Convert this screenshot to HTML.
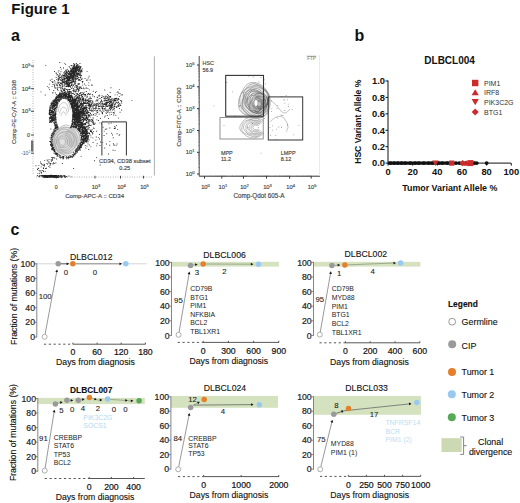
<!DOCTYPE html>
<html><head><meta charset="utf-8"><style>
html,body{margin:0;padding:0;background:#fff;width:520px;height:503px;overflow:hidden;}
svg{display:block;}
text{font-family:"Liberation Sans", sans-serif;}
</style></head><body>
<svg width="520" height="503" viewBox="0 0 520 503">
<rect width="520" height="503" fill="#fff"/>
<text x="11.30" y="13.60" font-size="15" font-weight="bold" text-anchor="start" fill="#111">Figure 1</text>
<text x="11.00" y="40.60" font-size="16" font-weight="bold" text-anchor="start" fill="#111">a</text>
<text x="354.60" y="41.20" font-size="16" font-weight="bold" text-anchor="start" fill="#111">b</text>
<text x="10.60" y="235.40" font-size="16" font-weight="bold" text-anchor="start" fill="#111">c</text>
<path d="M57.8 97.1h0.9v0.9h-0.9zM75.1 114.8h0.9v0.9h-0.9zM77.4 119.2h0.9v0.9h-0.9zM83.7 140.9h0.9v0.9h-0.9zM53.4 131.0h0.9v0.9h-0.9zM71.9 121.5h0.9v0.9h-0.9zM70.2 155.7h0.9v0.9h-0.9zM52.8 103.7h0.9v0.9h-0.9zM78.0 126.2h0.9v0.9h-0.9zM61.9 93.3h0.9v0.9h-0.9zM48.9 112.2h0.9v0.9h-0.9zM69.1 96.7h0.9v0.9h-0.9zM87.5 140.7h0.9v0.9h-0.9zM54.4 114.3h0.9v0.9h-0.9zM52.1 103.1h0.9v0.9h-0.9zM75.9 149.0h0.9v0.9h-0.9zM81.3 123.2h0.9v0.9h-0.9zM53.9 108.4h0.9v0.9h-0.9zM63.0 95.5h0.9v0.9h-0.9zM70.8 104.9h0.9v0.9h-0.9zM78.1 121.2h0.9v0.9h-0.9zM54.3 129.8h0.9v0.9h-0.9zM48.9 119.5h0.9v0.9h-0.9zM50.8 110.5h0.9v0.9h-0.9zM74.3 126.0h0.9v0.9h-0.9zM63.2 157.9h0.9v0.9h-0.9zM51.1 110.0h0.9v0.9h-0.9zM55.9 125.0h0.9v0.9h-0.9zM49.8 112.8h0.9v0.9h-0.9zM70.3 100.2h0.9v0.9h-0.9zM85.8 141.5h0.9v0.9h-0.9zM75.0 117.4h0.9v0.9h-0.9zM76.9 107.6h0.9v0.9h-0.9zM53.3 108.4h0.9v0.9h-0.9zM65.3 97.6h0.9v0.9h-0.9zM52.8 131.8h0.9v0.9h-0.9zM81.3 137.6h0.9v0.9h-0.9zM72.1 156.4h0.9v0.9h-0.9zM59.8 93.4h0.9v0.9h-0.9zM86.0 129.7h0.9v0.9h-0.9zM77.4 124.1h0.9v0.9h-0.9zM81.2 125.2h0.9v0.9h-0.9zM51.3 144.2h0.9v0.9h-0.9zM82.2 134.4h0.9v0.9h-0.9zM77.2 108.3h0.9v0.9h-0.9zM65.6 94.5h0.9v0.9h-0.9zM53.7 106.3h0.9v0.9h-0.9zM68.1 100.2h0.9v0.9h-0.9zM81.4 136.6h0.9v0.9h-0.9zM76.1 109.1h0.9v0.9h-0.9zM64.7 96.2h0.9v0.9h-0.9zM53.2 105.7h0.9v0.9h-0.9zM71.3 156.0h0.9v0.9h-0.9zM54.9 104.9h0.9v0.9h-0.9zM75.5 109.3h0.9v0.9h-0.9zM52.9 104.8h0.9v0.9h-0.9zM61.6 156.9h0.9v0.9h-0.9zM76.5 115.3h0.9v0.9h-0.9zM55.4 113.1h0.9v0.9h-0.9zM50.6 114.1h0.9v0.9h-0.9zM73.4 111.2h0.9v0.9h-0.9zM86.6 138.2h0.9v0.9h-0.9zM51.0 104.8h0.9v0.9h-0.9zM52.7 149.7h0.9v0.9h-0.9zM52.0 114.5h0.9v0.9h-0.9zM54.0 133.0h0.9v0.9h-0.9zM50.2 110.0h0.9v0.9h-0.9zM51.2 148.6h0.9v0.9h-0.9zM65.3 98.0h0.9v0.9h-0.9zM52.0 117.0h0.9v0.9h-0.9zM74.5 109.5h0.9v0.9h-0.9zM66.0 93.6h0.9v0.9h-0.9zM80.3 147.2h0.9v0.9h-0.9zM51.5 106.0h0.9v0.9h-0.9zM75.0 113.8h0.9v0.9h-0.9zM73.9 119.6h0.9v0.9h-0.9zM52.3 131.7h0.9v0.9h-0.9zM51.2 134.9h0.9v0.9h-0.9zM75.5 120.5h0.9v0.9h-0.9zM51.0 133.6h0.9v0.9h-0.9zM83.1 142.2h0.9v0.9h-0.9zM83.4 126.9h0.9v0.9h-0.9zM54.3 103.9h0.9v0.9h-0.9zM72.5 114.1h0.9v0.9h-0.9zM84.7 135.7h0.9v0.9h-0.9zM85.4 135.5h0.9v0.9h-0.9zM51.3 110.5h0.9v0.9h-0.9zM54.1 107.6h0.9v0.9h-0.9zM79.4 114.4h0.9v0.9h-0.9zM78.8 128.0h0.9v0.9h-0.9zM51.1 146.0h0.9v0.9h-0.9zM55.6 102.2h0.9v0.9h-0.9zM78.5 124.9h0.9v0.9h-0.9zM78.3 148.0h0.9v0.9h-0.9zM74.5 113.4h0.9v0.9h-0.9zM51.3 106.1h0.9v0.9h-0.9zM81.5 145.2h0.9v0.9h-0.9zM75.5 112.9h0.9v0.9h-0.9zM58.0 97.4h0.9v0.9h-0.9zM86.4 138.0h0.9v0.9h-0.9zM53.1 100.3h0.9v0.9h-0.9zM48.9 111.2h0.9v0.9h-0.9zM51.4 116.1h0.9v0.9h-0.9zM83.5 140.5h0.9v0.9h-0.9zM65.5 96.3h0.9v0.9h-0.9zM73.2 117.4h0.9v0.9h-0.9zM53.8 118.9h0.9v0.9h-0.9zM69.9 97.9h0.9v0.9h-0.9zM79.5 126.0h0.9v0.9h-0.9zM75.2 151.3h0.9v0.9h-0.9zM78.4 113.2h0.9v0.9h-0.9zM54.6 103.0h0.9v0.9h-0.9zM74.9 122.5h0.9v0.9h-0.9zM70.9 103.1h0.9v0.9h-0.9zM75.1 150.5h0.9v0.9h-0.9zM70.2 95.0h0.9v0.9h-0.9zM55.5 104.6h0.9v0.9h-0.9zM76.3 114.0h0.9v0.9h-0.9zM76.1 105.0h0.9v0.9h-0.9zM83.0 138.5h0.9v0.9h-0.9zM78.1 127.5h0.9v0.9h-0.9zM54.5 103.7h0.9v0.9h-0.9zM51.6 119.8h0.9v0.9h-0.9zM76.0 148.4h0.9v0.9h-0.9zM76.2 148.1h0.9v0.9h-0.9zM76.7 121.6h0.9v0.9h-0.9zM76.1 114.5h0.9v0.9h-0.9zM70.9 105.6h0.9v0.9h-0.9zM84.6 131.0h0.9v0.9h-0.9zM62.7 93.2h0.9v0.9h-0.9zM75.4 102.0h0.9v0.9h-0.9zM74.6 118.4h0.9v0.9h-0.9zM73.1 109.7h0.9v0.9h-0.9zM54.5 118.8h0.9v0.9h-0.9zM55.1 153.1h0.9v0.9h-0.9zM51.0 145.0h0.9v0.9h-0.9zM52.9 133.6h0.9v0.9h-0.9zM71.9 156.8h0.9v0.9h-0.9zM72.4 100.1h0.9v0.9h-0.9zM78.6 114.0h0.9v0.9h-0.9zM68.4 96.9h0.9v0.9h-0.9zM60.6 93.5h0.9v0.9h-0.9zM61.9 94.6h0.9v0.9h-0.9zM59.4 157.2h0.9v0.9h-0.9zM83.3 141.8h0.9v0.9h-0.9zM77.2 108.9h0.9v0.9h-0.9zM66.5 98.5h0.9v0.9h-0.9zM86.3 135.3h0.9v0.9h-0.9zM79.3 129.3h0.9v0.9h-0.9zM54.7 117.9h0.9v0.9h-0.9zM76.8 101.9h0.9v0.9h-0.9zM54.2 101.1h0.9v0.9h-0.9zM50.2 119.8h0.9v0.9h-0.9zM71.4 96.0h0.9v0.9h-0.9zM73.5 124.6h0.9v0.9h-0.9zM55.1 101.5h0.9v0.9h-0.9zM84.6 131.6h0.9v0.9h-0.9zM60.2 98.1h0.9v0.9h-0.9zM55.0 128.4h0.9v0.9h-0.9zM74.2 105.0h0.9v0.9h-0.9zM54.8 122.3h0.9v0.9h-0.9zM69.4 96.9h0.9v0.9h-0.9zM55.9 104.5h0.9v0.9h-0.9zM86.2 133.8h0.9v0.9h-0.9zM51.1 141.8h0.9v0.9h-0.9zM53.3 102.7h0.9v0.9h-0.9zM53.1 129.5h0.9v0.9h-0.9zM73.9 153.0h0.9v0.9h-0.9zM80.9 145.8h0.9v0.9h-0.9zM72.2 124.8h0.9v0.9h-0.9zM56.7 96.6h0.9v0.9h-0.9zM51.2 119.1h0.9v0.9h-0.9zM82.5 128.1h0.9v0.9h-0.9zM72.7 113.1h0.9v0.9h-0.9zM63.1 97.5h0.9v0.9h-0.9zM55.9 125.9h0.9v0.9h-0.9zM67.8 100.0h0.9v0.9h-0.9zM73.2 113.3h0.9v0.9h-0.9zM75.6 127.5h0.9v0.9h-0.9zM62.6 94.7h0.9v0.9h-0.9zM85.3 134.0h0.9v0.9h-0.9zM59.5 98.6h0.9v0.9h-0.9zM74.1 104.9h0.9v0.9h-0.9zM52.2 109.7h0.9v0.9h-0.9zM49.5 113.7h0.9v0.9h-0.9zM50.5 107.7h0.9v0.9h-0.9zM76.5 112.3h0.9v0.9h-0.9zM64.9 95.5h0.9v0.9h-0.9zM73.5 102.0h0.9v0.9h-0.9zM57.1 103.1h0.9v0.9h-0.9zM55.5 117.3h0.9v0.9h-0.9zM76.5 113.1h0.9v0.9h-0.9zM80.4 142.0h0.9v0.9h-0.9zM86.2 130.6h0.9v0.9h-0.9zM87.0 133.6h0.9v0.9h-0.9zM78.2 116.5h0.9v0.9h-0.9zM74.5 121.2h0.9v0.9h-0.9zM78.7 149.5h0.9v0.9h-0.9zM54.4 128.7h0.9v0.9h-0.9zM51.1 109.8h0.9v0.9h-0.9zM76.9 104.0h0.9v0.9h-0.9zM84.8 128.9h0.9v0.9h-0.9zM55.4 100.8h0.9v0.9h-0.9zM78.6 120.8h0.9v0.9h-0.9zM53.8 104.7h0.9v0.9h-0.9zM56.3 99.9h0.9v0.9h-0.9zM75.1 152.7h0.9v0.9h-0.9zM58.0 99.8h0.9v0.9h-0.9zM85.1 141.4h0.9v0.9h-0.9zM76.6 151.1h0.9v0.9h-0.9zM49.0 108.7h0.9v0.9h-0.9zM59.1 100.6h0.9v0.9h-0.9zM73.5 108.8h0.9v0.9h-0.9zM79.3 145.6h0.9v0.9h-0.9zM72.7 102.1h0.9v0.9h-0.9zM63.4 156.1h0.9v0.9h-0.9zM77.1 105.4h0.9v0.9h-0.9zM50.6 120.7h0.9v0.9h-0.9zM86.1 131.5h0.9v0.9h-0.9zM60.9 96.5h0.9v0.9h-0.9zM77.9 149.7h0.9v0.9h-0.9zM58.8 97.1h0.9v0.9h-0.9zM77.4 116.4h0.9v0.9h-0.9zM66.2 97.7h0.9v0.9h-0.9zM49.3 113.9h0.9v0.9h-0.9zM76.9 106.8h0.9v0.9h-0.9zM55.0 125.0h0.9v0.9h-0.9zM54.4 130.5h0.9v0.9h-0.9zM82.6 135.6h0.9v0.9h-0.9zM74.9 114.0h0.9v0.9h-0.9zM77.5 109.3h0.9v0.9h-0.9zM82.0 144.2h0.9v0.9h-0.9zM52.9 112.9h0.9v0.9h-0.9zM56.6 98.5h0.9v0.9h-0.9zM73.2 154.1h0.9v0.9h-0.9zM50.8 143.7h0.9v0.9h-0.9zM58.8 95.9h0.9v0.9h-0.9zM75.7 117.4h0.9v0.9h-0.9zM77.3 112.0h0.9v0.9h-0.9zM72.9 105.6h0.9v0.9h-0.9zM73.1 111.5h0.9v0.9h-0.9zM79.1 146.1h0.9v0.9h-0.9zM70.5 99.5h0.9v0.9h-0.9zM75.0 112.5h0.9v0.9h-0.9zM62.5 158.5h0.9v0.9h-0.9zM74.5 102.9h0.9v0.9h-0.9zM53.9 106.0h0.9v0.9h-0.9zM51.2 145.7h0.9v0.9h-0.9zM55.5 111.5h0.9v0.9h-0.9zM83.6 140.2h0.9v0.9h-0.9zM52.7 119.4h0.9v0.9h-0.9zM66.8 95.9h0.9v0.9h-0.9zM80.6 125.1h0.9v0.9h-0.9zM55.0 99.2h0.9v0.9h-0.9zM62.5 96.4h0.9v0.9h-0.9zM78.2 110.9h0.9v0.9h-0.9zM52.9 135.4h0.9v0.9h-0.9zM69.9 102.9h0.9v0.9h-0.9zM73.7 106.2h0.9v0.9h-0.9zM79.7 126.8h0.9v0.9h-0.9zM75.2 151.2h0.9v0.9h-0.9zM84.2 126.7h0.9v0.9h-0.9zM78.2 120.9h0.9v0.9h-0.9zM77.4 114.4h0.9v0.9h-0.9zM74.0 114.7h0.9v0.9h-0.9zM75.7 149.9h0.9v0.9h-0.9zM79.2 114.8h0.9v0.9h-0.9zM76.6 111.4h0.9v0.9h-0.9zM67.3 157.1h0.9v0.9h-0.9zM85.4 138.6h0.9v0.9h-0.9zM78.0 118.4h0.9v0.9h-0.9zM54.4 110.0h0.9v0.9h-0.9zM70.6 125.9h0.9v0.9h-0.9zM56.7 154.3h0.9v0.9h-0.9zM72.1 114.3h0.9v0.9h-0.9zM84.1 132.4h0.9v0.9h-0.9zM72.8 99.4h0.9v0.9h-0.9zM56.2 101.9h0.9v0.9h-0.9zM56.1 103.6h0.9v0.9h-0.9zM72.0 110.5h0.9v0.9h-0.9zM70.8 97.3h0.9v0.9h-0.9zM81.3 124.7h0.9v0.9h-0.9zM72.8 121.9h0.9v0.9h-0.9zM50.9 117.3h0.9v0.9h-0.9zM83.5 130.6h0.9v0.9h-0.9zM52.9 132.6h0.9v0.9h-0.9zM53.5 132.9h0.9v0.9h-0.9zM58.9 96.2h0.9v0.9h-0.9zM50.9 102.6h0.9v0.9h-0.9zM81.3 135.9h0.9v0.9h-0.9zM50.9 135.0h0.9v0.9h-0.9zM79.5 112.9h0.9v0.9h-0.9zM84.1 132.2h0.9v0.9h-0.9zM50.9 121.6h0.9v0.9h-0.9zM79.1 116.4h0.9v0.9h-0.9zM51.8 113.3h0.9v0.9h-0.9zM86.4 134.5h0.9v0.9h-0.9zM74.3 120.5h0.9v0.9h-0.9zM85.9 139.7h0.9v0.9h-0.9zM80.1 145.0h0.9v0.9h-0.9zM81.1 136.3h0.9v0.9h-0.9zM84.3 139.1h0.9v0.9h-0.9zM55.3 97.9h0.9v0.9h-0.9zM50.3 109.8h0.9v0.9h-0.9zM57.3 97.2h0.9v0.9h-0.9zM74.7 105.8h0.9v0.9h-0.9zM85.5 130.3h0.9v0.9h-0.9zM54.6 104.5h0.9v0.9h-0.9zM81.5 139.2h0.9v0.9h-0.9zM55.1 152.6h0.9v0.9h-0.9zM67.5 156.9h0.9v0.9h-0.9zM55.0 102.0h0.9v0.9h-0.9zM74.6 112.2h0.9v0.9h-0.9zM79.8 131.8h0.9v0.9h-0.9zM72.4 103.1h0.9v0.9h-0.9zM50.4 117.2h0.9v0.9h-0.9zM55.5 100.5h0.9v0.9h-0.9zM80.5 126.3h0.9v0.9h-0.9zM54.6 129.8h0.9v0.9h-0.9zM79.7 142.6h0.9v0.9h-0.9zM54.5 113.4h0.9v0.9h-0.9zM59.5 156.9h0.9v0.9h-0.9zM65.0 93.2h0.9v0.9h-0.9zM72.2 115.3h0.9v0.9h-0.9zM75.2 101.5h0.9v0.9h-0.9zM61.0 93.3h0.9v0.9h-0.9zM51.0 121.5h0.9v0.9h-0.9zM78.9 120.2h0.9v0.9h-0.9zM65.9 96.3h0.9v0.9h-0.9zM85.3 135.7h0.9v0.9h-0.9zM68.2 93.5h0.9v0.9h-0.9zM51.4 119.3h0.9v0.9h-0.9zM72.9 126.6h0.9v0.9h-0.9zM55.1 105.0h0.9v0.9h-0.9zM74.5 114.4h0.9v0.9h-0.9zM51.7 108.0h0.9v0.9h-0.9zM78.2 109.3h0.9v0.9h-0.9zM77.8 106.9h0.9v0.9h-0.9zM84.2 138.7h0.9v0.9h-0.9zM71.3 102.9h0.9v0.9h-0.9zM52.3 100.5h0.9v0.9h-0.9zM52.0 115.7h0.9v0.9h-0.9zM64.2 94.5h0.9v0.9h-0.9zM52.2 144.5h0.9v0.9h-0.9zM52.5 132.8h0.9v0.9h-0.9zM81.2 131.7h0.9v0.9h-0.9zM60.6 98.0h0.9v0.9h-0.9zM73.4 105.6h0.9v0.9h-0.9zM72.2 121.2h0.9v0.9h-0.9zM62.5 156.1h0.9v0.9h-0.9zM84.4 137.3h0.9v0.9h-0.9zM68.2 94.3h0.9v0.9h-0.9zM53.0 114.3h0.9v0.9h-0.9zM74.3 122.7h0.9v0.9h-0.9zM77.0 149.0h0.9v0.9h-0.9zM52.8 119.5h0.9v0.9h-0.9zM51.8 106.3h0.9v0.9h-0.9zM54.1 150.7h0.9v0.9h-0.9zM72.4 100.9h0.9v0.9h-0.9zM52.6 106.2h0.9v0.9h-0.9zM78.3 106.0h0.9v0.9h-0.9zM52.6 148.8h0.9v0.9h-0.9zM50.5 141.6h0.9v0.9h-0.9zM71.1 96.1h0.9v0.9h-0.9zM53.3 105.7h0.9v0.9h-0.9zM52.4 146.7h0.9v0.9h-0.9zM68.3 97.1h0.9v0.9h-0.9zM79.4 127.3h0.9v0.9h-0.9zM76.8 102.8h0.9v0.9h-0.9zM79.2 146.6h0.9v0.9h-0.9zM74.1 109.0h0.9v0.9h-0.9zM73.2 108.1h0.9v0.9h-0.9zM54.0 122.5h0.9v0.9h-0.9zM58.8 100.0h0.9v0.9h-0.9zM54.6 114.3h0.9v0.9h-0.9zM60.8 93.8h0.9v0.9h-0.9zM80.0 145.4h0.9v0.9h-0.9zM76.1 115.5h0.9v0.9h-0.9zM51.8 112.2h0.9v0.9h-0.9zM57.1 154.9h0.9v0.9h-0.9zM51.4 114.0h0.9v0.9h-0.9zM72.5 119.6h0.9v0.9h-0.9zM73.1 105.7h0.9v0.9h-0.9zM55.2 118.6h0.9v0.9h-0.9zM81.2 142.0h0.9v0.9h-0.9zM56.7 98.0h0.9v0.9h-0.9zM50.6 110.3h0.9v0.9h-0.9zM67.8 99.7h0.9v0.9h-0.9zM61.6 97.2h0.9v0.9h-0.9zM56.4 129.3h0.9v0.9h-0.9zM75.2 123.2h0.9v0.9h-0.9zM54.3 114.6h0.9v0.9h-0.9zM55.2 111.6h0.9v0.9h-0.9zM50.6 144.8h0.9v0.9h-0.9zM61.2 92.5h0.9v0.9h-0.9zM53.9 103.6h0.9v0.9h-0.9zM71.7 121.1h0.9v0.9h-0.9zM83.2 126.2h0.9v0.9h-0.9zM73.8 110.3h0.9v0.9h-0.9zM72.3 119.2h0.9v0.9h-0.9zM76.0 107.2h0.9v0.9h-0.9zM66.0 94.5h0.9v0.9h-0.9zM75.0 115.1h0.9v0.9h-0.9zM82.4 135.5h0.9v0.9h-0.9zM64.4 92.9h0.9v0.9h-0.9zM77.6 129.3h0.9v0.9h-0.9zM81.9 132.2h0.9v0.9h-0.9zM77.7 114.0h0.9v0.9h-0.9zM76.8 113.8h0.9v0.9h-0.9zM73.3 109.0h0.9v0.9h-0.9zM76.9 151.8h0.9v0.9h-0.9zM73.2 99.5h0.9v0.9h-0.9zM75.7 118.9h0.9v0.9h-0.9zM57.0 126.0h0.9v0.9h-0.9zM78.8 119.3h0.9v0.9h-0.9zM79.4 125.9h0.9v0.9h-0.9zM52.2 117.1h0.9v0.9h-0.9zM77.9 119.5h0.9v0.9h-0.9zM50.7 138.6h0.9v0.9h-0.9zM66.0 96.3h0.9v0.9h-0.9zM66.6 95.2h0.9v0.9h-0.9zM87.6 135.9h0.9v0.9h-0.9zM59.4 155.0h0.9v0.9h-0.9zM71.1 100.7h0.9v0.9h-0.9zM52.2 107.2h0.9v0.9h-0.9zM78.7 147.5h0.9v0.9h-0.9zM81.5 143.7h0.9v0.9h-0.9zM51.4 103.7h0.9v0.9h-0.9zM83.1 137.4h0.9v0.9h-0.9zM78.1 106.8h0.9v0.9h-0.9zM52.6 112.0h0.9v0.9h-0.9zM80.5 124.0h0.9v0.9h-0.9zM72.7 105.4h0.9v0.9h-0.9zM74.4 100.1h0.9v0.9h-0.9zM73.6 108.5h0.9v0.9h-0.9zM73.1 125.8h0.9v0.9h-0.9zM72.3 115.2h0.9v0.9h-0.9zM60.3 94.2h0.9v0.9h-0.9zM76.1 127.6h0.9v0.9h-0.9zM76.6 120.7h0.9v0.9h-0.9zM82.9 130.7h0.9v0.9h-0.9zM52.2 120.4h0.9v0.9h-0.9zM85.7 130.3h0.9v0.9h-0.9zM85.2 137.2h0.9v0.9h-0.9zM77.9 127.6h0.9v0.9h-0.9zM78.5 122.1h0.9v0.9h-0.9zM78.2 116.7h0.9v0.9h-0.9zM52.3 102.4h0.9v0.9h-0.9zM76.2 117.5h0.9v0.9h-0.9zM68.9 97.3h0.9v0.9h-0.9zM71.8 102.4h0.9v0.9h-0.9zM85.7 129.2h0.9v0.9h-0.9zM56.1 154.0h0.9v0.9h-0.9zM71.8 100.2h0.9v0.9h-0.9zM78.3 147.4h0.9v0.9h-0.9zM49.8 117.5h0.9v0.9h-0.9zM53.5 129.6h0.9v0.9h-0.9zM74.8 152.4h0.9v0.9h-0.9zM79.2 143.3h0.9v0.9h-0.9zM51.3 136.4h0.9v0.9h-0.9zM72.8 111.9h0.9v0.9h-0.9zM56.8 128.7h0.9v0.9h-0.9zM60.3 99.4h0.9v0.9h-0.9zM62.8 94.8h0.9v0.9h-0.9zM51.2 120.2h0.9v0.9h-0.9zM60.7 95.1h0.9v0.9h-0.9zM55.3 124.8h0.9v0.9h-0.9zM50.3 120.0h0.9v0.9h-0.9zM56.4 107.0h0.9v0.9h-0.9zM79.6 114.9h0.9v0.9h-0.9zM54.1 150.1h0.9v0.9h-0.9zM75.6 149.8h0.9v0.9h-0.9zM80.7 137.0h0.9v0.9h-0.9zM68.3 100.0h0.9v0.9h-0.9zM51.7 111.9h0.9v0.9h-0.9zM54.7 116.6h0.9v0.9h-0.9zM52.6 105.2h0.9v0.9h-0.9zM78.3 129.0h0.9v0.9h-0.9zM79.0 130.8h0.9v0.9h-0.9zM82.9 135.3h0.9v0.9h-0.9zM84.7 130.3h0.9v0.9h-0.9zM60.4 93.2h0.9v0.9h-0.9zM83.6 135.5h0.9v0.9h-0.9zM72.2 104.0h0.9v0.9h-0.9zM56.8 124.3h0.9v0.9h-0.9zM51.1 111.9h0.9v0.9h-0.9zM86.0 140.8h0.9v0.9h-0.9zM62.2 93.2h0.9v0.9h-0.9zM73.0 154.7h0.9v0.9h-0.9zM73.9 111.5h0.9v0.9h-0.9zM75.7 149.0h0.9v0.9h-0.9zM53.1 115.5h0.9v0.9h-0.9zM58.1 97.5h0.9v0.9h-0.9zM67.9 96.5h0.9v0.9h-0.9zM74.9 151.6h0.9v0.9h-0.9zM86.7 130.3h0.9v0.9h-0.9zM55.2 105.1h0.9v0.9h-0.9zM69.9 95.8h0.9v0.9h-0.9zM53.3 148.1h0.9v0.9h-0.9zM83.1 127.5h0.9v0.9h-0.9zM51.8 111.0h0.9v0.9h-0.9zM55.5 154.1h0.9v0.9h-0.9zM76.3 109.6h0.9v0.9h-0.9zM51.8 145.2h0.9v0.9h-0.9zM52.2 115.0h0.9v0.9h-0.9zM74.8 114.2h0.9v0.9h-0.9zM53.8 110.2h0.9v0.9h-0.9zM48.8 112.7h0.9v0.9h-0.9zM76.0 103.0h0.9v0.9h-0.9zM74.4 107.3h0.9v0.9h-0.9zM79.4 112.8h0.9v0.9h-0.9zM84.4 132.7h0.9v0.9h-0.9zM76.0 116.4h0.9v0.9h-0.9zM70.9 100.3h0.9v0.9h-0.9zM51.5 147.7h0.9v0.9h-0.9zM81.6 124.1h0.9v0.9h-0.9zM75.0 120.5h0.9v0.9h-0.9zM50.9 109.9h0.9v0.9h-0.9zM71.8 98.8h0.9v0.9h-0.9zM78.3 129.9h0.9v0.9h-0.9zM50.9 119.4h0.9v0.9h-0.9zM55.0 102.0h0.9v0.9h-0.9zM56.8 127.1h0.9v0.9h-0.9zM82.6 142.9h0.9v0.9h-0.9zM83.5 129.9h0.9v0.9h-0.9zM52.0 146.2h0.9v0.9h-0.9zM83.1 142.9h0.9v0.9h-0.9zM87.3 139.2h0.9v0.9h-0.9zM80.0 133.5h0.9v0.9h-0.9zM78.2 124.4h0.9v0.9h-0.9zM67.0 96.6h0.9v0.9h-0.9zM53.2 121.8h0.9v0.9h-0.9zM81.0 136.8h0.9v0.9h-0.9zM82.9 126.3h0.9v0.9h-0.9zM72.4 124.5h0.9v0.9h-0.9zM81.6 130.8h0.9v0.9h-0.9zM79.3 121.7h0.9v0.9h-0.9zM84.5 138.3h0.9v0.9h-0.9zM66.0 156.3h0.9v0.9h-0.9zM72.4 118.7h0.9v0.9h-0.9zM52.6 112.4h0.9v0.9h-0.9zM49.4 109.5h0.9v0.9h-0.9zM72.2 107.1h0.9v0.9h-0.9zM54.4 120.1h0.9v0.9h-0.9zM51.8 111.6h0.9v0.9h-0.9zM77.5 115.5h0.9v0.9h-0.9zM78.4 121.9h0.9v0.9h-0.9zM69.0 101.5h0.9v0.9h-0.9zM49.7 111.9h0.9v0.9h-0.9zM77.5 128.5h0.9v0.9h-0.9zM54.3 101.9h0.9v0.9h-0.9zM85.3 129.0h0.9v0.9h-0.9zM56.0 107.4h0.9v0.9h-0.9zM83.4 140.8h0.9v0.9h-0.9zM72.2 119.4h0.9v0.9h-0.9zM75.9 113.5h0.9v0.9h-0.9zM55.5 106.8h0.9v0.9h-0.9zM59.2 99.9h0.9v0.9h-0.9zM68.1 99.4h0.9v0.9h-0.9zM56.2 153.1h0.9v0.9h-0.9zM57.6 95.7h0.9v0.9h-0.9zM49.1 117.2h0.9v0.9h-0.9zM78.1 114.7h0.9v0.9h-0.9zM58.9 97.3h0.9v0.9h-0.9zM81.8 129.4h0.9v0.9h-0.9zM75.2 149.5h0.9v0.9h-0.9zM83.0 139.4h0.9v0.9h-0.9zM60.0 155.5h0.9v0.9h-0.9zM84.3 127.3h0.9v0.9h-0.9zM54.4 120.8h0.9v0.9h-0.9zM86.1 129.7h0.9v0.9h-0.9zM73.2 112.7h0.9v0.9h-0.9zM59.0 95.1h0.9v0.9h-0.9zM52.2 102.7h0.9v0.9h-0.9zM49.7 106.7h0.9v0.9h-0.9zM56.8 99.1h0.9v0.9h-0.9zM54.0 114.4h0.9v0.9h-0.9zM72.0 103.9h0.9v0.9h-0.9zM59.2 96.5h0.9v0.9h-0.9zM55.1 126.5h0.9v0.9h-0.9zM72.9 114.2h0.9v0.9h-0.9zM53.0 132.0h0.9v0.9h-0.9zM52.3 120.1h0.9v0.9h-0.9zM48.9 117.2h0.9v0.9h-0.9zM78.5 110.9h0.9v0.9h-0.9zM81.0 138.6h0.9v0.9h-0.9zM60.4 95.3h0.9v0.9h-0.9zM52.3 135.4h0.9v0.9h-0.9zM51.2 112.6h0.9v0.9h-0.9zM81.0 135.4h0.9v0.9h-0.9zM74.8 101.2h0.9v0.9h-0.9zM57.6 155.6h0.9v0.9h-0.9zM63.0 93.9h0.9v0.9h-0.9zM84.1 131.5h0.9v0.9h-0.9zM52.4 111.0h0.9v0.9h-0.9zM80.9 141.2h0.9v0.9h-0.9zM79.4 143.5h0.9v0.9h-0.9zM73.9 101.5h0.9v0.9h-0.9zM74.1 103.2h0.9v0.9h-0.9zM87.6 135.6h0.9v0.9h-0.9zM54.5 125.7h0.9v0.9h-0.9zM53.4 110.9h0.9v0.9h-0.9zM74.1 115.2h0.9v0.9h-0.9zM59.0 101.0h0.9v0.9h-0.9zM52.9 115.5h0.9v0.9h-0.9zM75.0 127.0h0.9v0.9h-0.9zM59.3 155.9h0.9v0.9h-0.9zM53.2 132.1h0.9v0.9h-0.9zM79.0 124.1h0.9v0.9h-0.9zM61.4 95.7h0.9v0.9h-0.9zM80.8 124.5h0.9v0.9h-0.9zM75.4 107.7h0.9v0.9h-0.9zM52.2 106.7h0.9v0.9h-0.9zM79.2 148.5h0.9v0.9h-0.9zM65.9 156.3h0.9v0.9h-0.9zM64.8 93.4h0.9v0.9h-0.9zM71.9 120.7h0.9v0.9h-0.9zM54.4 106.1h0.9v0.9h-0.9zM68.4 94.1h0.9v0.9h-0.9zM83.8 128.7h0.9v0.9h-0.9zM72.0 104.1h0.9v0.9h-0.9zM72.0 110.7h0.9v0.9h-0.9zM74.6 108.1h0.9v0.9h-0.9zM82.1 125.0h0.9v0.9h-0.9zM77.3 112.0h0.9v0.9h-0.9zM48.8 114.2h0.9v0.9h-0.9zM83.3 139.5h0.9v0.9h-0.9zM51.9 105.5h0.9v0.9h-0.9zM55.5 122.1h0.9v0.9h-0.9zM50.9 134.9h0.9v0.9h-0.9zM70.0 98.2h0.9v0.9h-0.9zM87.6 136.6h0.9v0.9h-0.9zM58.8 96.5h0.9v0.9h-0.9zM87.6 141.4h0.9v0.9h-0.9zM71.7 99.5h0.9v0.9h-0.9zM58.3 96.9h0.9v0.9h-0.9zM79.0 121.8h0.9v0.9h-0.9zM55.2 118.6h0.9v0.9h-0.9zM68.7 99.6h0.9v0.9h-0.9zM57.0 153.1h0.9v0.9h-0.9zM84.3 137.1h0.9v0.9h-0.9zM54.7 151.7h0.9v0.9h-0.9zM54.0 117.9h0.9v0.9h-0.9zM54.2 102.8h0.9v0.9h-0.9zM76.9 112.3h0.9v0.9h-0.9zM68.3 93.3h0.9v0.9h-0.9zM82.8 136.8h0.9v0.9h-0.9zM79.4 128.8h0.9v0.9h-0.9zM49.8 112.1h0.9v0.9h-0.9zM57.9 153.7h0.9v0.9h-0.9zM54.3 118.7h0.9v0.9h-0.9zM57.5 127.7h0.9v0.9h-0.9zM56.0 121.5h0.9v0.9h-0.9zM75.9 119.3h0.9v0.9h-0.9zM53.5 99.6h0.9v0.9h-0.9zM71.8 105.1h0.9v0.9h-0.9zM84.6 139.1h0.9v0.9h-0.9zM76.1 120.3h0.9v0.9h-0.9zM77.8 125.7h0.9v0.9h-0.9zM74.1 119.9h0.9v0.9h-0.9zM63.4 96.7h0.9v0.9h-0.9zM71.7 107.1h0.9v0.9h-0.9zM50.2 109.4h0.9v0.9h-0.9zM67.3 94.0h0.9v0.9h-0.9zM55.6 100.0h0.9v0.9h-0.9zM70.4 101.0h0.9v0.9h-0.9zM76.3 126.8h0.9v0.9h-0.9zM71.9 102.5h0.9v0.9h-0.9zM61.8 156.5h0.9v0.9h-0.9zM82.0 133.0h0.9v0.9h-0.9zM81.5 139.2h0.9v0.9h-0.9zM81.9 128.4h0.9v0.9h-0.9zM50.1 144.9h0.9v0.9h-0.9zM50.3 111.8h0.9v0.9h-0.9zM68.1 98.9h0.9v0.9h-0.9zM73.4 99.6h0.9v0.9h-0.9zM50.2 141.3h0.9v0.9h-0.9zM55.6 122.4h0.9v0.9h-0.9zM80.9 146.2h0.9v0.9h-0.9zM48.9 110.0h0.9v0.9h-0.9zM71.1 127.2h0.9v0.9h-0.9zM49.3 110.7h0.9v0.9h-0.9zM52.1 100.7h0.9v0.9h-0.9zM73.8 111.0h0.9v0.9h-0.9zM82.2 130.9h0.9v0.9h-0.9zM74.8 104.1h0.9v0.9h-0.9zM78.3 117.5h0.9v0.9h-0.9zM79.7 131.7h0.9v0.9h-0.9zM79.3 111.3h0.9v0.9h-0.9zM72.4 105.8h0.9v0.9h-0.9zM51.3 103.5h0.9v0.9h-0.9zM53.7 149.1h0.9v0.9h-0.9zM65.6 157.2h0.9v0.9h-0.9zM76.9 117.0h0.9v0.9h-0.9zM51.9 105.9h0.9v0.9h-0.9zM58.7 95.2h0.9v0.9h-0.9zM71.0 95.8h0.9v0.9h-0.9zM64.7 95.7h0.9v0.9h-0.9zM57.3 128.4h0.9v0.9h-0.9zM73.9 116.0h0.9v0.9h-0.9zM73.4 116.8h0.9v0.9h-0.9zM55.1 99.8h0.9v0.9h-0.9zM59.8 157.3h0.9v0.9h-0.9zM86.4 137.1h0.9v0.9h-0.9zM54.2 110.1h0.9v0.9h-0.9zM57.6 96.5h0.9v0.9h-0.9zM49.7 114.5h0.9v0.9h-0.9zM58.7 99.2h0.9v0.9h-0.9zM66.2 95.5h0.9v0.9h-0.9zM75.9 117.9h0.9v0.9h-0.9zM50.9 107.3h0.9v0.9h-0.9zM82.1 142.5h0.9v0.9h-0.9zM75.7 126.3h0.9v0.9h-0.9zM82.3 124.2h0.9v0.9h-0.9zM59.0 94.0h0.9v0.9h-0.9zM81.6 130.6h0.9v0.9h-0.9zM72.9 100.2h0.9v0.9h-0.9zM54.0 123.9h0.9v0.9h-0.9zM82.2 136.2h0.9v0.9h-0.9zM77.2 117.4h0.9v0.9h-0.9zM54.1 119.9h0.9v0.9h-0.9zM53.9 150.6h0.9v0.9h-0.9zM77.0 120.2h0.9v0.9h-0.9zM55.4 98.9h0.9v0.9h-0.9zM79.1 120.9h0.9v0.9h-0.9zM75.0 112.1h0.9v0.9h-0.9zM71.0 100.8h0.9v0.9h-0.9zM70.2 95.5h0.9v0.9h-0.9zM60.9 95.8h0.9v0.9h-0.9zM73.4 103.3h0.9v0.9h-0.9zM52.0 136.0h0.9v0.9h-0.9zM72.0 124.0h0.9v0.9h-0.9zM68.6 98.4h0.9v0.9h-0.9zM54.0 100.3h0.9v0.9h-0.9zM72.8 102.8h0.9v0.9h-0.9zM64.8 95.0h0.9v0.9h-0.9zM55.1 115.2h0.9v0.9h-0.9zM78.2 116.7h0.9v0.9h-0.9zM70.5 126.8h0.9v0.9h-0.9zM86.2 136.3h0.9v0.9h-0.9zM79.5 112.4h0.9v0.9h-0.9zM53.6 112.0h0.9v0.9h-0.9zM76.1 123.7h0.9v0.9h-0.9zM74.1 114.3h0.9v0.9h-0.9zM80.5 143.8h0.9v0.9h-0.9zM60.8 156.9h0.9v0.9h-0.9zM79.8 142.5h0.9v0.9h-0.9zM53.8 153.2h0.9v0.9h-0.9zM80.8 145.0h0.9v0.9h-0.9zM62.4 157.6h0.9v0.9h-0.9zM74.3 118.0h0.9v0.9h-0.9zM54.7 127.3h0.9v0.9h-0.9zM75.2 113.3h0.9v0.9h-0.9zM81.4 136.0h0.9v0.9h-0.9zM72.1 125.9h0.9v0.9h-0.9zM76.1 124.7h0.9v0.9h-0.9zM52.2 103.4h0.9v0.9h-0.9zM56.6 124.0h0.9v0.9h-0.9zM79.7 144.5h0.9v0.9h-0.9zM54.5 105.1h0.9v0.9h-0.9zM64.6 97.7h0.9v0.9h-0.9zM80.7 144.2h0.9v0.9h-0.9zM81.6 123.6h0.9v0.9h-0.9zM78.0 119.7h0.9v0.9h-0.9zM83.3 132.6h0.9v0.9h-0.9zM75.6 149.3h0.9v0.9h-0.9zM84.7 135.0h0.9v0.9h-0.9zM75.3 109.5h0.9v0.9h-0.9zM75.4 112.8h0.9v0.9h-0.9zM50.8 145.3h0.9v0.9h-0.9zM78.7 114.3h0.9v0.9h-0.9zM49.2 121.5h0.9v0.9h-0.9zM75.4 100.9h0.9v0.9h-0.9zM73.9 99.8h0.9v0.9h-0.9zM74.0 104.5h0.9v0.9h-0.9zM57.5 126.7h0.9v0.9h-0.9zM81.4 125.5h0.9v0.9h-0.9zM83.0 140.6h0.9v0.9h-0.9zM49.9 121.9h0.9v0.9h-0.9zM78.0 121.9h0.9v0.9h-0.9zM79.3 118.3h0.9v0.9h-0.9zM78.5 130.1h0.9v0.9h-0.9zM68.6 96.6h0.9v0.9h-0.9zM49.4 108.3h0.9v0.9h-0.9zM74.1 116.7h0.9v0.9h-0.9zM83.9 128.7h0.9v0.9h-0.9zM72.6 117.6h0.9v0.9h-0.9zM53.0 119.3h0.9v0.9h-0.9zM81.1 125.4h0.9v0.9h-0.9zM71.4 103.5h0.9v0.9h-0.9zM60.0 99.6h0.9v0.9h-0.9zM48.8 112.5h0.9v0.9h-0.9zM56.4 99.9h0.9v0.9h-0.9zM79.5 124.1h0.9v0.9h-0.9zM52.5 144.9h0.9v0.9h-0.9zM71.9 106.7h0.9v0.9h-0.9zM55.9 98.7h0.9v0.9h-0.9zM55.5 114.2h0.9v0.9h-0.9zM54.2 113.4h0.9v0.9h-0.9zM85.3 130.3h0.9v0.9h-0.9zM85.7 136.2h0.9v0.9h-0.9zM75.7 109.3h0.9v0.9h-0.9zM82.0 127.2h0.9v0.9h-0.9zM82.5 139.3h0.9v0.9h-0.9zM86.2 140.7h0.9v0.9h-0.9zM85.7 132.6h0.9v0.9h-0.9zM62.6 94.2h0.9v0.9h-0.9zM52.2 136.7h0.9v0.9h-0.9zM55.9 102.1h0.9v0.9h-0.9zM86.8 135.6h0.9v0.9h-0.9zM73.2 119.0h0.9v0.9h-0.9zM85.2 127.7h0.9v0.9h-0.9zM77.6 127.7h0.9v0.9h-0.9zM73.1 127.0h0.9v0.9h-0.9zM53.2 120.2h0.9v0.9h-0.9zM51.0 142.9h0.9v0.9h-0.9zM85.0 137.4h0.9v0.9h-0.9zM74.8 126.0h0.9v0.9h-0.9zM53.6 150.9h0.9v0.9h-0.9zM80.7 128.8h0.9v0.9h-0.9zM77.6 105.9h0.9v0.9h-0.9zM57.4 99.8h0.9v0.9h-0.9zM69.6 156.7h0.9v0.9h-0.9zM61.4 96.8h0.9v0.9h-0.9zM81.2 126.1h0.9v0.9h-0.9zM80.8 124.5h0.9v0.9h-0.9zM71.9 118.6h0.9v0.9h-0.9zM56.9 129.4h0.9v0.9h-0.9zM82.0 143.2h0.9v0.9h-0.9zM75.6 103.9h0.9v0.9h-0.9zM51.8 143.6h0.9v0.9h-0.9zM81.8 139.4h0.9v0.9h-0.9zM58.9 100.3h0.9v0.9h-0.9zM73.7 117.6h0.9v0.9h-0.9zM69.8 96.2h0.9v0.9h-0.9zM63.8 97.2h0.9v0.9h-0.9zM57.1 104.6h0.9v0.9h-0.9zM70.3 101.9h0.9v0.9h-0.9zM79.0 129.7h0.9v0.9h-0.9zM54.9 104.8h0.9v0.9h-0.9zM71.9 109.4h0.9v0.9h-0.9zM62.8 96.8h0.9v0.9h-0.9zM85.5 129.0h0.9v0.9h-0.9zM63.9 97.8h0.9v0.9h-0.9zM71.1 95.9h0.9v0.9h-0.9zM54.1 109.0h0.9v0.9h-0.9zM50.6 141.1h0.9v0.9h-0.9zM60.1 94.4h0.9v0.9h-0.9zM72.8 112.0h0.9v0.9h-0.9zM60.2 157.7h0.9v0.9h-0.9zM77.3 107.9h0.9v0.9h-0.9zM54.5 100.4h0.9v0.9h-0.9zM77.1 115.8h0.9v0.9h-0.9zM79.4 113.1h0.9v0.9h-0.9zM70.4 98.6h0.9v0.9h-0.9zM55.5 108.8h0.9v0.9h-0.9zM59.3 99.8h0.9v0.9h-0.9zM72.3 117.0h0.9v0.9h-0.9zM80.5 139.3h0.9v0.9h-0.9zM74.4 121.8h0.9v0.9h-0.9zM84.8 129.3h0.9v0.9h-0.9zM56.7 99.3h0.9v0.9h-0.9zM78.9 146.7h0.9v0.9h-0.9zM76.7 108.9h0.9v0.9h-0.9zM54.1 100.5h0.9v0.9h-0.9zM77.8 120.3h0.9v0.9h-0.9zM68.6 95.2h0.9v0.9h-0.9zM53.3 112.5h0.9v0.9h-0.9zM53.3 104.0h0.9v0.9h-0.9zM76.7 120.8h0.9v0.9h-0.9zM80.8 146.8h0.9v0.9h-0.9zM85.5 140.3h0.9v0.9h-0.9zM84.5 136.3h0.9v0.9h-0.9zM78.2 122.1h0.9v0.9h-0.9zM55.7 109.5h0.9v0.9h-0.9zM80.9 145.7h0.9v0.9h-0.9zM84.1 132.8h0.9v0.9h-0.9zM51.6 101.8h0.9v0.9h-0.9zM78.0 110.0h0.9v0.9h-0.9zM51.6 134.7h0.9v0.9h-0.9zM79.7 123.8h0.9v0.9h-0.9zM56.2 98.4h0.9v0.9h-0.9zM76.8 118.7h0.9v0.9h-0.9zM78.2 115.6h0.9v0.9h-0.9zM53.4 148.3h0.9v0.9h-0.9zM55.4 130.2h0.9v0.9h-0.9zM57.2 103.2h0.9v0.9h-0.9zM84.6 139.3h0.9v0.9h-0.9zM55.2 108.1h0.9v0.9h-0.9zM76.1 107.9h0.9v0.9h-0.9zM70.5 100.1h0.9v0.9h-0.9zM80.4 139.4h0.9v0.9h-0.9zM71.0 106.4h0.9v0.9h-0.9zM72.8 116.5h0.9v0.9h-0.9zM71.9 104.8h0.9v0.9h-0.9zM77.8 118.2h0.9v0.9h-0.9zM81.8 129.5h0.9v0.9h-0.9zM80.5 133.0h0.9v0.9h-0.9zM54.1 114.7h0.9v0.9h-0.9zM86.6 136.9h0.9v0.9h-0.9zM53.1 115.9h0.9v0.9h-0.9zM69.2 99.2h0.9v0.9h-0.9zM77.1 149.5h0.9v0.9h-0.9zM71.9 154.0h0.9v0.9h-0.9zM58.2 98.7h0.9v0.9h-0.9zM51.6 120.3h0.9v0.9h-0.9zM50.6 118.2h0.9v0.9h-0.9zM71.2 125.9h0.9v0.9h-0.9zM76.5 112.9h0.9v0.9h-0.9zM55.6 118.8h0.9v0.9h-0.9zM51.7 146.4h0.9v0.9h-0.9zM73.0 105.8h0.9v0.9h-0.9zM75.9 150.8h0.9v0.9h-0.9zM87.5 138.3h0.9v0.9h-0.9zM72.4 100.8h0.9v0.9h-0.9zM84.6 130.6h0.9v0.9h-0.9zM56.5 123.7h0.9v0.9h-0.9zM56.8 105.6h0.9v0.9h-0.9zM74.4 109.2h0.9v0.9h-0.9zM82.6 141.4h0.9v0.9h-0.9zM73.5 98.9h0.9v0.9h-0.9zM83.1 132.3h0.9v0.9h-0.9zM54.9 103.7h0.9v0.9h-0.9zM75.4 117.6h0.9v0.9h-0.9zM56.4 155.7h0.9v0.9h-0.9zM49.5 109.2h0.9v0.9h-0.9zM78.0 116.0h0.9v0.9h-0.9zM83.6 138.0h0.9v0.9h-0.9zM56.4 98.1h0.9v0.9h-0.9zM69.4 101.6h0.9v0.9h-0.9zM50.0 141.9h0.9v0.9h-0.9zM51.2 104.0h0.9v0.9h-0.9zM52.4 118.4h0.9v0.9h-0.9zM53.2 106.3h0.9v0.9h-0.9zM73.9 101.0h0.9v0.9h-0.9zM78.1 114.4h0.9v0.9h-0.9zM53.0 132.9h0.9v0.9h-0.9zM69.9 155.7h0.9v0.9h-0.9zM55.1 99.3h0.9v0.9h-0.9zM67.9 158.4h0.9v0.9h-0.9zM78.1 120.2h0.9v0.9h-0.9zM54.1 149.3h0.9v0.9h-0.9zM73.8 119.4h0.9v0.9h-0.9zM54.9 112.7h0.9v0.9h-0.9zM79.2 128.9h0.9v0.9h-0.9zM52.6 107.4h0.9v0.9h-0.9zM50.4 115.9h0.9v0.9h-0.9zM60.7 96.5h0.9v0.9h-0.9zM55.4 131.0h0.9v0.9h-0.9zM49.5 107.1h0.9v0.9h-0.9zM73.1 110.8h0.9v0.9h-0.9zM77.1 108.0h0.9v0.9h-0.9zM80.7 142.0h0.9v0.9h-0.9zM78.7 148.5h0.9v0.9h-0.9zM64.0 97.0h0.9v0.9h-0.9zM49.1 111.5h0.9v0.9h-0.9zM51.1 139.8h0.9v0.9h-0.9zM58.9 101.1h0.9v0.9h-0.9zM58.3 99.2h0.9v0.9h-0.9zM83.9 139.9h0.9v0.9h-0.9zM50.4 104.4h0.9v0.9h-0.9zM55.9 121.4h0.9v0.9h-0.9zM59.1 93.3h0.9v0.9h-0.9zM73.0 102.6h0.9v0.9h-0.9zM76.4 102.9h0.9v0.9h-0.9zM52.1 119.1h0.9v0.9h-0.9zM55.0 122.1h0.9v0.9h-0.9zM53.6 132.2h0.9v0.9h-0.9zM75.1 109.0h0.9v0.9h-0.9zM65.3 94.3h0.9v0.9h-0.9zM57.3 101.5h0.9v0.9h-0.9zM53.2 112.2h0.9v0.9h-0.9zM55.6 121.8h0.9v0.9h-0.9zM51.6 147.9h0.9v0.9h-0.9zM79.2 117.0h0.9v0.9h-0.9zM71.7 106.3h0.9v0.9h-0.9zM50.7 110.6h0.9v0.9h-0.9zM58.9 94.3h0.9v0.9h-0.9zM52.6 112.5h0.9v0.9h-0.9zM79.5 116.7h0.9v0.9h-0.9zM74.6 123.3h0.9v0.9h-0.9zM78.7 118.5h0.9v0.9h-0.9zM57.8 94.4h0.9v0.9h-0.9zM74.7 105.9h0.9v0.9h-0.9zM82.7 138.5h0.9v0.9h-0.9zM70.0 156.2h0.9v0.9h-0.9zM77.9 109.8h0.9v0.9h-0.9zM58.3 100.3h0.9v0.9h-0.9zM77.0 120.6h0.9v0.9h-0.9zM85.1 139.3h0.9v0.9h-0.9zM69.8 127.0h0.9v0.9h-0.9zM68.8 95.7h0.9v0.9h-0.9zM66.2 156.7h0.9v0.9h-0.9zM75.1 121.8h0.9v0.9h-0.9zM53.1 108.9h0.9v0.9h-0.9zM76.0 113.0h0.9v0.9h-0.9zM64.2 94.3h0.9v0.9h-0.9zM72.3 123.9h0.9v0.9h-0.9zM73.9 126.7h0.9v0.9h-0.9zM78.9 114.8h0.9v0.9h-0.9zM76.0 120.7h0.9v0.9h-0.9zM75.7 127.5h0.9v0.9h-0.9zM78.1 128.4h0.9v0.9h-0.9zM52.4 103.2h0.9v0.9h-0.9zM52.4 105.2h0.9v0.9h-0.9zM71.7 104.1h0.9v0.9h-0.9zM58.0 99.0h0.9v0.9h-0.9zM50.1 144.5h0.9v0.9h-0.9zM55.7 96.6h0.9v0.9h-0.9zM79.9 125.9h0.9v0.9h-0.9zM75.6 111.6h0.9v0.9h-0.9zM82.1 143.7h0.9v0.9h-0.9zM80.0 126.6h0.9v0.9h-0.9zM83.9 130.7h0.9v0.9h-0.9zM82.3 129.0h0.9v0.9h-0.9zM57.7 95.2h0.9v0.9h-0.9zM51.3 121.9h0.9v0.9h-0.9zM68.3 96.5h0.9v0.9h-0.9zM80.6 140.3h0.9v0.9h-0.9zM49.2 122.0h0.9v0.9h-0.9zM78.4 128.4h0.9v0.9h-0.9zM77.9 108.5h0.9v0.9h-0.9zM76.3 127.7h0.9v0.9h-0.9zM79.6 122.7h0.9v0.9h-0.9zM78.2 114.5h0.9v0.9h-0.9zM52.5 120.3h0.9v0.9h-0.9zM57.3 128.9h0.9v0.9h-0.9zM75.6 153.1h0.9v0.9h-0.9zM85.0 138.8h0.9v0.9h-0.9zM65.7 97.6h0.9v0.9h-0.9zM77.2 117.1h0.9v0.9h-0.9zM75.8 126.5h0.9v0.9h-0.9zM67.6 97.9h0.9v0.9h-0.9zM54.7 129.7h0.9v0.9h-0.9zM72.1 105.3h0.9v0.9h-0.9zM72.4 104.6h0.9v0.9h-0.9zM51.0 148.7h0.9v0.9h-0.9zM84.0 131.9h0.9v0.9h-0.9zM73.5 104.8h0.9v0.9h-0.9zM57.7 100.4h0.9v0.9h-0.9zM54.7 121.1h0.9v0.9h-0.9zM72.1 115.8h0.9v0.9h-0.9zM53.2 115.6h0.9v0.9h-0.9zM72.8 115.4h0.9v0.9h-0.9zM65.0 96.2h0.9v0.9h-0.9zM82.2 132.3h0.9v0.9h-0.9zM52.6 117.9h0.9v0.9h-0.9zM72.5 106.4h0.9v0.9h-0.9zM72.2 117.3h0.9v0.9h-0.9zM67.5 158.2h0.9v0.9h-0.9zM61.1 97.7h0.9v0.9h-0.9zM70.0 156.5h0.9v0.9h-0.9zM75.4 119.2h0.9v0.9h-0.9zM77.5 122.3h0.9v0.9h-0.9zM75.9 118.6h0.9v0.9h-0.9zM84.1 127.2h0.9v0.9h-0.9zM75.4 100.3h0.9v0.9h-0.9zM76.6 125.3h0.9v0.9h-0.9zM72.8 115.6h0.9v0.9h-0.9zM54.0 131.0h0.9v0.9h-0.9zM51.1 116.5h0.9v0.9h-0.9zM56.4 152.5h0.9v0.9h-0.9zM86.0 138.7h0.9v0.9h-0.9zM80.1 133.1h0.9v0.9h-0.9zM78.2 120.6h0.9v0.9h-0.9zM81.7 135.9h0.9v0.9h-0.9zM49.3 118.1h0.9v0.9h-0.9zM76.7 120.3h0.9v0.9h-0.9zM58.1 100.6h0.9v0.9h-0.9zM63.7 92.2h0.9v0.9h-0.9zM52.8 102.7h0.9v0.9h-0.9zM82.2 136.0h0.9v0.9h-0.9zM54.0 109.3h0.9v0.9h-0.9zM59.0 154.4h0.9v0.9h-0.9zM79.6 130.4h0.9v0.9h-0.9zM85.2 133.7h0.9v0.9h-0.9zM56.4 106.9h0.9v0.9h-0.9zM72.8 107.3h0.9v0.9h-0.9zM77.1 117.3h0.9v0.9h-0.9zM68.8 99.1h0.9v0.9h-0.9zM50.9 136.5h0.9v0.9h-0.9zM50.6 107.8h0.9v0.9h-0.9zM75.7 109.7h0.9v0.9h-0.9zM56.0 101.6h0.9v0.9h-0.9zM67.1 97.0h0.9v0.9h-0.9zM54.3 115.4h0.9v0.9h-0.9zM53.2 101.2h0.9v0.9h-0.9zM83.7 126.9h0.9v0.9h-0.9zM56.4 97.2h0.9v0.9h-0.9zM77.7 148.7h0.9v0.9h-0.9zM50.6 107.2h0.9v0.9h-0.9zM78.6 119.3h0.9v0.9h-0.9zM54.1 101.4h0.9v0.9h-0.9zM82.7 130.2h0.9v0.9h-0.9zM69.8 97.1h0.9v0.9h-0.9zM53.7 103.1h0.9v0.9h-0.9zM77.1 102.7h0.9v0.9h-0.9zM76.7 119.1h0.9v0.9h-0.9zM56.0 128.2h0.9v0.9h-0.9zM72.7 105.9h0.9v0.9h-0.9zM82.7 142.8h0.9v0.9h-0.9zM84.7 140.5h0.9v0.9h-0.9zM53.0 111.3h0.9v0.9h-0.9zM74.4 107.9h0.9v0.9h-0.9zM54.3 123.0h0.9v0.9h-0.9zM63.3 94.3h0.9v0.9h-0.9zM71.6 107.4h0.9v0.9h-0.9zM84.4 138.6h0.9v0.9h-0.9zM56.7 95.4h0.9v0.9h-0.9zM72.0 100.3h0.9v0.9h-0.9zM81.5 132.6h0.9v0.9h-0.9zM52.1 147.1h0.9v0.9h-0.9zM57.5 126.9h0.9v0.9h-0.9zM75.3 120.7h0.9v0.9h-0.9zM74.4 117.5h0.9v0.9h-0.9zM54.9 115.8h0.9v0.9h-0.9zM68.3 93.8h0.9v0.9h-0.9zM53.8 109.8h0.9v0.9h-0.9zM50.8 115.7h0.9v0.9h-0.9zM55.9 103.1h0.9v0.9h-0.9zM50.8 115.4h0.9v0.9h-0.9zM82.7 136.2h0.9v0.9h-0.9zM87.8 136.3h0.9v0.9h-0.9zM78.1 115.7h0.9v0.9h-0.9zM53.8 149.8h0.9v0.9h-0.9zM53.5 118.6h0.9v0.9h-0.9zM71.5 97.5h0.9v0.9h-0.9zM56.7 102.1h0.9v0.9h-0.9zM74.8 117.5h0.9v0.9h-0.9zM52.4 143.4h0.9v0.9h-0.9zM54.3 150.6h0.9v0.9h-0.9zM78.3 113.9h0.9v0.9h-0.9zM67.9 157.0h0.9v0.9h-0.9zM56.3 95.8h0.9v0.9h-0.9zM81.8 144.1h0.9v0.9h-0.9zM50.7 120.8h0.9v0.9h-0.9zM78.1 120.4h0.9v0.9h-0.9zM65.4 97.1h0.9v0.9h-0.9zM72.9 126.0h0.9v0.9h-0.9zM73.1 107.8h0.9v0.9h-0.9zM51.7 133.5h0.9v0.9h-0.9zM77.6 146.0h0.9v0.9h-0.9zM79.6 125.2h0.9v0.9h-0.9zM73.2 122.3h0.9v0.9h-0.9zM74.3 154.0h0.9v0.9h-0.9zM67.4 99.2h0.9v0.9h-0.9zM53.4 150.0h0.9v0.9h-0.9zM52.3 106.2h0.9v0.9h-0.9zM86.3 130.0h0.9v0.9h-0.9zM55.3 105.1h0.9v0.9h-0.9zM79.3 119.4h0.9v0.9h-0.9zM79.3 130.8h0.9v0.9h-0.9zM59.3 94.2h0.9v0.9h-0.9zM50.2 114.1h0.9v0.9h-0.9zM74.1 119.1h0.9v0.9h-0.9zM85.9 128.7h0.9v0.9h-0.9zM72.9 105.6h0.9v0.9h-0.9zM83.0 139.0h0.9v0.9h-0.9zM81.6 139.7h0.9v0.9h-0.9zM56.6 125.0h0.9v0.9h-0.9zM58.9 94.1h0.9v0.9h-0.9zM56.9 126.5h0.9v0.9h-0.9zM83.8 125.6h0.9v0.9h-0.9zM53.2 146.8h0.9v0.9h-0.9zM55.0 113.2h0.9v0.9h-0.9zM82.8 136.1h0.9v0.9h-0.9zM65.4 95.3h0.9v0.9h-0.9zM64.4 95.9h0.9v0.9h-0.9zM74.2 113.9h0.9v0.9h-0.9zM49.2 118.4h0.9v0.9h-0.9zM52.7 112.0h0.9v0.9h-0.9zM81.8 133.8h0.9v0.9h-0.9zM56.3 102.9h0.9v0.9h-0.9zM51.5 117.7h0.9v0.9h-0.9zM71.9 154.2h0.9v0.9h-0.9zM53.5 99.9h0.9v0.9h-0.9zM49.8 118.0h0.9v0.9h-0.9zM53.9 133.1h0.9v0.9h-0.9zM65.1 93.4h0.9v0.9h-0.9zM77.8 145.7h0.9v0.9h-0.9zM85.8 128.7h0.9v0.9h-0.9zM53.6 113.7h0.9v0.9h-0.9zM72.3 123.7h0.9v0.9h-0.9zM75.7 149.9h0.9v0.9h-0.9zM54.8 100.0h0.9v0.9h-0.9zM52.0 148.1h0.9v0.9h-0.9zM49.7 109.5h0.9v0.9h-0.9zM60.4 155.7h0.9v0.9h-0.9zM49.7 114.6h0.9v0.9h-0.9zM73.2 106.3h0.9v0.9h-0.9zM55.1 114.9h0.9v0.9h-0.9zM53.1 135.5h0.9v0.9h-0.9zM81.2 145.1h0.9v0.9h-0.9zM63.9 96.7h0.9v0.9h-0.9zM49.6 108.7h0.9v0.9h-0.9zM57.1 96.8h0.9v0.9h-0.9zM69.4 101.1h0.9v0.9h-0.9zM75.7 103.3h0.9v0.9h-0.9zM76.2 120.3h0.9v0.9h-0.9zM75.5 112.6h0.9v0.9h-0.9zM83.5 131.9h0.9v0.9h-0.9zM63.9 95.3h0.9v0.9h-0.9zM50.9 114.2h0.9v0.9h-0.9zM82.5 138.7h0.9v0.9h-0.9zM73.0 116.9h0.9v0.9h-0.9zM62.2 96.2h0.9v0.9h-0.9zM52.0 138.5h0.9v0.9h-0.9zM80.9 134.8h0.9v0.9h-0.9zM53.2 114.5h0.9v0.9h-0.9zM83.4 140.5h0.9v0.9h-0.9zM73.9 103.6h0.9v0.9h-0.9zM80.3 143.1h0.9v0.9h-0.9zM55.6 100.9h0.9v0.9h-0.9zM49.6 141.1h0.9v0.9h-0.9zM51.4 110.0h0.9v0.9h-0.9zM51.7 135.1h0.9v0.9h-0.9zM80.5 145.1h0.9v0.9h-0.9zM49.6 116.8h0.9v0.9h-0.9zM51.8 117.5h0.9v0.9h-0.9zM53.0 147.4h0.9v0.9h-0.9zM82.0 127.5h0.9v0.9h-0.9zM72.2 115.4h0.9v0.9h-0.9zM77.0 105.8h0.9v0.9h-0.9zM52.2 148.1h0.9v0.9h-0.9zM52.8 114.9h0.9v0.9h-0.9zM74.9 126.4h0.9v0.9h-0.9zM55.1 118.4h0.9v0.9h-0.9zM67.4 93.9h0.9v0.9h-0.9zM68.6 156.9h0.9v0.9h-0.9zM74.3 120.8h0.9v0.9h-0.9zM77.1 118.4h0.9v0.9h-0.9zM55.0 112.6h0.9v0.9h-0.9zM75.9 107.0h0.9v0.9h-0.9zM61.7 96.8h0.9v0.9h-0.9zM54.9 125.3h0.9v0.9h-0.9zM86.3 139.9h0.9v0.9h-0.9zM77.2 102.9h0.9v0.9h-0.9zM74.2 109.5h0.9v0.9h-0.9zM75.4 124.9h0.9v0.9h-0.9zM52.0 105.0h0.9v0.9h-0.9zM72.9 98.6h0.9v0.9h-0.9zM51.7 119.3h0.9v0.9h-0.9zM83.2 131.4h0.9v0.9h-0.9zM50.8 137.1h0.9v0.9h-0.9zM79.5 144.2h0.9v0.9h-0.9zM76.3 125.9h0.9v0.9h-0.9zM72.4 116.2h0.9v0.9h-0.9zM71.9 122.9h0.9v0.9h-0.9zM52.3 139.3h0.9v0.9h-0.9zM82.7 134.9h0.9v0.9h-0.9zM70.8 104.1h0.9v0.9h-0.9zM54.6 121.6h0.9v0.9h-0.9zM65.3 95.2h0.9v0.9h-0.9zM80.9 147.0h0.9v0.9h-0.9zM84.8 133.4h0.9v0.9h-0.9zM83.7 140.7h0.9v0.9h-0.9zM63.8 93.7h0.9v0.9h-0.9zM78.8 121.8h0.9v0.9h-0.9zM57.3 102.0h0.9v0.9h-0.9zM49.0 110.2h0.9v0.9h-0.9zM82.4 130.9h0.9v0.9h-0.9zM48.8 112.7h0.9v0.9h-0.9zM50.4 115.7h0.9v0.9h-0.9zM76.5 150.0h0.9v0.9h-0.9zM68.1 95.1h0.9v0.9h-0.9zM76.3 117.6h0.9v0.9h-0.9zM53.5 119.7h0.9v0.9h-0.9zM85.2 138.1h0.9v0.9h-0.9zM53.0 116.0h0.9v0.9h-0.9zM82.2 129.5h0.9v0.9h-0.9zM52.7 109.1h0.9v0.9h-0.9zM72.5 116.0h0.9v0.9h-0.9zM68.5 157.4h0.9v0.9h-0.9zM71.0 124.6h0.9v0.9h-0.9zM50.7 110.6h0.9v0.9h-0.9zM55.5 111.1h0.9v0.9h-0.9zM86.1 129.7h0.9v0.9h-0.9zM73.8 122.1h0.9v0.9h-0.9zM75.5 113.9h0.9v0.9h-0.9zM51.6 106.4h0.9v0.9h-0.9zM79.1 114.0h0.9v0.9h-0.9zM50.7 117.7h0.9v0.9h-0.9zM56.1 107.2h0.9v0.9h-0.9zM51.5 145.8h0.9v0.9h-0.9zM68.0 95.0h0.9v0.9h-0.9zM70.0 103.5h0.9v0.9h-0.9zM87.4 139.0h0.9v0.9h-0.9zM51.4 118.4h0.9v0.9h-0.9zM69.8 95.0h0.9v0.9h-0.9zM75.0 152.9h0.9v0.9h-0.9zM74.7 113.8h0.9v0.9h-0.9zM59.3 155.1h0.9v0.9h-0.9zM62.9 96.1h0.9v0.9h-0.9zM49.6 121.7h0.9v0.9h-0.9zM75.6 120.4h0.9v0.9h-0.9zM52.0 103.2h0.9v0.9h-0.9zM54.7 117.3h0.9v0.9h-0.9zM57.5 97.1h0.9v0.9h-0.9zM82.6 129.4h0.9v0.9h-0.9zM52.4 117.8h0.9v0.9h-0.9zM53.1 100.9h0.9v0.9h-0.9zM85.1 129.7h0.9v0.9h-0.9zM81.9 135.5h0.9v0.9h-0.9zM51.1 148.4h0.9v0.9h-0.9zM75.3 113.0h0.9v0.9h-0.9zM71.1 125.0h0.9v0.9h-0.9zM54.4 127.9h0.9v0.9h-0.9zM77.6 146.8h0.9v0.9h-0.9zM78.7 111.3h0.9v0.9h-0.9zM74.1 122.2h0.9v0.9h-0.9zM56.5 103.4h0.9v0.9h-0.9zM71.5 107.8h0.9v0.9h-0.9zM58.1 98.8h0.9v0.9h-0.9zM83.2 129.9h0.9v0.9h-0.9zM72.3 102.9h0.9v0.9h-0.9zM58.7 99.2h0.9v0.9h-0.9zM56.7 103.6h0.9v0.9h-0.9zM65.7 97.0h0.9v0.9h-0.9zM73.8 126.7h0.9v0.9h-0.9zM60.5 97.5h0.9v0.9h-0.9zM54.7 115.7h0.9v0.9h-0.9zM72.6 111.8h0.9v0.9h-0.9zM81.9 132.0h0.9v0.9h-0.9zM67.6 95.8h0.9v0.9h-0.9zM49.7 107.1h0.9v0.9h-0.9zM61.8 95.9h0.9v0.9h-0.9zM83.6 135.9h0.9v0.9h-0.9zM86.3 138.2h0.9v0.9h-0.9zM77.8 121.5h0.9v0.9h-0.9zM72.0 107.8h0.9v0.9h-0.9zM68.5 97.6h0.9v0.9h-0.9zM75.9 115.5h0.9v0.9h-0.9zM68.4 96.6h0.9v0.9h-0.9zM82.6 139.2h0.9v0.9h-0.9zM72.4 110.2h0.9v0.9h-0.9zM75.2 125.5h0.9v0.9h-0.9zM71.8 102.5h0.9v0.9h-0.9zM54.5 98.7h0.9v0.9h-0.9zM77.3 112.4h0.9v0.9h-0.9zM75.8 148.5h0.9v0.9h-0.9zM84.3 134.4h0.9v0.9h-0.9zM61.4 94.7h0.9v0.9h-0.9zM73.6 155.6h0.9v0.9h-0.9zM57.2 99.1h0.9v0.9h-0.9zM71.0 125.4h0.9v0.9h-0.9zM80.4 127.1h0.9v0.9h-0.9zM66.6 98.1h0.9v0.9h-0.9zM83.7 127.7h0.9v0.9h-0.9zM73.6 115.3h0.9v0.9h-0.9zM49.5 110.6h0.9v0.9h-0.9zM77.1 120.5h0.9v0.9h-0.9zM75.2 116.0h0.9v0.9h-0.9zM54.2 103.2h0.9v0.9h-0.9zM54.4 150.0h0.9v0.9h-0.9zM84.0 128.3h0.9v0.9h-0.9zM81.4 129.6h0.9v0.9h-0.9zM85.0 129.1h0.9v0.9h-0.9zM79.1 110.5h0.9v0.9h-0.9zM50.9 102.6h0.9v0.9h-0.9zM72.8 102.9h0.9v0.9h-0.9zM63.2 157.1h0.9v0.9h-0.9zM53.0 101.8h0.9v0.9h-0.9zM51.9 102.6h0.9v0.9h-0.9zM75.8 104.2h0.9v0.9h-0.9zM82.8 138.5h0.9v0.9h-0.9zM76.7 107.5h0.9v0.9h-0.9zM77.6 118.6h0.9v0.9h-0.9zM78.0 129.5h0.9v0.9h-0.9zM76.0 149.2h0.9v0.9h-0.9zM73.4 98.6h0.9v0.9h-0.9zM50.7 135.4h0.9v0.9h-0.9zM52.4 107.0h0.9v0.9h-0.9zM56.5 99.2h0.9v0.9h-0.9zM79.1 146.8h0.9v0.9h-0.9zM50.3 116.3h0.9v0.9h-0.9zM49.7 112.9h0.9v0.9h-0.9zM73.2 104.5h0.9v0.9h-0.9zM80.6 138.6h0.9v0.9h-0.9zM74.4 121.2h0.9v0.9h-0.9zM55.3 113.6h0.9v0.9h-0.9zM55.2 114.3h0.9v0.9h-0.9zM77.6 103.7h0.9v0.9h-0.9zM76.0 109.4h0.9v0.9h-0.9zM77.1 103.6h0.9v0.9h-0.9zM71.1 156.6h0.9v0.9h-0.9zM55.1 153.5h0.9v0.9h-0.9zM59.8 96.0h0.9v0.9h-0.9zM50.1 141.1h0.9v0.9h-0.9zM79.3 116.2h0.9v0.9h-0.9zM57.6 102.7h0.9v0.9h-0.9zM74.5 119.3h0.9v0.9h-0.9zM55.7 106.8h0.9v0.9h-0.9zM84.3 129.2h0.9v0.9h-0.9zM78.1 127.5h0.9v0.9h-0.9zM55.5 98.3h0.9v0.9h-0.9zM50.5 107.9h0.9v0.9h-0.9zM53.6 133.4h0.9v0.9h-0.9zM54.1 151.2h0.9v0.9h-0.9zM52.0 146.3h0.9v0.9h-0.9zM52.3 147.3h0.9v0.9h-0.9zM72.8 113.8h0.9v0.9h-0.9zM64.9 93.9h0.9v0.9h-0.9zM74.0 154.0h0.9v0.9h-0.9zM86.4 135.6h0.9v0.9h-0.9zM55.6 119.8h0.9v0.9h-0.9zM49.8 114.9h0.9v0.9h-0.9zM82.1 124.4h0.9v0.9h-0.9zM52.9 107.0h0.9v0.9h-0.9zM71.6 107.0h0.9v0.9h-0.9zM73.9 103.8h0.9v0.9h-0.9zM78.9 117.8h0.9v0.9h-0.9zM59.0 99.8h0.9v0.9h-0.9zM75.7 117.9h0.9v0.9h-0.9zM78.9 110.9h0.9v0.9h-0.9zM60.2 98.9h0.9v0.9h-0.9zM60.9 93.3h0.9v0.9h-0.9zM72.2 121.9h0.9v0.9h-0.9zM69.6 95.8h0.9v0.9h-0.9zM86.3 135.9h0.9v0.9h-0.9zM53.0 111.1h0.9v0.9h-0.9zM62.0 97.7h0.9v0.9h-0.9zM53.9 148.9h0.9v0.9h-0.9zM79.4 127.9h0.9v0.9h-0.9zM55.8 102.7h0.9v0.9h-0.9zM56.6 104.7h0.9v0.9h-0.9zM60.0 93.7h0.9v0.9h-0.9zM70.5 96.4h0.9v0.9h-0.9zM55.8 128.3h0.9v0.9h-0.9zM67.5 95.7h0.9v0.9h-0.9zM79.2 117.7h0.9v0.9h-0.9zM78.3 110.6h0.9v0.9h-0.9zM72.8 113.1h0.9v0.9h-0.9zM74.1 113.8h0.9v0.9h-0.9zM50.9 136.4h0.9v0.9h-0.9zM67.5 95.8h0.9v0.9h-0.9zM82.7 127.8h0.9v0.9h-0.9zM67.4 99.5h0.9v0.9h-0.9zM70.7 127.3h0.9v0.9h-0.9zM73.8 116.1h0.9v0.9h-0.9zM49.6 120.7h0.9v0.9h-0.9zM78.1 119.1h0.9v0.9h-0.9zM55.0 127.5h0.9v0.9h-0.9zM54.4 124.9h0.9v0.9h-0.9zM61.5 94.7h0.9v0.9h-0.9zM51.9 139.9h0.9v0.9h-0.9zM77.0 128.4h0.9v0.9h-0.9zM78.9 130.6h0.9v0.9h-0.9zM82.5 140.2h0.9v0.9h-0.9zM77.8 119.5h0.9v0.9h-0.9zM73.8 112.1h0.9v0.9h-0.9zM87.2 139.2h0.9v0.9h-0.9zM56.8 103.7h0.9v0.9h-0.9zM58.2 99.2h0.9v0.9h-0.9zM85.9 138.2h0.9v0.9h-0.9zM55.5 126.5h0.9v0.9h-0.9zM80.7 135.4h0.9v0.9h-0.9zM56.8 126.2h0.9v0.9h-0.9zM80.4 123.4h0.9v0.9h-0.9zM71.5 156.5h0.9v0.9h-0.9zM69.7 99.5h0.9v0.9h-0.9zM55.3 100.1h0.9v0.9h-0.9zM70.8 126.5h0.9v0.9h-0.9zM79.4 148.0h0.9v0.9h-0.9zM53.7 105.3h0.9v0.9h-0.9zM73.6 125.0h0.9v0.9h-0.9zM53.8 110.2h0.9v0.9h-0.9zM61.8 96.5h0.9v0.9h-0.9zM55.2 152.7h0.9v0.9h-0.9zM77.4 122.0h0.9v0.9h-0.9zM78.5 119.6h0.9v0.9h-0.9zM70.9 124.9h0.9v0.9h-0.9zM80.6 141.8h0.9v0.9h-0.9zM56.6 98.7h0.9v0.9h-0.9zM52.4 109.3h0.9v0.9h-0.9zM59.3 96.5h0.9v0.9h-0.9zM55.4 125.0h0.9v0.9h-0.9zM82.8 143.3h0.9v0.9h-0.9zM64.9 98.1h0.9v0.9h-0.9zM58.6 95.5h0.9v0.9h-0.9zM77.8 122.8h0.9v0.9h-0.9zM71.5 123.0h0.9v0.9h-0.9zM59.2 94.5h0.9v0.9h-0.9zM69.0 101.1h0.9v0.9h-0.9zM77.5 148.7h0.9v0.9h-0.9zM78.4 111.8h0.9v0.9h-0.9zM76.6 148.7h0.9v0.9h-0.9zM64.7 93.9h0.9v0.9h-0.9zM72.2 156.5h0.9v0.9h-0.9zM72.5 97.3h0.9v0.9h-0.9zM71.6 124.2h0.9v0.9h-0.9zM73.1 109.4h0.9v0.9h-0.9zM53.3 121.9h0.9v0.9h-0.9zM87.1 131.7h0.9v0.9h-0.9zM78.0 147.4h0.9v0.9h-0.9zM59.4 97.5h0.9v0.9h-0.9zM84.2 126.5h0.9v0.9h-0.9zM87.3 139.5h0.9v0.9h-0.9zM51.9 114.9h0.9v0.9h-0.9zM69.4 99.2h0.9v0.9h-0.9zM52.1 116.7h0.9v0.9h-0.9zM85.1 137.3h0.9v0.9h-0.9zM85.0 138.7h0.9v0.9h-0.9zM53.7 150.7h0.9v0.9h-0.9zM57.7 99.8h0.9v0.9h-0.9zM83.0 136.2h0.9v0.9h-0.9zM50.2 121.0h0.9v0.9h-0.9zM84.9 133.5h0.9v0.9h-0.9zM78.9 111.5h0.9v0.9h-0.9zM55.9 97.5h0.9v0.9h-0.9zM74.0 124.4h0.9v0.9h-0.9zM77.6 150.1h0.9v0.9h-0.9zM84.4 133.4h0.9v0.9h-0.9zM51.8 110.2h0.9v0.9h-0.9zM76.3 103.0h0.9v0.9h-0.9zM76.7 148.5h0.9v0.9h-0.9zM55.0 100.2h0.9v0.9h-0.9zM59.3 93.7h0.9v0.9h-0.9zM83.6 141.8h0.9v0.9h-0.9zM78.5 147.0h0.9v0.9h-0.9zM55.1 124.3h0.9v0.9h-0.9zM79.7 129.4h0.9v0.9h-0.9zM51.4 111.7h0.9v0.9h-0.9zM51.4 120.4h0.9v0.9h-0.9zM77.0 151.3h0.9v0.9h-0.9zM49.4 121.6h0.9v0.9h-0.9zM55.9 122.7h0.9v0.9h-0.9zM55.3 127.6h0.9v0.9h-0.9zM78.6 118.6h0.9v0.9h-0.9zM80.0 123.4h0.9v0.9h-0.9zM56.3 103.7h0.9v0.9h-0.9zM54.2 110.6h0.9v0.9h-0.9zM76.8 114.8h0.9v0.9h-0.9zM83.0 138.5h0.9v0.9h-0.9zM81.4 133.7h0.9v0.9h-0.9zM72.0 98.1h0.9v0.9h-0.9zM55.1 97.5h0.9v0.9h-0.9zM73.5 110.8h0.9v0.9h-0.9zM51.5 142.3h0.9v0.9h-0.9zM69.9 96.0h0.9v0.9h-0.9zM71.9 104.5h0.9v0.9h-0.9zM50.2 139.4h0.9v0.9h-0.9zM52.2 108.1h0.9v0.9h-0.9zM72.2 119.4h0.9v0.9h-0.9zM82.3 139.7h0.9v0.9h-0.9zM52.9 117.1h0.9v0.9h-0.9zM70.2 95.8h0.9v0.9h-0.9zM78.9 148.1h0.9v0.9h-0.9zM51.9 113.2h0.9v0.9h-0.9zM67.3 93.6h0.9v0.9h-0.9zM77.0 118.5h0.9v0.9h-0.9zM69.7 157.0h0.9v0.9h-0.9zM73.7 103.0h0.9v0.9h-0.9zM72.3 104.0h0.9v0.9h-0.9zM69.1 100.0h0.9v0.9h-0.9zM68.2 98.6h0.9v0.9h-0.9zM70.2 101.3h0.9v0.9h-0.9zM75.3 105.5h0.9v0.9h-0.9zM83.3 139.0h0.9v0.9h-0.9zM53.7 112.0h0.9v0.9h-0.9zM65.3 98.3h0.9v0.9h-0.9zM49.9 117.4h0.9v0.9h-0.9zM52.7 119.4h0.9v0.9h-0.9zM75.9 123.4h0.9v0.9h-0.9zM76.1 151.5h0.9v0.9h-0.9zM72.4 155.5h0.9v0.9h-0.9zM56.4 100.3h0.9v0.9h-0.9zM82.8 130.4h0.9v0.9h-0.9zM75.8 116.0h0.9v0.9h-0.9zM61.9 96.9h0.9v0.9h-0.9zM74.7 123.2h0.9v0.9h-0.9zM78.5 123.4h0.9v0.9h-0.9zM80.0 147.0h0.9v0.9h-0.9zM78.7 147.6h0.9v0.9h-0.9zM74.2 117.8h0.9v0.9h-0.9zM68.2 95.5h0.9v0.9h-0.9zM66.1 158.3h0.9v0.9h-0.9zM72.6 99.0h0.9v0.9h-0.9zM77.1 125.0h0.9v0.9h-0.9zM83.4 127.1h0.9v0.9h-0.9zM69.7 156.7h0.9v0.9h-0.9zM84.5 140.5h0.9v0.9h-0.9zM83.3 125.8h0.9v0.9h-0.9zM69.6 101.1h0.9v0.9h-0.9zM65.7 93.6h0.9v0.9h-0.9zM52.0 141.0h0.9v0.9h-0.9zM69.2 101.5h0.9v0.9h-0.9zM60.2 97.3h0.9v0.9h-0.9zM64.4 96.3h0.9v0.9h-0.9zM66.2 95.5h0.9v0.9h-0.9zM78.2 145.1h0.9v0.9h-0.9zM57.8 128.5h0.9v0.9h-0.9zM50.7 112.2h0.9v0.9h-0.9zM80.2 146.3h0.9v0.9h-0.9zM61.4 95.4h0.9v0.9h-0.9zM80.8 138.6h0.9v0.9h-0.9zM83.0 127.5h0.9v0.9h-0.9zM55.6 122.2h0.9v0.9h-0.9zM80.4 125.7h0.9v0.9h-0.9zM77.5 120.1h0.9v0.9h-0.9zM71.9 97.2h0.9v0.9h-0.9zM86.8 132.0h0.9v0.9h-0.9zM80.9 125.9h0.9v0.9h-0.9zM49.3 141.1h0.9v0.9h-0.9zM76.4 112.8h0.9v0.9h-0.9zM50.0 108.4h0.9v0.9h-0.9zM83.2 126.7h0.9v0.9h-0.9zM77.4 108.3h0.9v0.9h-0.9zM64.0 94.6h0.9v0.9h-0.9zM52.7 112.9h0.9v0.9h-0.9zM74.4 121.3h0.9v0.9h-0.9zM86.5 138.7h0.9v0.9h-0.9zM76.3 113.3h0.9v0.9h-0.9zM56.4 127.1h0.9v0.9h-0.9zM53.9 119.0h0.9v0.9h-0.9zM69.0 94.8h0.9v0.9h-0.9zM57.5 99.5h0.9v0.9h-0.9zM55.5 97.2h0.9v0.9h-0.9zM77.0 147.2h0.9v0.9h-0.9zM71.6 106.5h0.9v0.9h-0.9zM78.0 127.8h0.9v0.9h-0.9zM51.8 139.4h0.9v0.9h-0.9zM85.7 133.1h0.9v0.9h-0.9zM85.2 140.5h0.9v0.9h-0.9zM50.0 143.8h0.9v0.9h-0.9zM61.8 96.8h0.9v0.9h-0.9zM81.5 138.1h0.9v0.9h-0.9zM65.5 97.4h0.9v0.9h-0.9zM84.8 132.9h0.9v0.9h-0.9zM54.4 108.0h0.9v0.9h-0.9zM73.9 98.8h0.9v0.9h-0.9zM82.2 131.8h0.9v0.9h-0.9zM81.4 141.9h0.9v0.9h-0.9zM55.9 152.6h0.9v0.9h-0.9zM55.1 131.4h0.9v0.9h-0.9zM75.2 115.2h0.9v0.9h-0.9zM72.7 116.3h0.9v0.9h-0.9zM80.6 126.1h0.9v0.9h-0.9zM52.7 118.7h0.9v0.9h-0.9zM72.0 98.0h0.9v0.9h-0.9zM77.5 125.6h0.9v0.9h-0.9zM54.0 104.9h0.9v0.9h-0.9zM69.3 96.6h0.9v0.9h-0.9zM77.2 121.6h0.9v0.9h-0.9zM58.3 100.3h0.9v0.9h-0.9zM52.2 120.9h0.9v0.9h-0.9zM52.7 134.3h0.9v0.9h-0.9zM74.3 105.3h0.9v0.9h-0.9zM51.5 137.1h0.9v0.9h-0.9zM48.9 119.5h0.9v0.9h-0.9zM77.5 119.7h0.9v0.9h-0.9zM52.0 144.9h0.9v0.9h-0.9zM85.6 141.2h0.9v0.9h-0.9zM77.1 147.5h0.9v0.9h-0.9zM79.9 127.7h0.9v0.9h-0.9zM80.1 127.0h0.9v0.9h-0.9zM79.5 129.7h0.9v0.9h-0.9zM75.3 123.8h0.9v0.9h-0.9zM81.9 141.5h0.9v0.9h-0.9zM62.1 94.5h0.9v0.9h-0.9zM69.1 93.7h0.9v0.9h-0.9zM77.7 110.9h0.9v0.9h-0.9zM57.5 155.8h0.9v0.9h-0.9zM81.1 135.9h0.9v0.9h-0.9zM73.3 155.6h0.9v0.9h-0.9zM55.3 103.9h0.9v0.9h-0.9zM56.4 102.9h0.9v0.9h-0.9zM72.5 108.2h0.9v0.9h-0.9zM51.1 117.1h0.9v0.9h-0.9zM78.2 112.7h0.9v0.9h-0.9zM75.9 104.5h0.9v0.9h-0.9zM52.0 118.0h0.9v0.9h-0.9zM71.1 126.5h0.9v0.9h-0.9zM72.3 112.7h0.9v0.9h-0.9zM78.1 128.0h0.9v0.9h-0.9zM73.4 117.3h0.9v0.9h-0.9zM85.8 132.0h0.9v0.9h-0.9zM56.2 97.1h0.9v0.9h-0.9zM80.6 135.2h0.9v0.9h-0.9zM54.6 127.6h0.9v0.9h-0.9zM67.1 97.0h0.9v0.9h-0.9zM54.8 151.3h0.9v0.9h-0.9zM75.5 109.9h0.9v0.9h-0.9zM78.1 107.3h0.9v0.9h-0.9zM65.9 92.8h0.9v0.9h-0.9zM66.9 94.2h0.9v0.9h-0.9zM63.0 157.9h0.9v0.9h-0.9zM58.5 95.9h0.9v0.9h-0.9zM77.0 107.3h0.9v0.9h-0.9zM50.4 121.3h0.9v0.9h-0.9zM54.3 102.8h0.9v0.9h-0.9zM76.7 109.5h0.9v0.9h-0.9zM56.9 125.9h0.9v0.9h-0.9zM65.1 93.2h0.9v0.9h-0.9zM74.2 99.6h0.9v0.9h-0.9zM51.2 111.5h0.9v0.9h-0.9zM82.9 133.5h0.9v0.9h-0.9zM81.0 127.1h0.9v0.9h-0.9zM76.7 151.5h0.9v0.9h-0.9zM49.5 120.9h0.9v0.9h-0.9zM52.7 103.4h0.9v0.9h-0.9zM87.6 139.2h0.9v0.9h-0.9zM80.3 130.8h0.9v0.9h-0.9zM72.7 122.7h0.9v0.9h-0.9zM76.4 120.7h0.9v0.9h-0.9zM52.5 117.8h0.9v0.9h-0.9zM83.4 125.9h0.9v0.9h-0.9zM73.1 117.4h0.9v0.9h-0.9zM59.6 94.8h0.9v0.9h-0.9zM54.9 126.7h0.9v0.9h-0.9zM83.5 135.6h0.9v0.9h-0.9zM57.0 153.2h0.9v0.9h-0.9zM73.1 107.7h0.9v0.9h-0.9zM79.0 122.1h0.9v0.9h-0.9zM51.5 110.6h0.9v0.9h-0.9zM83.2 131.1h0.9v0.9h-0.9zM72.7 109.8h0.9v0.9h-0.9zM54.2 116.9h0.9v0.9h-0.9zM52.1 118.4h0.9v0.9h-0.9zM72.0 96.9h0.9v0.9h-0.9zM53.9 115.1h0.9v0.9h-0.9zM78.4 144.8h0.9v0.9h-0.9zM81.2 144.9h0.9v0.9h-0.9zM75.7 111.8h0.9v0.9h-0.9zM53.4 118.2h0.9v0.9h-0.9zM73.0 101.1h0.9v0.9h-0.9zM57.7 98.9h0.9v0.9h-0.9zM73.6 112.2h0.9v0.9h-0.9zM73.1 108.0h0.9v0.9h-0.9zM80.0 127.8h0.9v0.9h-0.9zM75.0 110.2h0.9v0.9h-0.9zM84.6 130.9h0.9v0.9h-0.9zM69.6 155.0h0.9v0.9h-0.9zM51.4 120.1h0.9v0.9h-0.9zM59.6 97.4h0.9v0.9h-0.9zM63.4 92.3h0.9v0.9h-0.9zM53.6 116.5h0.9v0.9h-0.9zM73.6 106.8h0.9v0.9h-0.9zM79.4 148.5h0.9v0.9h-0.9zM55.3 119.0h0.9v0.9h-0.9zM76.4 107.9h0.9v0.9h-0.9zM80.7 122.6h0.9v0.9h-0.9zM72.8 121.3h0.9v0.9h-0.9zM56.5 97.4h0.9v0.9h-0.9zM83.7 141.9h0.9v0.9h-0.9zM63.1 156.0h0.9v0.9h-0.9zM61.0 93.5h0.9v0.9h-0.9zM76.4 102.6h0.9v0.9h-0.9zM78.8 114.3h0.9v0.9h-0.9zM73.5 112.2h0.9v0.9h-0.9zM80.2 144.1h0.9v0.9h-0.9zM64.6 92.6h0.9v0.9h-0.9zM80.0 142.9h0.9v0.9h-0.9zM76.2 112.0h0.9v0.9h-0.9zM72.5 102.8h0.9v0.9h-0.9zM65.7 93.7h0.9v0.9h-0.9zM85.5 133.4h0.9v0.9h-0.9zM72.1 102.9h0.9v0.9h-0.9zM53.5 112.6h0.9v0.9h-0.9zM68.4 97.3h0.9v0.9h-0.9zM52.9 100.8h0.9v0.9h-0.9zM79.5 125.9h0.9v0.9h-0.9zM49.6 106.1h0.9v0.9h-0.9zM73.0 152.4h0.9v0.9h-0.9zM57.5 94.8h0.9v0.9h-0.9zM77.8 112.6h0.9v0.9h-0.9zM55.3 127.7h0.9v0.9h-0.9zM70.2 103.6h0.9v0.9h-0.9zM79.4 148.0h0.9v0.9h-0.9zM78.1 122.2h0.9v0.9h-0.9zM53.8 133.2h0.9v0.9h-0.9zM82.6 140.7h0.9v0.9h-0.9zM75.8 100.8h0.9v0.9h-0.9zM61.1 98.5h0.9v0.9h-0.9zM78.3 111.4h0.9v0.9h-0.9zM53.3 103.4h0.9v0.9h-0.9zM61.7 92.5h0.9v0.9h-0.9zM55.0 106.9h0.9v0.9h-0.9zM81.6 125.9h0.9v0.9h-0.9zM85.6 131.0h0.9v0.9h-0.9zM72.3 119.2h0.9v0.9h-0.9zM70.6 103.1h0.9v0.9h-0.9zM73.3 98.8h0.9v0.9h-0.9zM62.9 156.4h0.9v0.9h-0.9zM56.3 105.8h0.9v0.9h-0.9zM71.0 127.0h0.9v0.9h-0.9zM74.8 154.4h0.9v0.9h-0.9zM72.2 105.1h0.9v0.9h-0.9zM53.7 123.2h0.9v0.9h-0.9zM80.5 140.2h0.9v0.9h-0.9zM75.1 118.3h0.9v0.9h-0.9zM51.0 103.6h0.9v0.9h-0.9zM58.6 94.5h0.9v0.9h-0.9zM78.7 146.3h0.9v0.9h-0.9zM49.6 137.4h0.9v0.9h-0.9zM69.3 99.3h0.9v0.9h-0.9zM76.6 104.9h0.9v0.9h-0.9zM78.8 129.7h0.9v0.9h-0.9zM75.0 101.3h0.9v0.9h-0.9zM52.6 134.0h0.9v0.9h-0.9zM75.7 114.5h0.9v0.9h-0.9zM84.8 134.4h0.9v0.9h-0.9zM79.0 147.3h0.9v0.9h-0.9zM67.4 97.4h0.9v0.9h-0.9zM86.1 132.6h0.9v0.9h-0.9zM57.6 126.6h0.9v0.9h-0.9zM69.3 101.5h0.9v0.9h-0.9zM55.3 106.9h0.9v0.9h-0.9zM77.3 147.1h0.9v0.9h-0.9zM80.8 138.5h0.9v0.9h-0.9zM55.5 119.8h0.9v0.9h-0.9zM76.6 107.5h0.9v0.9h-0.9zM75.8 127.2h0.9v0.9h-0.9zM76.5 111.8h0.9v0.9h-0.9zM85.9 139.8h0.9v0.9h-0.9zM48.9 113.9h0.9v0.9h-0.9zM59.4 99.4h0.9v0.9h-0.9zM75.3 105.8h0.9v0.9h-0.9zM86.6 132.8h0.9v0.9h-0.9zM56.3 100.9h0.9v0.9h-0.9zM58.6 94.0h0.9v0.9h-0.9zM68.6 98.0h0.9v0.9h-0.9zM79.5 125.8h0.9v0.9h-0.9zM53.3 105.5h0.9v0.9h-0.9zM86.3 141.5h0.9v0.9h-0.9zM53.5 134.1h0.9v0.9h-0.9zM53.5 108.7h0.9v0.9h-0.9zM56.6 106.2h0.9v0.9h-0.9zM52.9 102.6h0.9v0.9h-0.9zM70.3 96.2h0.9v0.9h-0.9zM77.0 109.5h0.9v0.9h-0.9zM54.5 108.4h0.9v0.9h-0.9zM73.9 117.4h0.9v0.9h-0.9zM54.7 115.4h0.9v0.9h-0.9zM79.2 113.5h0.9v0.9h-0.9zM50.9 137.7h0.9v0.9h-0.9zM70.5 97.2h0.9v0.9h-0.9zM85.4 139.7h0.9v0.9h-0.9zM76.0 114.1h0.9v0.9h-0.9zM57.4 154.2h0.9v0.9h-0.9zM77.2 110.7h0.9v0.9h-0.9zM49.0 111.8h0.9v0.9h-0.9zM72.3 112.3h0.9v0.9h-0.9zM50.8 117.4h0.9v0.9h-0.9zM64.3 92.2h0.9v0.9h-0.9zM70.8 127.0h0.9v0.9h-0.9zM51.5 114.2h0.9v0.9h-0.9zM75.0 150.8h0.9v0.9h-0.9zM53.2 116.6h0.9v0.9h-0.9zM73.1 152.3h0.9v0.9h-0.9zM77.6 103.9h0.9v0.9h-0.9zM74.0 106.0h0.9v0.9h-0.9zM56.0 124.4h0.9v0.9h-0.9zM48.7 113.1h0.9v0.9h-0.9zM51.6 104.3h0.9v0.9h-0.9zM81.0 128.7h0.9v0.9h-0.9zM51.9 148.9h0.9v0.9h-0.9zM55.1 123.9h0.9v0.9h-0.9zM87.6 137.0h0.9v0.9h-0.9zM76.9 123.2h0.9v0.9h-0.9zM79.6 148.4h0.9v0.9h-0.9zM75.6 105.9h0.9v0.9h-0.9zM68.3 156.7h0.9v0.9h-0.9zM80.4 139.3h0.9v0.9h-0.9zM63.9 97.6h0.9v0.9h-0.9zM78.1 113.5h0.9v0.9h-0.9zM61.1 96.5h0.9v0.9h-0.9zM50.9 107.4h0.9v0.9h-0.9zM68.4 97.2h0.9v0.9h-0.9zM52.1 107.1h0.9v0.9h-0.9zM72.6 104.7h0.9v0.9h-0.9zM52.2 121.2h0.9v0.9h-0.9zM65.2 94.2h0.9v0.9h-0.9zM82.5 131.9h0.9v0.9h-0.9zM55.4 116.5h0.9v0.9h-0.9zM51.6 149.4h0.9v0.9h-0.9zM87.9 137.3h0.9v0.9h-0.9zM56.0 127.1h0.9v0.9h-0.9zM78.2 123.5h0.9v0.9h-0.9zM78.2 111.2h0.9v0.9h-0.9zM86.2 129.8h0.9v0.9h-0.9zM75.7 117.0h0.9v0.9h-0.9zM74.1 123.3h0.9v0.9h-0.9zM54.7 125.1h0.9v0.9h-0.9zM76.7 103.8h0.9v0.9h-0.9zM77.2 116.8h0.9v0.9h-0.9zM57.6 101.2h0.9v0.9h-0.9zM49.8 105.3h0.9v0.9h-0.9zM86.4 135.8h0.9v0.9h-0.9zM85.5 129.8h0.9v0.9h-0.9zM54.4 99.0h0.9v0.9h-0.9zM56.1 98.1h0.9v0.9h-0.9zM78.8 130.4h0.9v0.9h-0.9zM53.6 152.4h0.9v0.9h-0.9zM54.8 104.9h0.9v0.9h-0.9zM81.2 128.7h0.9v0.9h-0.9zM58.1 99.7h0.9v0.9h-0.9zM50.6 103.1h0.9v0.9h-0.9zM74.7 104.0h0.9v0.9h-0.9zM56.0 153.3h0.9v0.9h-0.9zM52.6 102.7h0.9v0.9h-0.9zM69.6 76.2h0.9v0.9h-0.9zM69.1 72.5h0.9v0.9h-0.9zM71.4 78.9h0.9v0.9h-0.9zM73.3 67.6h0.9v0.9h-0.9zM73.4 73.3h0.9v0.9h-0.9zM75.2 68.6h0.9v0.9h-0.9zM67.6 75.6h0.9v0.9h-0.9zM73.5 69.6h0.9v0.9h-0.9zM73.6 71.0h0.9v0.9h-0.9zM75.1 71.2h0.9v0.9h-0.9zM74.0 68.8h0.9v0.9h-0.9zM76.1 74.3h0.9v0.9h-0.9zM63.8 83.5h0.9v0.9h-0.9zM80.2 67.8h0.9v0.9h-0.9zM62.6 81.8h0.9v0.9h-0.9zM70.1 70.8h0.9v0.9h-0.9zM75.8 65.5h0.9v0.9h-0.9zM73.6 67.3h0.9v0.9h-0.9zM63.0 75.0h0.9v0.9h-0.9zM60.0 79.3h0.9v0.9h-0.9zM69.9 72.4h0.9v0.9h-0.9zM81.4 70.6h0.9v0.9h-0.9zM63.2 81.5h0.9v0.9h-0.9zM70.7 70.4h0.9v0.9h-0.9zM69.1 73.9h0.9v0.9h-0.9zM70.6 65.1h0.9v0.9h-0.9zM78.4 79.3h0.9v0.9h-0.9zM58.6 79.1h0.9v0.9h-0.9zM75.6 63.6h0.9v0.9h-0.9zM66.5 76.0h0.9v0.9h-0.9zM74.2 71.0h0.9v0.9h-0.9zM65.3 88.7h0.9v0.9h-0.9zM77.3 66.2h0.9v0.9h-0.9zM68.7 73.7h0.9v0.9h-0.9zM51.5 78.8h0.9v0.9h-0.9zM75.9 67.8h0.9v0.9h-0.9zM63.1 67.5h0.9v0.9h-0.9zM72.7 71.7h0.9v0.9h-0.9zM80.8 69.7h0.9v0.9h-0.9zM76.7 66.6h0.9v0.9h-0.9zM78.9 69.3h0.9v0.9h-0.9zM74.4 72.8h0.9v0.9h-0.9zM78.0 74.2h0.9v0.9h-0.9zM72.6 76.3h0.9v0.9h-0.9zM72.7 73.5h0.9v0.9h-0.9zM70.5 76.1h0.9v0.9h-0.9zM75.3 71.3h0.9v0.9h-0.9zM66.6 71.2h0.9v0.9h-0.9zM67.4 78.1h0.9v0.9h-0.9zM69.5 75.2h0.9v0.9h-0.9zM72.1 71.2h0.9v0.9h-0.9zM68.0 79.1h0.9v0.9h-0.9zM72.4 70.7h0.9v0.9h-0.9zM75.0 68.3h0.9v0.9h-0.9zM70.6 77.6h0.9v0.9h-0.9zM66.9 84.9h0.9v0.9h-0.9zM80.2 70.7h0.9v0.9h-0.9zM79.5 65.9h0.9v0.9h-0.9zM63.4 71.9h0.9v0.9h-0.9zM64.2 79.8h0.9v0.9h-0.9zM62.8 79.4h0.9v0.9h-0.9zM60.6 87.0h0.9v0.9h-0.9zM76.4 67.7h0.9v0.9h-0.9zM79.4 70.4h0.9v0.9h-0.9zM63.9 82.4h0.9v0.9h-0.9zM66.9 80.5h0.9v0.9h-0.9zM67.7 81.9h0.9v0.9h-0.9zM78.7 65.5h0.9v0.9h-0.9zM73.6 74.1h0.9v0.9h-0.9zM75.2 78.7h0.9v0.9h-0.9zM73.8 67.5h0.9v0.9h-0.9zM72.8 69.9h0.9v0.9h-0.9zM76.3 71.0h0.9v0.9h-0.9zM67.9 82.1h0.9v0.9h-0.9zM69.0 71.8h0.9v0.9h-0.9zM73.0 71.4h0.9v0.9h-0.9zM71.0 83.9h0.9v0.9h-0.9zM74.8 67.8h0.9v0.9h-0.9zM61.2 90.5h0.9v0.9h-0.9zM71.4 68.5h0.9v0.9h-0.9zM67.1 78.2h0.9v0.9h-0.9zM73.4 62.9h0.9v0.9h-0.9zM62.0 87.5h0.9v0.9h-0.9zM75.7 75.2h0.9v0.9h-0.9zM69.2 84.3h0.9v0.9h-0.9zM77.5 67.2h0.9v0.9h-0.9zM74.4 74.3h0.9v0.9h-0.9zM78.9 70.0h0.9v0.9h-0.9zM73.5 70.6h0.9v0.9h-0.9zM72.0 86.6h0.9v0.9h-0.9zM72.7 65.1h0.9v0.9h-0.9zM72.3 72.7h0.9v0.9h-0.9zM78.8 65.6h0.9v0.9h-0.9zM66.7 71.6h0.9v0.9h-0.9zM64.8 76.0h0.9v0.9h-0.9zM67.5 80.0h0.9v0.9h-0.9zM74.7 70.1h0.9v0.9h-0.9zM65.5 77.3h0.9v0.9h-0.9zM71.2 69.5h0.9v0.9h-0.9zM75.8 70.0h0.9v0.9h-0.9zM56.4 79.1h0.9v0.9h-0.9zM74.6 69.8h0.9v0.9h-0.9zM71.6 72.0h0.9v0.9h-0.9zM77.8 73.0h0.9v0.9h-0.9zM66.4 69.5h0.9v0.9h-0.9zM72.8 68.5h0.9v0.9h-0.9zM73.5 70.0h0.9v0.9h-0.9zM76.2 75.6h0.9v0.9h-0.9zM65.6 70.6h0.9v0.9h-0.9zM70.6 73.8h0.9v0.9h-0.9zM70.5 71.0h0.9v0.9h-0.9zM73.3 68.8h0.9v0.9h-0.9zM76.9 68.1h0.9v0.9h-0.9zM76.8 66.8h0.9v0.9h-0.9zM70.0 69.4h0.9v0.9h-0.9zM74.6 66.8h0.9v0.9h-0.9zM68.8 88.9h0.9v0.9h-0.9zM62.6 80.6h0.9v0.9h-0.9zM68.6 73.6h0.9v0.9h-0.9zM60.9 80.0h0.9v0.9h-0.9zM71.2 81.4h0.9v0.9h-0.9zM64.1 90.1h0.9v0.9h-0.9zM72.6 74.3h0.9v0.9h-0.9zM79.2 75.2h0.9v0.9h-0.9zM76.9 65.0h0.9v0.9h-0.9zM65.9 75.1h0.9v0.9h-0.9zM76.4 72.4h0.9v0.9h-0.9zM69.8 76.3h0.9v0.9h-0.9zM78.4 73.3h0.9v0.9h-0.9zM76.6 67.2h0.9v0.9h-0.9zM76.2 67.8h0.9v0.9h-0.9zM76.8 64.3h0.9v0.9h-0.9zM65.2 70.7h0.9v0.9h-0.9zM76.7 76.2h0.9v0.9h-0.9zM68.4 91.7h0.9v0.9h-0.9zM67.4 81.8h0.9v0.9h-0.9zM78.4 71.5h0.9v0.9h-0.9zM69.5 75.2h0.9v0.9h-0.9zM68.6 82.5h0.9v0.9h-0.9zM80.5 66.3h0.9v0.9h-0.9zM71.2 74.3h0.9v0.9h-0.9zM72.1 69.6h0.9v0.9h-0.9zM76.2 71.3h0.9v0.9h-0.9zM61.5 83.4h0.9v0.9h-0.9zM79.2 68.7h0.9v0.9h-0.9zM81.2 69.9h0.9v0.9h-0.9zM75.9 71.3h0.9v0.9h-0.9zM67.4 83.5h0.9v0.9h-0.9zM68.4 74.1h0.9v0.9h-0.9zM79.7 72.1h0.9v0.9h-0.9zM70.0 70.7h0.9v0.9h-0.9zM69.2 72.9h0.9v0.9h-0.9zM64.4 81.1h0.9v0.9h-0.9zM74.8 76.6h0.9v0.9h-0.9zM71.6 73.4h0.9v0.9h-0.9zM72.6 75.9h0.9v0.9h-0.9zM63.6 85.9h0.9v0.9h-0.9zM70.1 67.8h0.9v0.9h-0.9zM78.4 77.0h0.9v0.9h-0.9zM78.4 67.2h0.9v0.9h-0.9zM79.3 74.2h0.9v0.9h-0.9zM77.2 68.2h0.9v0.9h-0.9zM71.3 71.5h0.9v0.9h-0.9zM76.6 70.3h0.9v0.9h-0.9zM73.6 74.8h0.9v0.9h-0.9zM72.3 68.3h0.9v0.9h-0.9zM79.5 69.4h0.9v0.9h-0.9zM73.8 75.4h0.9v0.9h-0.9zM73.1 70.5h0.9v0.9h-0.9zM78.0 70.7h0.9v0.9h-0.9zM68.4 83.6h0.9v0.9h-0.9zM75.4 73.7h0.9v0.9h-0.9zM80.2 67.4h0.9v0.9h-0.9zM69.7 78.3h0.9v0.9h-0.9zM74.3 67.5h0.9v0.9h-0.9zM73.9 65.5h0.9v0.9h-0.9zM67.9 84.0h0.9v0.9h-0.9zM63.0 88.8h0.9v0.9h-0.9zM63.9 83.4h0.9v0.9h-0.9zM72.5 67.2h0.9v0.9h-0.9zM63.8 83.5h0.9v0.9h-0.9zM78.3 67.0h0.9v0.9h-0.9zM70.8 82.0h0.9v0.9h-0.9zM70.0 74.3h0.9v0.9h-0.9zM64.3 62.9h0.9v0.9h-0.9zM54.6 87.6h0.9v0.9h-0.9zM65.8 71.4h0.9v0.9h-0.9zM63.0 79.2h0.9v0.9h-0.9zM58.6 79.4h0.9v0.9h-0.9zM73.9 73.2h0.9v0.9h-0.9zM68.1 77.5h0.9v0.9h-0.9zM65.3 81.2h0.9v0.9h-0.9zM64.5 87.8h0.9v0.9h-0.9zM69.4 81.5h0.9v0.9h-0.9zM72.3 70.3h0.9v0.9h-0.9zM75.2 81.3h0.9v0.9h-0.9zM73.2 74.3h0.9v0.9h-0.9zM80.4 73.5h0.9v0.9h-0.9zM75.8 67.5h0.9v0.9h-0.9zM75.4 72.3h0.9v0.9h-0.9zM67.8 73.5h0.9v0.9h-0.9zM54.3 87.2h0.9v0.9h-0.9zM66.3 74.0h0.9v0.9h-0.9zM71.2 70.5h0.9v0.9h-0.9zM76.8 69.4h0.9v0.9h-0.9zM76.9 67.5h0.9v0.9h-0.9zM63.4 78.0h0.9v0.9h-0.9zM56.5 84.6h0.9v0.9h-0.9zM66.3 80.9h0.9v0.9h-0.9zM66.9 78.1h0.9v0.9h-0.9zM74.1 72.5h0.9v0.9h-0.9zM75.9 69.4h0.9v0.9h-0.9zM71.0 77.0h0.9v0.9h-0.9zM64.1 78.6h0.9v0.9h-0.9zM60.6 87.8h0.9v0.9h-0.9zM75.9 66.2h0.9v0.9h-0.9zM76.9 69.5h0.9v0.9h-0.9zM68.6 75.8h0.9v0.9h-0.9zM80.6 69.5h0.9v0.9h-0.9zM79.3 69.1h0.9v0.9h-0.9zM69.3 73.1h0.9v0.9h-0.9zM77.6 68.2h0.9v0.9h-0.9zM57.0 89.1h0.9v0.9h-0.9zM76.5 66.4h0.9v0.9h-0.9zM71.3 76.6h0.9v0.9h-0.9zM70.0 69.7h0.9v0.9h-0.9zM78.2 66.8h0.9v0.9h-0.9zM64.3 79.7h0.9v0.9h-0.9zM58.5 78.3h0.9v0.9h-0.9zM77.0 75.4h0.9v0.9h-0.9zM77.2 68.7h0.9v0.9h-0.9zM79.8 72.4h0.9v0.9h-0.9zM74.3 75.6h0.9v0.9h-0.9zM66.9 79.1h0.9v0.9h-0.9zM71.0 74.5h0.9v0.9h-0.9zM56.5 87.6h0.9v0.9h-0.9zM73.0 74.1h0.9v0.9h-0.9zM74.7 69.7h0.9v0.9h-0.9zM73.0 79.0h0.9v0.9h-0.9zM78.7 67.4h0.9v0.9h-0.9zM67.6 80.1h0.9v0.9h-0.9zM62.5 76.5h0.9v0.9h-0.9zM73.6 77.2h0.9v0.9h-0.9zM71.0 73.0h0.9v0.9h-0.9zM74.5 68.7h0.9v0.9h-0.9zM74.1 65.5h0.9v0.9h-0.9zM62.6 81.9h0.9v0.9h-0.9zM74.4 73.8h0.9v0.9h-0.9zM73.7 71.5h0.9v0.9h-0.9zM67.8 77.8h0.9v0.9h-0.9zM74.7 66.6h0.9v0.9h-0.9zM71.7 76.4h0.9v0.9h-0.9zM69.3 73.7h0.9v0.9h-0.9zM74.9 78.1h0.9v0.9h-0.9zM75.9 65.1h0.9v0.9h-0.9zM66.1 81.4h0.9v0.9h-0.9zM71.8 67.5h0.9v0.9h-0.9zM62.5 91.6h0.9v0.9h-0.9zM70.1 76.7h0.9v0.9h-0.9zM70.8 76.8h0.9v0.9h-0.9zM67.0 75.3h0.9v0.9h-0.9zM57.4 82.4h0.9v0.9h-0.9zM74.1 70.5h0.9v0.9h-0.9zM72.5 70.9h0.9v0.9h-0.9zM72.3 67.3h0.9v0.9h-0.9zM76.5 76.4h0.9v0.9h-0.9zM73.3 70.2h0.9v0.9h-0.9zM60.0 82.7h0.9v0.9h-0.9zM69.5 76.1h0.9v0.9h-0.9zM73.1 76.0h0.9v0.9h-0.9zM76.0 78.8h0.9v0.9h-0.9zM73.2 63.6h0.9v0.9h-0.9zM74.6 70.8h0.9v0.9h-0.9zM76.8 69.2h0.9v0.9h-0.9zM63.3 76.4h0.9v0.9h-0.9zM71.6 70.9h0.9v0.9h-0.9zM78.1 76.9h0.9v0.9h-0.9zM73.0 75.4h0.9v0.9h-0.9zM54.7 83.4h0.9v0.9h-0.9zM69.1 93.5h0.9v0.9h-0.9zM79.5 63.1h0.9v0.9h-0.9zM68.9 75.7h0.9v0.9h-0.9zM68.0 86.0h0.9v0.9h-0.9zM74.2 75.2h0.9v0.9h-0.9zM78.3 73.2h0.9v0.9h-0.9zM77.7 70.1h0.9v0.9h-0.9zM68.4 74.2h0.9v0.9h-0.9zM76.1 65.6h0.9v0.9h-0.9zM68.9 80.3h0.9v0.9h-0.9zM67.2 68.7h0.9v0.9h-0.9zM70.3 77.2h0.9v0.9h-0.9zM59.0 85.4h0.9v0.9h-0.9zM63.6 76.4h0.9v0.9h-0.9zM73.7 68.0h0.9v0.9h-0.9zM71.1 70.3h0.9v0.9h-0.9zM69.5 76.5h0.9v0.9h-0.9zM74.2 74.5h0.9v0.9h-0.9zM77.2 72.6h0.9v0.9h-0.9zM64.7 73.8h0.9v0.9h-0.9zM79.7 66.7h0.9v0.9h-0.9zM74.8 77.3h0.9v0.9h-0.9zM71.7 77.0h0.9v0.9h-0.9zM73.9 74.8h0.9v0.9h-0.9zM65.0 72.8h0.9v0.9h-0.9zM73.4 72.3h0.9v0.9h-0.9zM69.5 82.1h0.9v0.9h-0.9zM64.1 82.1h0.9v0.9h-0.9zM73.2 68.9h0.9v0.9h-0.9zM72.6 73.2h0.9v0.9h-0.9zM56.7 84.3h0.9v0.9h-0.9zM69.4 82.7h0.9v0.9h-0.9zM66.1 86.0h0.9v0.9h-0.9zM75.2 69.4h0.9v0.9h-0.9zM75.0 71.7h0.9v0.9h-0.9zM67.1 83.8h0.9v0.9h-0.9zM72.6 70.2h0.9v0.9h-0.9zM69.4 88.9h0.9v0.9h-0.9zM69.1 79.2h0.9v0.9h-0.9zM78.0 71.3h0.9v0.9h-0.9zM77.1 76.2h0.9v0.9h-0.9zM78.7 67.5h0.9v0.9h-0.9zM60.3 86.5h0.9v0.9h-0.9zM57.8 75.6h0.9v0.9h-0.9zM76.9 68.2h0.9v0.9h-0.9zM80.4 66.5h0.9v0.9h-0.9zM71.7 70.9h0.9v0.9h-0.9zM78.9 68.2h0.9v0.9h-0.9zM78.4 65.4h0.9v0.9h-0.9zM76.6 67.2h0.9v0.9h-0.9zM77.3 72.6h0.9v0.9h-0.9zM62.6 79.0h0.9v0.9h-0.9zM78.3 74.6h0.9v0.9h-0.9zM65.7 72.5h0.9v0.9h-0.9zM64.1 75.3h0.9v0.9h-0.9zM63.9 81.5h0.9v0.9h-0.9zM76.9 73.9h0.9v0.9h-0.9zM75.3 66.2h0.9v0.9h-0.9zM72.6 76.8h0.9v0.9h-0.9zM70.7 71.6h0.9v0.9h-0.9zM64.1 79.2h0.9v0.9h-0.9zM72.9 79.9h0.9v0.9h-0.9zM67.0 80.3h0.9v0.9h-0.9zM72.3 79.0h0.9v0.9h-0.9zM71.0 71.5h0.9v0.9h-0.9zM76.2 68.3h0.9v0.9h-0.9zM74.7 75.0h0.9v0.9h-0.9zM65.7 82.8h0.9v0.9h-0.9zM71.9 81.2h0.9v0.9h-0.9zM61.6 77.4h0.9v0.9h-0.9zM75.0 70.3h0.9v0.9h-0.9zM68.9 77.5h0.9v0.9h-0.9zM67.6 75.9h0.9v0.9h-0.9zM61.7 79.2h0.9v0.9h-0.9zM71.7 70.9h0.9v0.9h-0.9zM77.9 69.0h0.9v0.9h-0.9zM69.6 78.7h0.9v0.9h-0.9zM73.0 84.4h0.9v0.9h-0.9zM80.7 70.2h0.9v0.9h-0.9zM73.2 74.2h0.9v0.9h-0.9zM57.8 82.4h0.9v0.9h-0.9zM74.5 67.4h0.9v0.9h-0.9zM76.0 67.8h0.9v0.9h-0.9zM63.4 77.7h0.9v0.9h-0.9zM64.2 71.3h0.9v0.9h-0.9zM77.3 73.1h0.9v0.9h-0.9zM71.9 76.4h0.9v0.9h-0.9zM75.2 82.7h0.9v0.9h-0.9zM75.6 78.2h0.9v0.9h-0.9zM78.4 70.4h0.9v0.9h-0.9zM71.5 68.7h0.9v0.9h-0.9zM76.0 70.6h0.9v0.9h-0.9zM77.6 64.3h0.9v0.9h-0.9zM77.0 76.3h0.9v0.9h-0.9zM67.8 80.6h0.9v0.9h-0.9zM71.9 71.9h0.9v0.9h-0.9zM76.4 77.7h0.9v0.9h-0.9zM68.7 79.7h0.9v0.9h-0.9zM75.4 66.6h0.9v0.9h-0.9zM67.0 78.6h0.9v0.9h-0.9zM76.4 69.2h0.9v0.9h-0.9zM75.2 71.7h0.9v0.9h-0.9zM80.4 71.0h0.9v0.9h-0.9zM73.5 75.4h0.9v0.9h-0.9zM75.6 71.0h0.9v0.9h-0.9zM75.2 71.9h0.9v0.9h-0.9zM78.7 79.2h0.9v0.9h-0.9zM77.2 68.9h0.9v0.9h-0.9zM72.1 72.8h0.9v0.9h-0.9zM65.4 81.7h0.9v0.9h-0.9zM71.5 76.5h0.9v0.9h-0.9zM74.1 73.4h0.9v0.9h-0.9zM70.4 73.4h0.9v0.9h-0.9zM81.6 71.4h0.9v0.9h-0.9zM75.4 67.0h0.9v0.9h-0.9zM66.2 89.0h0.9v0.9h-0.9zM74.9 68.5h0.9v0.9h-0.9zM78.4 66.8h0.9v0.9h-0.9zM66.5 84.4h0.9v0.9h-0.9zM71.3 76.2h0.9v0.9h-0.9zM73.7 80.7h0.9v0.9h-0.9zM68.4 70.5h0.9v0.9h-0.9zM64.6 75.7h0.9v0.9h-0.9zM72.6 72.1h0.9v0.9h-0.9zM69.8 71.0h0.9v0.9h-0.9zM67.9 79.1h0.9v0.9h-0.9zM72.8 71.5h0.9v0.9h-0.9zM76.6 74.4h0.9v0.9h-0.9zM71.4 72.5h0.9v0.9h-0.9zM66.0 83.1h0.9v0.9h-0.9zM63.8 77.7h0.9v0.9h-0.9zM57.6 90.2h0.9v0.9h-0.9zM64.2 81.4h0.9v0.9h-0.9zM67.5 74.8h0.9v0.9h-0.9zM78.0 76.8h0.9v0.9h-0.9zM68.5 73.7h0.9v0.9h-0.9zM69.5 76.3h0.9v0.9h-0.9zM72.3 79.8h0.9v0.9h-0.9zM70.9 75.1h0.9v0.9h-0.9zM74.9 71.5h0.9v0.9h-0.9zM75.1 71.3h0.9v0.9h-0.9zM80.5 77.6h0.9v0.9h-0.9zM62.3 80.6h0.9v0.9h-0.9zM73.2 69.1h0.9v0.9h-0.9zM73.2 74.2h0.9v0.9h-0.9zM75.9 70.1h0.9v0.9h-0.9zM73.2 74.6h0.9v0.9h-0.9zM73.2 66.0h0.9v0.9h-0.9zM80.4 75.0h0.9v0.9h-0.9zM61.5 79.4h0.9v0.9h-0.9zM70.6 82.7h0.9v0.9h-0.9zM78.1 66.2h0.9v0.9h-0.9zM71.5 72.7h0.9v0.9h-0.9zM66.8 83.1h0.9v0.9h-0.9zM76.5 65.9h0.9v0.9h-0.9zM65.4 78.5h0.9v0.9h-0.9zM77.4 66.7h0.9v0.9h-0.9zM75.7 67.2h0.9v0.9h-0.9zM73.3 74.4h0.9v0.9h-0.9zM67.4 82.7h0.9v0.9h-0.9zM78.3 74.3h0.9v0.9h-0.9zM67.6 80.0h0.9v0.9h-0.9zM53.9 84.5h0.9v0.9h-0.9zM73.2 71.2h0.9v0.9h-0.9zM80.8 71.4h0.9v0.9h-0.9zM75.3 69.6h0.9v0.9h-0.9zM67.2 77.1h0.9v0.9h-0.9zM77.2 67.4h0.9v0.9h-0.9zM69.7 72.4h0.9v0.9h-0.9zM76.2 67.8h0.9v0.9h-0.9zM72.8 66.3h0.9v0.9h-0.9zM75.4 75.3h0.9v0.9h-0.9zM76.5 67.7h0.9v0.9h-0.9zM80.0 76.5h0.9v0.9h-0.9zM65.9 76.5h0.9v0.9h-0.9zM64.0 91.9h0.9v0.9h-0.9zM72.3 76.3h0.9v0.9h-0.9zM79.7 72.0h0.9v0.9h-0.9zM66.1 72.1h0.9v0.9h-0.9zM67.9 77.7h0.9v0.9h-0.9zM69.6 71.4h0.9v0.9h-0.9zM72.6 74.7h0.9v0.9h-0.9zM66.8 83.9h0.9v0.9h-0.9zM72.7 71.0h0.9v0.9h-0.9zM78.0 70.7h0.9v0.9h-0.9zM70.8 77.3h0.9v0.9h-0.9zM67.4 92.2h0.9v0.9h-0.9zM72.0 77.8h0.9v0.9h-0.9zM70.6 75.6h0.9v0.9h-0.9zM73.5 77.5h0.9v0.9h-0.9zM73.4 67.2h0.9v0.9h-0.9zM72.3 79.4h0.9v0.9h-0.9zM61.9 81.4h0.9v0.9h-0.9zM68.4 85.8h0.9v0.9h-0.9zM63.0 81.6h0.9v0.9h-0.9zM79.4 67.7h0.9v0.9h-0.9zM74.1 64.6h0.9v0.9h-0.9zM72.7 72.3h0.9v0.9h-0.9zM71.7 72.6h0.9v0.9h-0.9zM75.4 85.1h0.9v0.9h-0.9zM55.1 87.5h0.9v0.9h-0.9zM69.1 73.6h0.9v0.9h-0.9zM81.8 68.5h0.9v0.9h-0.9zM71.6 75.0h0.9v0.9h-0.9zM63.7 74.2h0.9v0.9h-0.9zM68.8 78.5h0.9v0.9h-0.9zM70.8 70.4h0.9v0.9h-0.9zM60.8 75.7h0.9v0.9h-0.9zM73.5 76.7h0.9v0.9h-0.9zM69.2 73.2h0.9v0.9h-0.9zM74.5 72.9h0.9v0.9h-0.9zM63.0 67.6h0.9v0.9h-0.9zM78.7 73.0h0.9v0.9h-0.9zM60.8 68.7h0.9v0.9h-0.9zM70.8 70.6h0.9v0.9h-0.9zM79.6 74.7h0.9v0.9h-0.9zM66.8 76.6h0.9v0.9h-0.9zM72.1 78.5h0.9v0.9h-0.9zM60.5 71.3h0.9v0.9h-0.9zM69.4 82.2h0.9v0.9h-0.9zM73.1 80.4h0.9v0.9h-0.9zM71.7 82.5h0.9v0.9h-0.9zM70.6 70.3h0.9v0.9h-0.9zM74.2 64.1h0.9v0.9h-0.9zM70.9 68.7h0.9v0.9h-0.9zM71.8 75.7h0.9v0.9h-0.9zM66.9 72.1h0.9v0.9h-0.9zM72.9 79.1h0.9v0.9h-0.9zM72.2 74.7h0.9v0.9h-0.9zM72.2 71.9h0.9v0.9h-0.9zM71.7 76.2h0.9v0.9h-0.9zM72.0 69.4h0.9v0.9h-0.9zM67.9 70.3h0.9v0.9h-0.9zM68.5 80.1h0.9v0.9h-0.9zM74.8 74.7h0.9v0.9h-0.9zM77.5 74.4h0.9v0.9h-0.9zM70.0 82.0h0.9v0.9h-0.9zM68.9 66.4h0.9v0.9h-0.9zM65.4 74.4h0.9v0.9h-0.9zM70.3 72.8h0.9v0.9h-0.9zM73.0 71.8h0.9v0.9h-0.9zM64.9 74.4h0.9v0.9h-0.9zM68.0 71.4h0.9v0.9h-0.9zM65.5 77.9h0.9v0.9h-0.9zM63.6 73.2h0.9v0.9h-0.9zM68.7 66.3h0.9v0.9h-0.9zM65.3 69.7h0.9v0.9h-0.9zM75.0 68.9h0.9v0.9h-0.9zM63.9 79.6h0.9v0.9h-0.9zM66.6 77.7h0.9v0.9h-0.9zM75.7 78.7h0.9v0.9h-0.9zM77.2 86.5h0.9v0.9h-0.9zM52.6 81.7h0.9v0.9h-0.9zM69.0 74.0h0.9v0.9h-0.9zM77.4 73.2h0.9v0.9h-0.9zM64.6 90.7h0.9v0.9h-0.9zM59.9 67.0h0.9v0.9h-0.9zM61.8 81.1h0.9v0.9h-0.9zM86.6 71.2h0.9v0.9h-0.9zM69.6 89.1h0.9v0.9h-0.9zM65.2 63.9h0.9v0.9h-0.9zM64.7 83.6h0.9v0.9h-0.9zM65.7 84.2h0.9v0.9h-0.9zM70.3 77.1h0.9v0.9h-0.9zM68.8 94.0h0.9v0.9h-0.9zM57.3 87.5h0.9v0.9h-0.9zM68.8 82.8h0.9v0.9h-0.9zM51.6 81.0h0.9v0.9h-0.9zM55.9 94.0h0.9v0.9h-0.9zM62.3 88.3h0.9v0.9h-0.9zM66.5 76.9h0.9v0.9h-0.9zM45.3 64.9h0.9v0.9h-0.9zM68.3 70.9h0.9v0.9h-0.9zM81.7 78.3h0.9v0.9h-0.9zM65.5 80.8h0.9v0.9h-0.9zM59.5 73.8h0.9v0.9h-0.9zM71.3 80.2h0.9v0.9h-0.9zM69.8 78.0h0.9v0.9h-0.9zM72.8 67.9h0.9v0.9h-0.9zM67.3 83.2h0.9v0.9h-0.9zM78.4 83.6h0.9v0.9h-0.9zM73.8 90.2h0.9v0.9h-0.9zM81.8 81.0h0.9v0.9h-0.9zM81.2 75.3h0.9v0.9h-0.9zM68.9 85.0h0.9v0.9h-0.9zM89.7 79.5h0.9v0.9h-0.9zM60.7 89.6h0.9v0.9h-0.9zM74.3 78.8h0.9v0.9h-0.9zM60.2 87.9h0.9v0.9h-0.9zM70.3 80.1h0.9v0.9h-0.9zM59.1 77.2h0.9v0.9h-0.9zM63.7 85.1h0.9v0.9h-0.9zM57.3 85.3h0.9v0.9h-0.9zM77.8 90.5h0.9v0.9h-0.9zM60.0 82.7h0.9v0.9h-0.9zM62.2 91.5h0.9v0.9h-0.9zM70.9 92.3h0.9v0.9h-0.9zM65.2 82.8h0.9v0.9h-0.9zM67.9 84.5h0.9v0.9h-0.9zM73.1 85.1h0.9v0.9h-0.9zM73.1 90.7h0.9v0.9h-0.9zM67.2 89.2h0.9v0.9h-0.9zM67.9 80.8h0.9v0.9h-0.9zM68.2 86.4h0.9v0.9h-0.9zM67.6 85.5h0.9v0.9h-0.9zM59.6 92.6h0.9v0.9h-0.9zM71.8 82.1h0.9v0.9h-0.9zM62.4 81.5h0.9v0.9h-0.9zM58.1 82.7h0.9v0.9h-0.9zM68.5 89.3h0.9v0.9h-0.9zM67.6 81.3h0.9v0.9h-0.9zM70.7 91.2h0.9v0.9h-0.9zM75.8 86.5h0.9v0.9h-0.9zM72.0 81.3h0.9v0.9h-0.9zM65.1 91.5h0.9v0.9h-0.9zM63.9 90.5h0.9v0.9h-0.9zM77.6 88.8h0.9v0.9h-0.9zM48.4 87.3h0.9v0.9h-0.9zM71.0 78.4h0.9v0.9h-0.9zM71.6 84.1h0.9v0.9h-0.9zM69.7 75.5h0.9v0.9h-0.9zM68.8 84.5h0.9v0.9h-0.9zM60.5 90.0h0.9v0.9h-0.9zM75.3 80.9h0.9v0.9h-0.9zM76.1 62.9h0.9v0.9h-0.9zM63.7 84.7h0.9v0.9h-0.9zM74.3 83.2h0.9v0.9h-0.9zM70.3 91.8h0.9v0.9h-0.9zM61.7 92.7h0.9v0.9h-0.9zM57.6 77.8h0.9v0.9h-0.9zM63.6 75.4h0.9v0.9h-0.9zM66.3 79.7h0.9v0.9h-0.9zM59.0 84.3h0.9v0.9h-0.9zM54.2 85.6h0.9v0.9h-0.9zM65.9 80.3h0.9v0.9h-0.9zM52.8 81.7h0.9v0.9h-0.9zM74.3 78.5h0.9v0.9h-0.9zM74.6 78.6h0.9v0.9h-0.9zM74.6 68.6h0.9v0.9h-0.9zM69.1 92.6h0.9v0.9h-0.9zM54.5 81.6h0.9v0.9h-0.9zM72.8 80.3h0.9v0.9h-0.9zM69.9 81.8h0.9v0.9h-0.9zM78.6 83.1h0.9v0.9h-0.9zM71.2 88.0h0.9v0.9h-0.9zM57.5 81.4h0.9v0.9h-0.9zM67.4 85.8h0.9v0.9h-0.9zM76.6 73.3h0.9v0.9h-0.9zM77.7 67.0h0.9v0.9h-0.9zM74.7 75.5h0.9v0.9h-0.9zM85.3 87.7h0.9v0.9h-0.9zM61.3 91.0h0.9v0.9h-0.9zM72.8 88.1h0.9v0.9h-0.9zM63.7 74.7h0.9v0.9h-0.9zM74.2 86.6h0.9v0.9h-0.9zM49.1 88.9h0.9v0.9h-0.9zM79.4 71.4h0.9v0.9h-0.9zM88.3 82.4h0.9v0.9h-0.9zM67.3 80.0h0.9v0.9h-0.9zM49.2 83.7h0.9v0.9h-0.9zM58.7 87.1h0.9v0.9h-0.9zM65.5 86.1h0.9v0.9h-0.9zM68.9 71.9h0.9v0.9h-0.9zM73.9 72.7h0.9v0.9h-0.9zM59.4 93.6h0.9v0.9h-0.9zM57.9 79.9h0.9v0.9h-0.9zM64.2 88.3h0.9v0.9h-0.9zM82.1 82.3h0.9v0.9h-0.9zM66.2 74.7h0.9v0.9h-0.9zM69.0 86.1h0.9v0.9h-0.9zM77.0 88.1h0.9v0.9h-0.9zM58.9 77.5h0.9v0.9h-0.9zM70.7 74.6h0.9v0.9h-0.9zM60.9 82.5h0.9v0.9h-0.9zM66.4 82.2h0.9v0.9h-0.9zM79.9 73.6h0.9v0.9h-0.9zM55.7 77.1h0.9v0.9h-0.9zM74.8 80.1h0.9v0.9h-0.9zM72.9 80.2h0.9v0.9h-0.9zM58.8 74.9h0.9v0.9h-0.9zM81.4 88.1h0.9v0.9h-0.9zM71.6 84.8h0.9v0.9h-0.9zM67.7 93.0h0.9v0.9h-0.9zM79.3 79.0h0.9v0.9h-0.9zM76.5 84.9h0.9v0.9h-0.9zM67.5 79.5h0.9v0.9h-0.9zM61.2 75.8h0.9v0.9h-0.9zM62.7 76.4h0.9v0.9h-0.9zM64.4 79.7h0.9v0.9h-0.9zM71.2 83.8h0.9v0.9h-0.9zM52.6 91.9h0.9v0.9h-0.9zM74.1 81.5h0.9v0.9h-0.9zM65.2 95.1h0.9v0.9h-0.9zM87.3 79.5h0.9v0.9h-0.9zM60.3 82.6h0.9v0.9h-0.9zM72.5 77.2h0.9v0.9h-0.9zM68.2 85.9h0.9v0.9h-0.9zM67.7 84.3h0.9v0.9h-0.9zM40.5 91.4h0.9v0.9h-0.9zM60.5 80.3h0.9v0.9h-0.9zM67.9 76.4h0.9v0.9h-0.9zM69.4 93.0h0.9v0.9h-0.9zM73.4 81.6h0.9v0.9h-0.9zM85.4 85.2h0.9v0.9h-0.9zM73.7 75.3h0.9v0.9h-0.9zM66.9 83.7h0.9v0.9h-0.9zM63.0 81.6h0.9v0.9h-0.9zM65.7 84.6h0.9v0.9h-0.9zM81.2 79.0h0.9v0.9h-0.9zM66.9 72.8h0.9v0.9h-0.9zM70.5 73.6h0.9v0.9h-0.9zM59.5 91.7h0.9v0.9h-0.9zM71.3 80.6h0.9v0.9h-0.9zM55.9 84.6h0.9v0.9h-0.9zM67.6 80.3h0.9v0.9h-0.9zM59.4 73.0h0.9v0.9h-0.9zM61.7 85.5h0.9v0.9h-0.9zM68.1 73.1h0.9v0.9h-0.9zM68.3 91.7h0.9v0.9h-0.9zM74.6 86.4h0.9v0.9h-0.9zM69.0 76.6h0.9v0.9h-0.9zM68.0 91.3h0.9v0.9h-0.9zM44.8 94.5h0.9v0.9h-0.9zM75.9 72.7h0.9v0.9h-0.9zM63.8 75.4h0.9v0.9h-0.9zM63.8 92.2h0.9v0.9h-0.9zM66.8 86.2h0.9v0.9h-0.9zM71.4 77.1h0.9v0.9h-0.9zM79.8 80.0h0.9v0.9h-0.9zM74.0 90.5h0.9v0.9h-0.9zM71.7 76.5h0.9v0.9h-0.9zM77.8 79.5h0.9v0.9h-0.9zM62.2 82.3h0.9v0.9h-0.9zM76.3 87.3h0.9v0.9h-0.9zM77.2 78.0h0.9v0.9h-0.9zM57.7 80.2h0.9v0.9h-0.9zM77.3 73.5h0.9v0.9h-0.9zM62.4 81.1h0.9v0.9h-0.9zM83.0 87.6h0.9v0.9h-0.9zM61.5 75.3h0.9v0.9h-0.9zM56.4 74.6h0.9v0.9h-0.9zM72.5 90.0h0.9v0.9h-0.9zM69.0 66.5h0.9v0.9h-0.9zM57.8 71.7h0.9v0.9h-0.9zM55.9 73.2h0.9v0.9h-0.9zM59.3 62.1h0.9v0.9h-0.9zM52.2 92.7h0.9v0.9h-0.9zM56.6 82.7h0.9v0.9h-0.9zM69.7 73.7h0.9v0.9h-0.9zM60.2 85.1h0.9v0.9h-0.9zM63.3 92.9h0.9v0.9h-0.9zM75.3 89.5h0.9v0.9h-0.9zM70.1 86.6h0.9v0.9h-0.9zM59.6 77.3h0.9v0.9h-0.9zM71.3 85.1h0.9v0.9h-0.9zM67.9 71.2h0.9v0.9h-0.9zM65.1 75.8h0.9v0.9h-0.9zM61.6 78.4h0.9v0.9h-0.9zM61.8 85.4h0.9v0.9h-0.9zM78.8 97.2h0.9v0.9h-0.9zM76.5 86.4h0.9v0.9h-0.9zM73.1 98.9h0.9v0.9h-0.9zM87.8 77.6h0.9v0.9h-0.9zM66.9 91.0h0.9v0.9h-0.9zM55.6 72.6h0.9v0.9h-0.9zM64.3 75.0h0.9v0.9h-0.9zM61.1 77.7h0.9v0.9h-0.9zM74.3 66.6h0.9v0.9h-0.9zM62.3 79.8h0.9v0.9h-0.9zM52.6 84.0h0.9v0.9h-0.9zM76.4 77.4h0.9v0.9h-0.9zM65.9 78.1h0.9v0.9h-0.9zM77.5 66.2h0.9v0.9h-0.9zM75.7 85.2h0.9v0.9h-0.9zM61.6 83.0h0.9v0.9h-0.9zM69.7 79.8h0.9v0.9h-0.9zM75.3 75.6h0.9v0.9h-0.9zM67.4 84.0h0.9v0.9h-0.9zM51.7 86.2h0.9v0.9h-0.9zM67.0 90.2h0.9v0.9h-0.9zM88.7 75.8h0.9v0.9h-0.9zM74.4 70.5h0.9v0.9h-0.9zM70.1 77.9h0.9v0.9h-0.9zM86.0 79.8h0.9v0.9h-0.9zM68.6 77.8h0.9v0.9h-0.9zM84.0 83.5h0.9v0.9h-0.9zM68.8 84.4h0.9v0.9h-0.9zM77.1 88.5h0.9v0.9h-0.9zM67.4 80.5h0.9v0.9h-0.9zM68.1 76.8h0.9v0.9h-0.9zM73.7 77.5h0.9v0.9h-0.9zM54.1 71.0h0.9v0.9h-0.9zM61.6 78.4h0.9v0.9h-0.9zM78.9 86.4h0.9v0.9h-0.9zM74.7 79.1h0.9v0.9h-0.9zM63.8 77.2h0.9v0.9h-0.9zM65.8 73.0h0.9v0.9h-0.9zM69.2 77.0h0.9v0.9h-0.9zM63.1 82.2h0.9v0.9h-0.9zM65.9 81.1h0.9v0.9h-0.9zM68.5 85.0h0.9v0.9h-0.9zM69.7 75.2h0.9v0.9h-0.9zM65.4 82.8h0.9v0.9h-0.9zM75.5 98.2h0.9v0.9h-0.9zM73.1 92.9h0.9v0.9h-0.9zM67.3 75.7h0.9v0.9h-0.9zM62.0 74.6h0.9v0.9h-0.9zM72.4 81.2h0.9v0.9h-0.9zM63.4 89.9h0.9v0.9h-0.9zM66.5 76.9h0.9v0.9h-0.9zM54.1 85.9h0.9v0.9h-0.9zM68.9 83.8h0.9v0.9h-0.9zM73.7 89.2h0.9v0.9h-0.9zM46.9 85.9h0.9v0.9h-0.9zM77.8 84.2h0.9v0.9h-0.9zM73.1 85.1h0.9v0.9h-0.9zM69.8 91.6h0.9v0.9h-0.9zM49.8 79.8h0.9v0.9h-0.9zM68.5 92.8h0.9v0.9h-0.9zM64.5 72.4h0.9v0.9h-0.9zM69.0 76.1h0.9v0.9h-0.9zM69.9 85.7h0.9v0.9h-0.9zM91.7 84.8h0.9v0.9h-0.9zM73.1 89.4h0.9v0.9h-0.9zM62.4 79.5h0.9v0.9h-0.9zM72.8 78.2h0.9v0.9h-0.9zM78.4 74.1h0.9v0.9h-0.9zM58.2 76.3h0.9v0.9h-0.9zM79.9 86.8h0.9v0.9h-0.9zM69.7 82.5h0.9v0.9h-0.9zM77.5 78.4h0.9v0.9h-0.9zM74.5 82.6h0.9v0.9h-0.9zM62.1 84.3h0.9v0.9h-0.9zM62.4 88.7h0.9v0.9h-0.9zM62.0 86.2h0.9v0.9h-0.9zM79.0 83.5h0.9v0.9h-0.9zM60.4 77.1h0.9v0.9h-0.9zM57.7 79.8h0.9v0.9h-0.9zM58.4 70.3h0.9v0.9h-0.9zM73.0 75.1h0.9v0.9h-0.9zM76.2 85.1h0.9v0.9h-0.9zM70.6 84.9h0.9v0.9h-0.9zM70.9 85.2h0.9v0.9h-0.9zM58.7 76.3h0.9v0.9h-0.9zM72.7 75.1h0.9v0.9h-0.9zM82.4 84.7h0.9v0.9h-0.9zM60.2 83.3h0.9v0.9h-0.9zM72.5 79.1h0.9v0.9h-0.9zM83.6 88.3h0.9v0.9h-0.9zM84.6 78.0h0.9v0.9h-0.9zM74.4 83.6h0.9v0.9h-0.9zM57.3 74.2h0.9v0.9h-0.9zM59.6 74.4h0.9v0.9h-0.9zM71.3 65.3h0.9v0.9h-0.9zM58.1 79.1h0.9v0.9h-0.9zM58.7 82.0h0.9v0.9h-0.9zM64.8 78.0h0.9v0.9h-0.9zM88.4 85.2h0.9v0.9h-0.9zM52.0 82.2h0.9v0.9h-0.9zM70.2 77.8h0.9v0.9h-0.9zM73.5 76.5h0.9v0.9h-0.9zM58.3 82.8h0.9v0.9h-0.9zM53.3 90.0h0.9v0.9h-0.9zM69.6 90.9h0.9v0.9h-0.9zM61.2 83.5h0.9v0.9h-0.9zM80.6 87.8h0.9v0.9h-0.9zM68.1 79.2h0.9v0.9h-0.9zM57.8 82.4h0.9v0.9h-0.9zM65.8 77.8h0.9v0.9h-0.9zM80.0 77.0h0.9v0.9h-0.9zM85.5 100.5h0.9v0.9h-0.9zM54.1 79.9h0.9v0.9h-0.9zM64.9 74.4h0.9v0.9h-0.9zM65.8 82.3h0.9v0.9h-0.9zM73.9 72.1h0.9v0.9h-0.9zM78.6 86.8h0.9v0.9h-0.9zM67.7 77.2h0.9v0.9h-0.9zM75.9 73.0h0.9v0.9h-0.9zM62.9 90.2h0.9v0.9h-0.9zM76.1 90.4h0.9v0.9h-0.9zM81.2 104.1h0.9v0.9h-0.9zM79.2 105.6h0.9v0.9h-0.9zM92.2 132.6h0.9v0.9h-0.9zM83.2 113.0h0.9v0.9h-0.9zM88.6 115.2h0.9v0.9h-0.9zM85.0 114.4h0.9v0.9h-0.9zM83.5 108.4h0.9v0.9h-0.9zM75.5 117.5h0.9v0.9h-0.9zM79.8 110.4h0.9v0.9h-0.9zM78.5 115.0h0.9v0.9h-0.9zM92.5 104.8h0.9v0.9h-0.9zM83.1 103.0h0.9v0.9h-0.9zM88.2 104.2h0.9v0.9h-0.9zM84.6 123.5h0.9v0.9h-0.9zM76.6 113.3h0.9v0.9h-0.9zM70.9 101.2h0.9v0.9h-0.9zM88.2 119.4h0.9v0.9h-0.9zM76.7 88.6h0.9v0.9h-0.9zM81.5 95.6h0.9v0.9h-0.9zM88.5 122.9h0.9v0.9h-0.9zM75.1 104.8h0.9v0.9h-0.9zM83.8 123.1h0.9v0.9h-0.9zM88.6 121.5h0.9v0.9h-0.9zM80.9 123.6h0.9v0.9h-0.9zM90.3 134.7h0.9v0.9h-0.9zM92.6 114.7h0.9v0.9h-0.9zM81.2 99.7h0.9v0.9h-0.9zM82.6 128.7h0.9v0.9h-0.9zM83.7 111.6h0.9v0.9h-0.9zM79.6 110.8h0.9v0.9h-0.9zM86.0 121.6h0.9v0.9h-0.9zM80.2 122.1h0.9v0.9h-0.9zM70.0 98.9h0.9v0.9h-0.9zM82.9 120.0h0.9v0.9h-0.9zM88.4 119.8h0.9v0.9h-0.9zM83.3 110.0h0.9v0.9h-0.9zM79.0 126.4h0.9v0.9h-0.9zM88.4 133.1h0.9v0.9h-0.9zM83.8 131.6h0.9v0.9h-0.9zM99.1 138.5h0.9v0.9h-0.9zM76.1 122.1h0.9v0.9h-0.9zM74.9 122.3h0.9v0.9h-0.9zM80.7 127.4h0.9v0.9h-0.9zM76.9 111.0h0.9v0.9h-0.9zM72.2 126.7h0.9v0.9h-0.9zM74.9 123.4h0.9v0.9h-0.9zM88.4 111.9h0.9v0.9h-0.9zM85.8 117.2h0.9v0.9h-0.9zM85.5 107.3h0.9v0.9h-0.9zM82.1 133.5h0.9v0.9h-0.9zM74.9 118.2h0.9v0.9h-0.9zM81.8 122.3h0.9v0.9h-0.9zM86.5 122.4h0.9v0.9h-0.9zM75.0 120.7h0.9v0.9h-0.9zM75.8 124.9h0.9v0.9h-0.9zM79.9 120.1h0.9v0.9h-0.9zM74.7 112.1h0.9v0.9h-0.9zM88.0 115.1h0.9v0.9h-0.9zM75.0 117.7h0.9v0.9h-0.9zM89.1 132.9h0.9v0.9h-0.9zM82.8 110.6h0.9v0.9h-0.9zM79.4 86.8h0.9v0.9h-0.9zM87.3 132.9h0.9v0.9h-0.9zM76.5 99.9h0.9v0.9h-0.9zM74.6 106.2h0.9v0.9h-0.9zM76.2 127.3h0.9v0.9h-0.9zM82.3 105.1h0.9v0.9h-0.9zM85.3 124.3h0.9v0.9h-0.9zM77.0 105.7h0.9v0.9h-0.9zM82.0 114.7h0.9v0.9h-0.9zM80.4 130.5h0.9v0.9h-0.9zM68.8 91.1h0.9v0.9h-0.9zM82.1 119.1h0.9v0.9h-0.9zM73.9 99.3h0.9v0.9h-0.9zM80.0 115.7h0.9v0.9h-0.9zM72.5 109.6h0.9v0.9h-0.9zM75.1 114.8h0.9v0.9h-0.9zM71.9 108.5h0.9v0.9h-0.9zM77.3 108.4h0.9v0.9h-0.9zM88.2 125.5h0.9v0.9h-0.9zM82.0 111.9h0.9v0.9h-0.9zM84.5 132.5h0.9v0.9h-0.9zM72.3 110.3h0.9v0.9h-0.9zM80.7 103.4h0.9v0.9h-0.9zM85.3 110.1h0.9v0.9h-0.9zM77.3 114.4h0.9v0.9h-0.9zM88.5 124.8h0.9v0.9h-0.9zM72.4 101.8h0.9v0.9h-0.9zM77.7 116.7h0.9v0.9h-0.9zM79.9 92.8h0.9v0.9h-0.9zM74.3 96.4h0.9v0.9h-0.9zM91.0 130.8h0.9v0.9h-0.9zM69.2 83.6h0.9v0.9h-0.9zM93.3 122.6h0.9v0.9h-0.9zM79.1 115.1h0.9v0.9h-0.9zM77.1 96.3h0.9v0.9h-0.9zM85.4 114.7h0.9v0.9h-0.9zM80.1 115.7h0.9v0.9h-0.9zM83.4 111.6h0.9v0.9h-0.9zM80.2 108.9h0.9v0.9h-0.9zM62.8 98.0h0.9v0.9h-0.9zM81.1 122.8h0.9v0.9h-0.9zM76.1 111.1h0.9v0.9h-0.9zM75.3 95.3h0.9v0.9h-0.9zM77.2 119.5h0.9v0.9h-0.9zM78.8 126.1h0.9v0.9h-0.9zM78.3 114.7h0.9v0.9h-0.9zM87.0 131.3h0.9v0.9h-0.9zM83.1 110.2h0.9v0.9h-0.9zM74.5 118.0h0.9v0.9h-0.9zM75.9 124.1h0.9v0.9h-0.9zM97.3 110.5h0.9v0.9h-0.9zM87.8 111.4h0.9v0.9h-0.9zM74.7 101.9h0.9v0.9h-0.9zM86.0 135.6h0.9v0.9h-0.9zM81.1 115.5h0.9v0.9h-0.9zM88.6 105.4h0.9v0.9h-0.9zM90.9 119.0h0.9v0.9h-0.9zM79.0 130.3h0.9v0.9h-0.9zM90.4 130.8h0.9v0.9h-0.9zM73.8 119.4h0.9v0.9h-0.9zM77.9 112.5h0.9v0.9h-0.9zM72.9 115.5h0.9v0.9h-0.9zM88.3 121.2h0.9v0.9h-0.9zM83.3 127.9h0.9v0.9h-0.9zM78.2 120.2h0.9v0.9h-0.9zM85.6 122.0h0.9v0.9h-0.9zM83.6 118.9h0.9v0.9h-0.9zM79.2 93.1h0.9v0.9h-0.9zM86.9 99.7h0.9v0.9h-0.9zM78.4 115.1h0.9v0.9h-0.9zM89.3 119.3h0.9v0.9h-0.9zM90.1 105.6h0.9v0.9h-0.9zM78.8 96.2h0.9v0.9h-0.9zM81.6 105.9h0.9v0.9h-0.9zM71.7 97.0h0.9v0.9h-0.9zM77.1 105.0h0.9v0.9h-0.9zM72.3 97.3h0.9v0.9h-0.9zM76.0 106.4h0.9v0.9h-0.9zM86.8 116.7h0.9v0.9h-0.9zM76.4 93.3h0.9v0.9h-0.9zM88.0 101.0h0.9v0.9h-0.9zM75.0 114.6h0.9v0.9h-0.9zM80.1 120.7h0.9v0.9h-0.9zM88.3 93.0h0.9v0.9h-0.9zM72.7 81.2h0.9v0.9h-0.9zM80.6 97.3h0.9v0.9h-0.9zM74.5 100.4h0.9v0.9h-0.9zM82.3 105.9h0.9v0.9h-0.9zM79.1 94.7h0.9v0.9h-0.9zM79.1 114.6h0.9v0.9h-0.9zM92.5 122.5h0.9v0.9h-0.9zM73.4 91.4h0.9v0.9h-0.9zM74.5 110.8h0.9v0.9h-0.9zM75.6 119.2h0.9v0.9h-0.9zM81.8 123.5h0.9v0.9h-0.9zM77.5 116.9h0.9v0.9h-0.9zM91.1 131.5h0.9v0.9h-0.9zM80.8 110.3h0.9v0.9h-0.9zM81.8 127.2h0.9v0.9h-0.9zM71.8 123.4h0.9v0.9h-0.9zM74.9 114.0h0.9v0.9h-0.9zM70.7 103.8h0.9v0.9h-0.9zM77.5 109.4h0.9v0.9h-0.9zM85.7 111.0h0.9v0.9h-0.9zM83.8 123.0h0.9v0.9h-0.9zM83.7 117.9h0.9v0.9h-0.9zM82.9 109.2h0.9v0.9h-0.9zM87.2 100.2h0.9v0.9h-0.9zM85.0 138.6h0.9v0.9h-0.9zM86.4 117.3h0.9v0.9h-0.9zM85.0 111.4h0.9v0.9h-0.9zM82.5 100.2h0.9v0.9h-0.9zM68.9 90.8h0.9v0.9h-0.9zM80.5 104.6h0.9v0.9h-0.9zM75.9 103.0h0.9v0.9h-0.9zM70.1 99.7h0.9v0.9h-0.9zM80.9 121.8h0.9v0.9h-0.9zM82.8 118.0h0.9v0.9h-0.9zM91.1 109.6h0.9v0.9h-0.9zM82.3 117.4h0.9v0.9h-0.9zM88.5 121.6h0.9v0.9h-0.9zM78.4 98.6h0.9v0.9h-0.9zM80.8 122.4h0.9v0.9h-0.9zM82.8 127.7h0.9v0.9h-0.9zM92.6 117.6h0.9v0.9h-0.9zM78.9 101.1h0.9v0.9h-0.9zM89.3 99.7h0.9v0.9h-0.9zM78.2 112.0h0.9v0.9h-0.9zM74.7 109.7h0.9v0.9h-0.9zM79.9 97.8h0.9v0.9h-0.9zM79.8 104.5h0.9v0.9h-0.9zM81.3 121.7h0.9v0.9h-0.9zM77.1 125.1h0.9v0.9h-0.9zM72.9 100.6h0.9v0.9h-0.9zM80.7 132.4h0.9v0.9h-0.9zM88.4 114.6h0.9v0.9h-0.9zM82.8 112.1h0.9v0.9h-0.9zM82.1 105.5h0.9v0.9h-0.9zM78.4 123.4h0.9v0.9h-0.9zM75.1 117.1h0.9v0.9h-0.9zM94.2 123.8h0.9v0.9h-0.9zM82.4 123.3h0.9v0.9h-0.9zM82.8 93.0h0.9v0.9h-0.9zM87.1 117.8h0.9v0.9h-0.9zM84.7 123.3h0.9v0.9h-0.9zM79.5 111.6h0.9v0.9h-0.9zM74.4 117.9h0.9v0.9h-0.9zM92.8 90.8h0.9v0.9h-0.9zM77.4 96.9h0.9v0.9h-0.9zM84.8 99.2h0.9v0.9h-0.9zM87.2 119.1h0.9v0.9h-0.9zM83.9 114.8h0.9v0.9h-0.9zM76.8 85.8h0.9v0.9h-0.9zM88.7 123.9h0.9v0.9h-0.9zM74.9 82.8h0.9v0.9h-0.9zM72.5 97.3h0.9v0.9h-0.9zM65.1 94.8h0.9v0.9h-0.9zM86.3 118.1h0.9v0.9h-0.9zM84.1 108.5h0.9v0.9h-0.9zM85.6 126.1h0.9v0.9h-0.9zM84.8 145.0h0.9v0.9h-0.9zM73.7 94.0h0.9v0.9h-0.9zM77.8 125.9h0.9v0.9h-0.9zM73.8 113.2h0.9v0.9h-0.9zM82.9 120.7h0.9v0.9h-0.9zM77.7 95.6h0.9v0.9h-0.9zM68.6 97.2h0.9v0.9h-0.9zM90.0 130.5h0.9v0.9h-0.9zM77.5 122.3h0.9v0.9h-0.9zM85.1 109.8h0.9v0.9h-0.9zM83.9 142.6h0.9v0.9h-0.9zM77.3 99.7h0.9v0.9h-0.9zM77.6 108.8h0.9v0.9h-0.9zM80.3 127.3h0.9v0.9h-0.9zM78.5 86.6h0.9v0.9h-0.9zM90.5 104.9h0.9v0.9h-0.9zM83.2 98.0h0.9v0.9h-0.9zM77.3 109.3h0.9v0.9h-0.9zM70.9 94.8h0.9v0.9h-0.9zM78.2 117.1h0.9v0.9h-0.9zM87.4 136.4h0.9v0.9h-0.9zM82.2 105.3h0.9v0.9h-0.9zM86.9 129.2h0.9v0.9h-0.9zM76.8 119.0h0.9v0.9h-0.9zM82.1 108.7h0.9v0.9h-0.9zM66.1 92.9h0.9v0.9h-0.9zM87.8 121.6h0.9v0.9h-0.9zM88.3 120.1h0.9v0.9h-0.9zM87.7 119.0h0.9v0.9h-0.9zM78.1 117.3h0.9v0.9h-0.9zM85.2 101.7h0.9v0.9h-0.9zM74.7 101.5h0.9v0.9h-0.9zM85.7 105.5h0.9v0.9h-0.9zM82.5 126.3h0.9v0.9h-0.9zM76.7 100.1h0.9v0.9h-0.9zM75.9 117.9h0.9v0.9h-0.9zM80.7 124.3h0.9v0.9h-0.9zM77.0 128.8h0.9v0.9h-0.9zM79.3 112.4h0.9v0.9h-0.9zM79.9 113.2h0.9v0.9h-0.9zM77.6 104.1h0.9v0.9h-0.9zM83.0 98.3h0.9v0.9h-0.9zM71.9 95.9h0.9v0.9h-0.9zM70.3 103.8h0.9v0.9h-0.9zM79.8 108.5h0.9v0.9h-0.9zM72.0 93.1h0.9v0.9h-0.9zM81.5 124.6h0.9v0.9h-0.9zM85.9 91.1h0.9v0.9h-0.9zM82.7 126.8h0.9v0.9h-0.9zM72.4 115.4h0.9v0.9h-0.9zM83.4 123.9h0.9v0.9h-0.9zM81.6 105.7h0.9v0.9h-0.9zM86.2 87.5h0.9v0.9h-0.9zM93.4 123.6h0.9v0.9h-0.9zM80.6 119.1h0.9v0.9h-0.9zM75.3 108.3h0.9v0.9h-0.9zM90.5 136.7h0.9v0.9h-0.9zM77.0 115.0h0.9v0.9h-0.9zM74.2 102.1h0.9v0.9h-0.9zM80.7 137.1h0.9v0.9h-0.9zM85.0 113.3h0.9v0.9h-0.9zM76.7 109.1h0.9v0.9h-0.9zM90.4 114.5h0.9v0.9h-0.9zM83.3 118.8h0.9v0.9h-0.9zM76.4 121.8h0.9v0.9h-0.9zM77.7 114.0h0.9v0.9h-0.9zM79.8 111.1h0.9v0.9h-0.9zM72.8 101.2h0.9v0.9h-0.9zM82.0 122.0h0.9v0.9h-0.9zM87.2 102.9h0.9v0.9h-0.9zM80.4 118.7h0.9v0.9h-0.9zM79.4 106.8h0.9v0.9h-0.9zM86.4 128.9h0.9v0.9h-0.9zM85.4 118.4h0.9v0.9h-0.9zM88.9 109.8h0.9v0.9h-0.9zM77.9 121.5h0.9v0.9h-0.9zM84.4 117.4h0.9v0.9h-0.9zM75.6 107.3h0.9v0.9h-0.9zM76.9 103.1h0.9v0.9h-0.9zM81.8 112.8h0.9v0.9h-0.9zM89.2 114.9h0.9v0.9h-0.9zM81.6 99.2h0.9v0.9h-0.9zM78.9 97.9h0.9v0.9h-0.9zM83.5 119.8h0.9v0.9h-0.9zM76.4 124.9h0.9v0.9h-0.9zM81.8 91.9h0.9v0.9h-0.9zM79.5 128.1h0.9v0.9h-0.9zM73.8 96.6h0.9v0.9h-0.9zM75.8 94.9h0.9v0.9h-0.9zM83.3 136.3h0.9v0.9h-0.9zM76.0 90.6h0.9v0.9h-0.9zM80.7 124.8h0.9v0.9h-0.9zM82.5 104.0h0.9v0.9h-0.9zM72.9 112.2h0.9v0.9h-0.9zM79.3 126.5h0.9v0.9h-0.9zM77.5 110.7h0.9v0.9h-0.9zM74.3 108.6h0.9v0.9h-0.9zM85.3 129.4h0.9v0.9h-0.9zM82.8 97.2h0.9v0.9h-0.9zM80.9 106.4h0.9v0.9h-0.9zM77.1 118.2h0.9v0.9h-0.9zM89.1 119.3h0.9v0.9h-0.9zM89.7 129.4h0.9v0.9h-0.9zM73.5 113.3h0.9v0.9h-0.9zM82.0 104.4h0.9v0.9h-0.9zM84.7 98.8h0.9v0.9h-0.9zM71.5 95.3h0.9v0.9h-0.9zM74.2 113.3h0.9v0.9h-0.9zM77.7 106.3h0.9v0.9h-0.9zM78.7 107.4h0.9v0.9h-0.9zM90.4 97.8h0.9v0.9h-0.9zM80.1 123.6h0.9v0.9h-0.9zM70.3 86.8h0.9v0.9h-0.9zM73.8 115.2h0.9v0.9h-0.9zM77.1 113.0h0.9v0.9h-0.9zM83.1 98.6h0.9v0.9h-0.9zM75.0 91.1h0.9v0.9h-0.9zM84.5 119.5h0.9v0.9h-0.9zM77.7 106.2h0.9v0.9h-0.9zM72.6 109.5h0.9v0.9h-0.9zM79.9 117.7h0.9v0.9h-0.9zM77.1 110.8h0.9v0.9h-0.9zM76.3 89.2h0.9v0.9h-0.9zM87.6 125.3h0.9v0.9h-0.9zM72.0 105.2h0.9v0.9h-0.9zM79.9 121.7h0.9v0.9h-0.9zM88.4 104.4h0.9v0.9h-0.9zM84.0 117.5h0.9v0.9h-0.9zM77.0 122.8h0.9v0.9h-0.9zM91.6 129.3h0.9v0.9h-0.9zM77.0 103.4h0.9v0.9h-0.9zM77.9 118.0h0.9v0.9h-0.9zM81.6 121.9h0.9v0.9h-0.9zM84.1 102.3h0.9v0.9h-0.9zM93.0 122.4h0.9v0.9h-0.9zM79.8 116.0h0.9v0.9h-0.9zM77.0 93.3h0.9v0.9h-0.9zM80.0 107.2h0.9v0.9h-0.9zM82.3 108.3h0.9v0.9h-0.9zM63.9 89.2h0.9v0.9h-0.9zM76.7 101.9h0.9v0.9h-0.9zM73.9 102.1h0.9v0.9h-0.9zM73.5 101.2h0.9v0.9h-0.9zM87.3 102.1h0.9v0.9h-0.9zM74.3 126.9h0.9v0.9h-0.9zM76.9 105.0h0.9v0.9h-0.9zM74.9 99.2h0.9v0.9h-0.9zM85.6 126.0h0.9v0.9h-0.9zM72.5 110.3h0.9v0.9h-0.9zM81.4 95.7h0.9v0.9h-0.9zM82.2 108.2h0.9v0.9h-0.9zM85.1 94.1h0.9v0.9h-0.9zM86.3 112.7h0.9v0.9h-0.9zM82.4 105.7h0.9v0.9h-0.9zM81.7 111.0h0.9v0.9h-0.9zM82.4 81.1h0.9v0.9h-0.9zM73.2 104.8h0.9v0.9h-0.9zM73.8 111.0h0.9v0.9h-0.9zM78.9 131.2h0.9v0.9h-0.9zM74.8 123.2h0.9v0.9h-0.9zM99.4 122.4h0.9v0.9h-0.9zM84.4 110.7h0.9v0.9h-0.9zM77.7 98.1h0.9v0.9h-0.9zM79.3 105.1h0.9v0.9h-0.9zM81.4 100.8h0.9v0.9h-0.9zM71.9 102.6h0.9v0.9h-0.9zM87.4 115.3h0.9v0.9h-0.9zM78.4 106.3h0.9v0.9h-0.9zM74.2 120.0h0.9v0.9h-0.9zM86.2 132.1h0.9v0.9h-0.9zM81.8 126.4h0.9v0.9h-0.9zM76.3 110.9h0.9v0.9h-0.9zM80.0 112.6h0.9v0.9h-0.9zM88.3 129.2h0.9v0.9h-0.9zM72.3 98.3h0.9v0.9h-0.9zM85.3 100.1h0.9v0.9h-0.9zM79.9 105.1h0.9v0.9h-0.9zM87.7 105.1h0.9v0.9h-0.9zM83.6 134.8h0.9v0.9h-0.9zM78.0 107.0h0.9v0.9h-0.9zM84.8 98.6h0.9v0.9h-0.9zM82.5 113.8h0.9v0.9h-0.9zM75.4 100.5h0.9v0.9h-0.9zM74.7 113.2h0.9v0.9h-0.9zM66.8 82.9h0.9v0.9h-0.9zM75.6 121.4h0.9v0.9h-0.9zM79.5 116.2h0.9v0.9h-0.9zM78.1 88.6h0.9v0.9h-0.9zM84.5 107.9h0.9v0.9h-0.9zM81.7 117.0h0.9v0.9h-0.9zM82.3 128.1h0.9v0.9h-0.9zM79.2 124.9h0.9v0.9h-0.9zM75.8 100.8h0.9v0.9h-0.9zM78.5 118.8h0.9v0.9h-0.9zM80.4 110.6h0.9v0.9h-0.9zM72.7 112.3h0.9v0.9h-0.9zM84.1 106.4h0.9v0.9h-0.9zM74.3 101.7h0.9v0.9h-0.9zM80.3 99.0h0.9v0.9h-0.9zM86.4 107.1h0.9v0.9h-0.9zM93.0 130.9h0.9v0.9h-0.9zM81.9 114.8h0.9v0.9h-0.9zM76.1 126.6h0.9v0.9h-0.9zM77.6 109.7h0.9v0.9h-0.9zM71.4 101.3h0.9v0.9h-0.9zM75.1 98.4h0.9v0.9h-0.9zM79.4 117.0h0.9v0.9h-0.9zM83.0 116.9h0.9v0.9h-0.9zM78.7 119.5h0.9v0.9h-0.9zM78.3 118.3h0.9v0.9h-0.9zM82.0 109.7h0.9v0.9h-0.9zM75.2 103.6h0.9v0.9h-0.9zM85.7 133.8h0.9v0.9h-0.9zM88.1 100.2h0.9v0.9h-0.9zM90.1 109.8h0.9v0.9h-0.9zM85.4 117.3h0.9v0.9h-0.9zM84.9 117.7h0.9v0.9h-0.9zM74.4 116.5h0.9v0.9h-0.9zM89.3 94.1h0.9v0.9h-0.9zM76.1 99.3h0.9v0.9h-0.9zM81.1 109.3h0.9v0.9h-0.9zM92.9 117.7h0.9v0.9h-0.9zM74.7 100.1h0.9v0.9h-0.9zM74.8 127.3h0.9v0.9h-0.9zM86.1 107.0h0.9v0.9h-0.9zM82.3 125.0h0.9v0.9h-0.9zM78.1 126.4h0.9v0.9h-0.9zM78.5 116.0h0.9v0.9h-0.9zM86.3 103.1h0.9v0.9h-0.9zM77.7 102.8h0.9v0.9h-0.9zM85.8 108.1h0.9v0.9h-0.9zM78.8 115.5h0.9v0.9h-0.9zM74.3 97.7h0.9v0.9h-0.9zM77.3 108.4h0.9v0.9h-0.9zM74.4 118.0h0.9v0.9h-0.9zM81.5 113.3h0.9v0.9h-0.9zM77.1 112.6h0.9v0.9h-0.9zM77.1 105.6h0.9v0.9h-0.9zM80.1 102.8h0.9v0.9h-0.9zM77.6 121.9h0.9v0.9h-0.9zM76.6 97.3h0.9v0.9h-0.9zM82.6 105.2h0.9v0.9h-0.9zM82.8 107.8h0.9v0.9h-0.9zM83.4 93.6h0.9v0.9h-0.9zM77.6 104.8h0.9v0.9h-0.9zM85.4 117.7h0.9v0.9h-0.9zM83.2 130.8h0.9v0.9h-0.9zM78.0 115.4h0.9v0.9h-0.9zM84.2 111.6h0.9v0.9h-0.9zM83.1 116.8h0.9v0.9h-0.9zM88.5 116.1h0.9v0.9h-0.9zM89.9 113.1h0.9v0.9h-0.9zM82.7 122.5h0.9v0.9h-0.9zM81.0 107.3h0.9v0.9h-0.9zM78.6 80.1h0.9v0.9h-0.9zM81.0 104.0h0.9v0.9h-0.9zM88.5 132.0h0.9v0.9h-0.9zM85.9 117.4h0.9v0.9h-0.9zM69.6 99.5h0.9v0.9h-0.9zM73.1 106.3h0.9v0.9h-0.9zM78.9 130.5h0.9v0.9h-0.9zM75.2 91.7h0.9v0.9h-0.9zM71.6 121.4h0.9v0.9h-0.9zM77.9 117.7h0.9v0.9h-0.9zM78.1 110.9h0.9v0.9h-0.9zM96.8 143.3h0.9v0.9h-0.9zM84.8 109.7h0.9v0.9h-0.9zM87.5 93.6h0.9v0.9h-0.9zM80.4 103.5h0.9v0.9h-0.9zM72.0 118.8h0.9v0.9h-0.9zM72.9 88.0h0.9v0.9h-0.9zM71.8 120.0h0.9v0.9h-0.9zM92.2 119.6h0.9v0.9h-0.9zM79.7 131.4h0.9v0.9h-0.9zM86.2 113.2h0.9v0.9h-0.9zM73.5 115.8h0.9v0.9h-0.9zM81.8 103.0h0.9v0.9h-0.9zM84.2 115.3h0.9v0.9h-0.9zM81.1 95.2h0.9v0.9h-0.9zM83.8 125.7h0.9v0.9h-0.9zM75.1 116.0h0.9v0.9h-0.9zM77.1 114.4h0.9v0.9h-0.9zM71.2 106.8h0.9v0.9h-0.9zM82.8 98.4h0.9v0.9h-0.9zM75.1 117.2h0.9v0.9h-0.9zM83.4 115.2h0.9v0.9h-0.9zM78.0 118.6h0.9v0.9h-0.9zM67.4 89.2h0.9v0.9h-0.9zM74.9 99.9h0.9v0.9h-0.9zM74.0 112.7h0.9v0.9h-0.9zM79.1 120.4h0.9v0.9h-0.9zM80.9 115.6h0.9v0.9h-0.9zM85.3 126.8h0.9v0.9h-0.9zM77.0 114.7h0.9v0.9h-0.9zM89.0 127.2h0.9v0.9h-0.9zM83.6 107.6h0.9v0.9h-0.9zM73.7 107.0h0.9v0.9h-0.9zM74.6 111.9h0.9v0.9h-0.9zM76.5 112.5h0.9v0.9h-0.9zM80.9 120.2h0.9v0.9h-0.9zM74.7 109.1h0.9v0.9h-0.9zM74.5 104.0h0.9v0.9h-0.9zM84.3 107.5h0.9v0.9h-0.9zM85.6 121.9h0.9v0.9h-0.9zM74.4 84.0h0.9v0.9h-0.9zM77.9 109.1h0.9v0.9h-0.9zM92.8 124.2h0.9v0.9h-0.9zM84.8 108.1h0.9v0.9h-0.9zM84.2 115.5h0.9v0.9h-0.9zM81.1 102.5h0.9v0.9h-0.9zM76.2 94.8h0.9v0.9h-0.9zM80.1 118.0h0.9v0.9h-0.9zM83.1 121.2h0.9v0.9h-0.9zM82.4 126.8h0.9v0.9h-0.9zM75.4 100.1h0.9v0.9h-0.9zM82.7 138.8h0.9v0.9h-0.9zM91.0 114.5h0.9v0.9h-0.9zM72.5 123.4h0.9v0.9h-0.9zM81.5 112.8h0.9v0.9h-0.9zM85.9 108.2h0.9v0.9h-0.9zM78.2 113.4h0.9v0.9h-0.9zM82.8 104.7h0.9v0.9h-0.9zM82.2 110.3h0.9v0.9h-0.9zM88.4 98.4h0.9v0.9h-0.9zM90.7 119.2h0.9v0.9h-0.9zM83.6 91.8h0.9v0.9h-0.9zM78.2 105.8h0.9v0.9h-0.9zM76.7 113.4h0.9v0.9h-0.9zM88.1 114.3h0.9v0.9h-0.9zM69.1 96.3h0.9v0.9h-0.9zM91.7 121.7h0.9v0.9h-0.9zM80.5 126.6h0.9v0.9h-0.9zM77.6 102.5h0.9v0.9h-0.9zM85.3 114.6h0.9v0.9h-0.9zM78.4 108.9h0.9v0.9h-0.9zM87.1 111.3h0.9v0.9h-0.9zM77.3 112.0h0.9v0.9h-0.9zM78.3 97.6h0.9v0.9h-0.9zM73.5 125.9h0.9v0.9h-0.9zM83.9 119.0h0.9v0.9h-0.9zM81.9 107.5h0.9v0.9h-0.9zM89.4 104.5h0.9v0.9h-0.9zM90.6 110.0h0.9v0.9h-0.9zM76.1 108.2h0.9v0.9h-0.9zM80.3 92.9h0.9v0.9h-0.9zM88.3 105.1h0.9v0.9h-0.9zM91.9 120.0h0.9v0.9h-0.9zM76.5 98.1h0.9v0.9h-0.9zM84.3 115.0h0.9v0.9h-0.9zM81.4 113.9h0.9v0.9h-0.9zM78.8 114.1h0.9v0.9h-0.9zM78.8 109.2h0.9v0.9h-0.9zM88.7 105.2h0.9v0.9h-0.9zM73.9 122.6h0.9v0.9h-0.9zM92.4 137.4h0.9v0.9h-0.9zM75.3 108.8h0.9v0.9h-0.9zM84.6 117.7h0.9v0.9h-0.9zM82.6 130.0h0.9v0.9h-0.9zM78.1 121.2h0.9v0.9h-0.9zM73.8 123.5h0.9v0.9h-0.9zM87.9 102.8h0.9v0.9h-0.9zM91.6 131.8h0.9v0.9h-0.9zM81.6 114.5h0.9v0.9h-0.9zM75.7 98.3h0.9v0.9h-0.9zM92.3 133.5h0.9v0.9h-0.9zM79.3 104.6h0.9v0.9h-0.9zM79.3 106.3h0.9v0.9h-0.9zM73.1 112.3h0.9v0.9h-0.9zM78.2 115.3h0.9v0.9h-0.9zM77.0 101.3h0.9v0.9h-0.9zM81.0 111.1h0.9v0.9h-0.9zM77.0 113.1h0.9v0.9h-0.9zM81.6 108.1h0.9v0.9h-0.9zM72.5 110.3h0.9v0.9h-0.9zM75.3 112.1h0.9v0.9h-0.9zM82.7 126.5h0.9v0.9h-0.9zM78.6 109.7h0.9v0.9h-0.9zM78.8 95.5h0.9v0.9h-0.9zM77.7 98.6h0.9v0.9h-0.9zM81.0 119.4h0.9v0.9h-0.9zM77.0 94.0h0.9v0.9h-0.9zM80.4 111.6h0.9v0.9h-0.9zM74.6 102.9h0.9v0.9h-0.9zM86.0 115.9h0.9v0.9h-0.9zM83.1 108.7h0.9v0.9h-0.9zM84.9 102.4h0.9v0.9h-0.9zM77.9 101.3h0.9v0.9h-0.9zM83.0 102.8h0.9v0.9h-0.9zM85.1 129.1h0.9v0.9h-0.9zM74.3 104.3h0.9v0.9h-0.9zM82.7 129.4h0.9v0.9h-0.9zM86.4 131.6h0.9v0.9h-0.9zM88.3 127.6h0.9v0.9h-0.9zM72.3 116.8h0.9v0.9h-0.9zM82.8 103.6h0.9v0.9h-0.9zM71.7 105.9h0.9v0.9h-0.9zM87.5 88.2h0.9v0.9h-0.9zM91.3 105.6h0.9v0.9h-0.9zM73.3 101.1h0.9v0.9h-0.9zM85.6 119.5h0.9v0.9h-0.9zM82.5 121.2h0.9v0.9h-0.9zM74.8 116.6h0.9v0.9h-0.9zM85.7 117.6h0.9v0.9h-0.9zM73.0 100.3h0.9v0.9h-0.9zM82.2 98.4h0.9v0.9h-0.9zM75.1 124.5h0.9v0.9h-0.9zM85.8 107.7h0.9v0.9h-0.9zM78.8 99.3h0.9v0.9h-0.9zM78.4 118.6h0.9v0.9h-0.9zM72.8 90.4h0.9v0.9h-0.9zM83.5 109.4h0.9v0.9h-0.9zM78.8 105.2h0.9v0.9h-0.9zM85.7 108.0h0.9v0.9h-0.9zM84.5 118.9h0.9v0.9h-0.9zM80.0 149.7h0.9v0.9h-0.9zM77.6 114.1h0.9v0.9h-0.9zM83.8 133.2h0.9v0.9h-0.9zM76.0 108.4h0.9v0.9h-0.9zM78.1 129.8h0.9v0.9h-0.9zM79.2 105.9h0.9v0.9h-0.9zM81.2 104.2h0.9v0.9h-0.9zM75.4 118.6h0.9v0.9h-0.9zM81.0 104.0h0.9v0.9h-0.9zM73.2 112.0h0.9v0.9h-0.9zM82.8 102.7h0.9v0.9h-0.9zM79.0 101.9h0.9v0.9h-0.9zM78.3 118.8h0.9v0.9h-0.9zM78.8 129.6h0.9v0.9h-0.9zM82.1 123.7h0.9v0.9h-0.9zM85.8 120.1h0.9v0.9h-0.9zM77.6 119.7h0.9v0.9h-0.9zM82.7 112.6h0.9v0.9h-0.9zM77.1 97.3h0.9v0.9h-0.9zM81.7 109.4h0.9v0.9h-0.9zM89.6 107.5h0.9v0.9h-0.9zM77.8 124.0h0.9v0.9h-0.9zM77.1 110.5h0.9v0.9h-0.9zM80.2 123.9h0.9v0.9h-0.9zM72.9 114.6h0.9v0.9h-0.9zM81.5 104.2h0.9v0.9h-0.9zM79.6 95.0h0.9v0.9h-0.9zM71.2 102.4h0.9v0.9h-0.9zM84.5 95.8h0.9v0.9h-0.9zM77.9 110.5h0.9v0.9h-0.9zM82.3 115.4h0.9v0.9h-0.9zM83.9 113.9h0.9v0.9h-0.9zM76.3 121.6h0.9v0.9h-0.9zM72.4 111.0h0.9v0.9h-0.9zM76.1 103.0h0.9v0.9h-0.9zM78.3 89.5h0.9v0.9h-0.9zM87.4 127.8h0.9v0.9h-0.9zM76.9 116.2h0.9v0.9h-0.9zM74.5 105.6h0.9v0.9h-0.9zM83.3 111.3h0.9v0.9h-0.9zM75.5 96.0h0.9v0.9h-0.9zM81.8 98.0h0.9v0.9h-0.9zM89.6 125.1h0.9v0.9h-0.9zM78.2 112.8h0.9v0.9h-0.9zM82.1 111.2h0.9v0.9h-0.9zM86.3 120.1h0.9v0.9h-0.9zM85.0 99.9h0.9v0.9h-0.9zM79.9 98.4h0.9v0.9h-0.9zM77.6 116.3h0.9v0.9h-0.9zM83.3 104.7h0.9v0.9h-0.9zM75.4 109.3h0.9v0.9h-0.9zM82.9 132.7h0.9v0.9h-0.9zM85.3 123.0h0.9v0.9h-0.9zM73.1 100.4h0.9v0.9h-0.9zM76.0 113.6h0.9v0.9h-0.9zM90.9 98.2h0.9v0.9h-0.9zM78.5 88.8h0.9v0.9h-0.9zM81.8 111.7h0.9v0.9h-0.9zM82.4 124.0h0.9v0.9h-0.9zM88.2 119.6h0.9v0.9h-0.9zM74.4 99.0h0.9v0.9h-0.9zM83.4 100.6h0.9v0.9h-0.9zM71.0 99.4h0.9v0.9h-0.9zM77.5 83.6h0.9v0.9h-0.9zM88.3 115.7h0.9v0.9h-0.9zM86.4 133.3h0.9v0.9h-0.9zM81.3 93.9h0.9v0.9h-0.9zM83.5 114.3h0.9v0.9h-0.9zM92.6 142.1h0.9v0.9h-0.9zM84.4 94.3h0.9v0.9h-0.9zM76.0 97.8h0.9v0.9h-0.9zM78.1 100.0h0.9v0.9h-0.9zM86.6 102.8h0.9v0.9h-0.9zM77.4 119.1h0.9v0.9h-0.9zM73.3 106.0h0.9v0.9h-0.9zM80.5 119.5h0.9v0.9h-0.9zM88.6 93.7h0.9v0.9h-0.9zM79.9 114.1h0.9v0.9h-0.9zM88.7 120.5h0.9v0.9h-0.9zM70.5 100.4h0.9v0.9h-0.9zM77.0 96.7h0.9v0.9h-0.9zM71.3 92.7h0.9v0.9h-0.9zM76.4 116.8h0.9v0.9h-0.9zM80.3 117.6h0.9v0.9h-0.9zM89.4 107.0h0.9v0.9h-0.9zM80.1 112.9h0.9v0.9h-0.9zM77.1 101.4h0.9v0.9h-0.9zM77.2 114.5h0.9v0.9h-0.9zM83.5 131.7h0.9v0.9h-0.9zM80.0 109.1h0.9v0.9h-0.9zM74.2 117.8h0.9v0.9h-0.9zM80.4 114.6h0.9v0.9h-0.9zM75.4 99.3h0.9v0.9h-0.9zM81.3 108.1h0.9v0.9h-0.9zM74.8 102.9h0.9v0.9h-0.9zM83.7 124.0h0.9v0.9h-0.9zM80.5 121.3h0.9v0.9h-0.9zM83.9 135.1h0.9v0.9h-0.9zM84.5 113.0h0.9v0.9h-0.9zM90.6 124.8h0.9v0.9h-0.9zM83.5 106.8h0.9v0.9h-0.9zM76.1 121.0h0.9v0.9h-0.9zM78.7 118.6h0.9v0.9h-0.9zM85.5 137.1h0.9v0.9h-0.9zM87.7 135.1h0.9v0.9h-0.9zM79.2 88.0h0.9v0.9h-0.9zM74.9 109.7h0.9v0.9h-0.9zM76.7 123.6h0.9v0.9h-0.9zM90.7 119.6h0.9v0.9h-0.9zM84.9 103.2h0.9v0.9h-0.9zM84.1 140.6h0.9v0.9h-0.9zM83.2 127.2h0.9v0.9h-0.9zM79.4 112.2h0.9v0.9h-0.9zM72.9 77.7h0.9v0.9h-0.9zM89.8 120.5h0.9v0.9h-0.9zM79.4 122.6h0.9v0.9h-0.9zM85.9 112.5h0.9v0.9h-0.9zM75.7 108.7h0.9v0.9h-0.9zM76.6 105.9h0.9v0.9h-0.9zM79.8 125.5h0.9v0.9h-0.9zM71.6 102.3h0.9v0.9h-0.9zM86.0 116.8h0.9v0.9h-0.9zM77.5 105.3h0.9v0.9h-0.9zM73.7 103.5h0.9v0.9h-0.9zM81.5 95.6h0.9v0.9h-0.9zM86.5 122.0h0.9v0.9h-0.9zM79.6 126.5h0.9v0.9h-0.9zM82.0 117.1h0.9v0.9h-0.9zM76.3 107.8h0.9v0.9h-0.9zM76.5 109.2h0.9v0.9h-0.9zM90.1 112.8h0.9v0.9h-0.9zM76.8 93.2h0.9v0.9h-0.9zM78.5 112.3h0.9v0.9h-0.9zM77.0 102.3h0.9v0.9h-0.9zM79.5 117.8h0.9v0.9h-0.9zM76.1 111.0h0.9v0.9h-0.9zM72.9 101.7h0.9v0.9h-0.9zM79.6 100.1h0.9v0.9h-0.9zM88.2 117.3h0.9v0.9h-0.9zM76.3 115.4h0.9v0.9h-0.9zM89.2 103.9h0.9v0.9h-0.9zM78.8 109.2h0.9v0.9h-0.9zM84.7 128.5h0.9v0.9h-0.9zM77.8 110.0h0.9v0.9h-0.9zM84.0 103.1h0.9v0.9h-0.9zM74.2 121.3h0.9v0.9h-0.9zM75.9 107.6h0.9v0.9h-0.9zM80.9 102.2h0.9v0.9h-0.9zM87.7 99.1h0.9v0.9h-0.9zM77.4 102.3h0.9v0.9h-0.9zM78.7 109.1h0.9v0.9h-0.9zM82.5 108.4h0.9v0.9h-0.9zM85.8 127.2h0.9v0.9h-0.9zM77.9 126.0h0.9v0.9h-0.9zM76.7 122.8h0.9v0.9h-0.9zM85.0 118.9h0.9v0.9h-0.9zM73.7 110.8h0.9v0.9h-0.9zM77.0 105.7h0.9v0.9h-0.9zM75.3 113.1h0.9v0.9h-0.9zM79.6 103.3h0.9v0.9h-0.9zM80.3 101.2h0.9v0.9h-0.9zM94.8 122.7h0.9v0.9h-0.9zM83.2 114.2h0.9v0.9h-0.9zM86.6 121.4h0.9v0.9h-0.9zM76.7 113.0h0.9v0.9h-0.9zM80.3 114.4h0.9v0.9h-0.9zM76.3 125.3h0.9v0.9h-0.9zM75.6 117.6h0.9v0.9h-0.9zM77.9 113.5h0.9v0.9h-0.9zM74.5 111.5h0.9v0.9h-0.9zM74.0 111.9h0.9v0.9h-0.9zM79.2 100.2h0.9v0.9h-0.9zM86.0 117.5h0.9v0.9h-0.9zM76.5 108.0h0.9v0.9h-0.9zM75.7 106.2h0.9v0.9h-0.9zM85.0 105.3h0.9v0.9h-0.9zM83.1 110.3h0.9v0.9h-0.9zM79.6 125.5h0.9v0.9h-0.9zM82.7 124.1h0.9v0.9h-0.9zM80.1 133.3h0.9v0.9h-0.9zM80.3 135.0h0.9v0.9h-0.9zM80.9 102.9h0.9v0.9h-0.9zM83.8 128.2h0.9v0.9h-0.9zM82.0 110.6h0.9v0.9h-0.9zM83.1 101.8h0.9v0.9h-0.9zM76.2 116.2h0.9v0.9h-0.9zM84.1 111.5h0.9v0.9h-0.9zM85.2 134.6h0.9v0.9h-0.9zM87.3 126.3h0.9v0.9h-0.9zM87.1 112.8h0.9v0.9h-0.9zM88.9 115.7h0.9v0.9h-0.9zM76.0 114.0h0.9v0.9h-0.9zM81.9 119.4h0.9v0.9h-0.9zM86.6 109.8h0.9v0.9h-0.9zM83.7 114.3h0.9v0.9h-0.9zM85.1 128.2h0.9v0.9h-0.9zM80.1 113.2h0.9v0.9h-0.9zM87.3 110.3h0.9v0.9h-0.9zM79.9 111.5h0.9v0.9h-0.9zM87.6 122.7h0.9v0.9h-0.9zM81.2 112.3h0.9v0.9h-0.9zM78.6 113.7h0.9v0.9h-0.9zM64.8 97.3h0.9v0.9h-0.9zM78.1 121.2h0.9v0.9h-0.9zM80.8 109.3h0.9v0.9h-0.9zM84.1 123.3h0.9v0.9h-0.9zM85.5 131.6h0.9v0.9h-0.9zM77.8 121.1h0.9v0.9h-0.9zM79.2 122.6h0.9v0.9h-0.9zM88.7 107.8h0.9v0.9h-0.9zM78.9 113.7h0.9v0.9h-0.9zM75.7 110.4h0.9v0.9h-0.9zM80.4 92.1h0.9v0.9h-0.9zM80.9 112.9h0.9v0.9h-0.9zM82.6 100.5h0.9v0.9h-0.9zM82.6 119.5h0.9v0.9h-0.9zM73.2 99.9h0.9v0.9h-0.9zM79.3 119.6h0.9v0.9h-0.9zM85.9 128.8h0.9v0.9h-0.9zM86.0 120.0h0.9v0.9h-0.9zM77.4 93.7h0.9v0.9h-0.9zM79.5 111.4h0.9v0.9h-0.9zM78.2 123.6h0.9v0.9h-0.9zM77.7 109.7h0.9v0.9h-0.9zM63.7 97.7h0.9v0.9h-0.9zM85.8 109.4h0.9v0.9h-0.9zM77.0 117.2h0.9v0.9h-0.9zM76.9 120.7h0.9v0.9h-0.9zM73.9 94.2h0.9v0.9h-0.9zM92.6 111.3h0.9v0.9h-0.9zM76.5 92.9h0.9v0.9h-0.9zM82.9 116.8h0.9v0.9h-0.9zM75.7 113.0h0.9v0.9h-0.9zM87.5 112.3h0.9v0.9h-0.9zM79.8 104.8h0.9v0.9h-0.9zM82.7 110.8h0.9v0.9h-0.9zM88.3 105.6h0.9v0.9h-0.9zM79.5 127.2h0.9v0.9h-0.9zM74.0 112.0h0.9v0.9h-0.9zM78.3 94.3h0.9v0.9h-0.9zM78.9 102.2h0.9v0.9h-0.9zM81.1 109.3h0.9v0.9h-0.9zM78.1 127.9h0.9v0.9h-0.9zM77.5 114.0h0.9v0.9h-0.9zM77.8 91.3h0.9v0.9h-0.9zM76.3 108.4h0.9v0.9h-0.9zM81.0 95.5h0.9v0.9h-0.9zM82.0 100.2h0.9v0.9h-0.9zM73.4 114.3h0.9v0.9h-0.9zM76.0 104.2h0.9v0.9h-0.9zM85.0 124.1h0.9v0.9h-0.9zM83.7 117.6h0.9v0.9h-0.9zM80.0 110.6h0.9v0.9h-0.9zM81.8 96.5h0.9v0.9h-0.9zM85.3 100.6h0.9v0.9h-0.9zM76.1 110.2h0.9v0.9h-0.9zM89.9 130.5h0.9v0.9h-0.9zM80.8 105.5h0.9v0.9h-0.9zM87.9 107.7h0.9v0.9h-0.9zM79.2 93.0h0.9v0.9h-0.9zM78.7 123.9h0.9v0.9h-0.9zM80.7 120.0h0.9v0.9h-0.9zM74.1 108.8h0.9v0.9h-0.9zM80.8 103.4h0.9v0.9h-0.9zM81.7 114.9h0.9v0.9h-0.9zM84.7 100.4h0.9v0.9h-0.9zM79.7 110.3h0.9v0.9h-0.9zM78.9 97.1h0.9v0.9h-0.9zM80.7 116.0h0.9v0.9h-0.9zM78.5 109.0h0.9v0.9h-0.9zM78.6 113.2h0.9v0.9h-0.9zM78.5 110.8h0.9v0.9h-0.9zM88.9 105.9h0.9v0.9h-0.9zM80.9 113.4h0.9v0.9h-0.9zM89.7 105.2h0.9v0.9h-0.9zM79.4 99.5h0.9v0.9h-0.9zM80.8 94.3h0.9v0.9h-0.9zM80.9 104.1h0.9v0.9h-0.9zM86.8 118.8h0.9v0.9h-0.9zM75.6 111.7h0.9v0.9h-0.9zM83.8 113.7h0.9v0.9h-0.9zM80.5 112.6h0.9v0.9h-0.9zM68.6 91.6h0.9v0.9h-0.9zM74.3 105.4h0.9v0.9h-0.9zM78.9 116.0h0.9v0.9h-0.9zM81.2 117.2h0.9v0.9h-0.9zM74.4 97.7h0.9v0.9h-0.9zM86.3 112.1h0.9v0.9h-0.9zM83.6 102.0h0.9v0.9h-0.9zM105.9 100.1h0.9v0.9h-0.9zM88.3 112.2h0.9v0.9h-0.9zM111.8 98.2h0.9v0.9h-0.9zM115.4 100.2h0.9v0.9h-0.9zM105.0 103.8h0.9v0.9h-0.9zM105.9 103.1h0.9v0.9h-0.9zM103.0 96.3h0.9v0.9h-0.9zM90.0 106.1h0.9v0.9h-0.9zM95.8 106.6h0.9v0.9h-0.9zM111.2 107.8h0.9v0.9h-0.9zM106.1 105.3h0.9v0.9h-0.9zM85.7 117.9h0.9v0.9h-0.9zM112.8 112.1h0.9v0.9h-0.9zM87.4 111.3h0.9v0.9h-0.9zM90.0 104.4h0.9v0.9h-0.9zM117.0 98.5h0.9v0.9h-0.9zM102.9 106.0h0.9v0.9h-0.9zM120.9 101.3h0.9v0.9h-0.9zM103.4 110.8h0.9v0.9h-0.9zM83.0 109.6h0.9v0.9h-0.9zM112.3 105.0h0.9v0.9h-0.9zM110.0 108.8h0.9v0.9h-0.9zM114.2 106.4h0.9v0.9h-0.9zM88.8 98.0h0.9v0.9h-0.9zM105.8 102.6h0.9v0.9h-0.9zM90.5 102.3h0.9v0.9h-0.9zM120.7 94.6h0.9v0.9h-0.9zM90.5 105.6h0.9v0.9h-0.9zM108.6 105.5h0.9v0.9h-0.9zM98.6 95.9h0.9v0.9h-0.9zM88.4 103.0h0.9v0.9h-0.9zM107.6 109.3h0.9v0.9h-0.9zM116.4 107.1h0.9v0.9h-0.9zM88.7 102.6h0.9v0.9h-0.9zM111.0 100.8h0.9v0.9h-0.9zM98.7 105.8h0.9v0.9h-0.9zM110.2 107.1h0.9v0.9h-0.9zM114.6 99.9h0.9v0.9h-0.9zM97.3 112.1h0.9v0.9h-0.9zM107.7 99.0h0.9v0.9h-0.9zM88.2 104.9h0.9v0.9h-0.9zM82.5 109.9h0.9v0.9h-0.9zM108.9 101.0h0.9v0.9h-0.9zM116.8 94.4h0.9v0.9h-0.9zM91.3 110.9h0.9v0.9h-0.9zM108.6 97.3h0.9v0.9h-0.9zM114.6 97.9h0.9v0.9h-0.9zM85.8 98.7h0.9v0.9h-0.9zM109.4 108.1h0.9v0.9h-0.9zM86.4 104.5h0.9v0.9h-0.9zM101.8 104.5h0.9v0.9h-0.9zM83.4 112.5h0.9v0.9h-0.9zM116.0 97.8h0.9v0.9h-0.9zM85.5 102.9h0.9v0.9h-0.9zM97.8 105.7h0.9v0.9h-0.9zM105.3 110.2h0.9v0.9h-0.9zM95.8 91.2h0.9v0.9h-0.9zM113.9 108.0h0.9v0.9h-0.9zM91.9 94.1h0.9v0.9h-0.9zM113.0 108.9h0.9v0.9h-0.9zM118.5 104.3h0.9v0.9h-0.9zM92.2 100.4h0.9v0.9h-0.9zM95.9 110.3h0.9v0.9h-0.9zM108.4 104.5h0.9v0.9h-0.9zM84.5 107.2h0.9v0.9h-0.9zM89.8 101.1h0.9v0.9h-0.9zM96.0 103.2h0.9v0.9h-0.9zM117.7 99.4h0.9v0.9h-0.9zM118.8 89.2h0.9v0.9h-0.9zM94.1 107.9h0.9v0.9h-0.9zM113.9 108.3h0.9v0.9h-0.9zM89.0 103.5h0.9v0.9h-0.9zM115.0 103.5h0.9v0.9h-0.9zM94.0 96.3h0.9v0.9h-0.9zM84.0 108.6h0.9v0.9h-0.9zM99.4 98.0h0.9v0.9h-0.9zM84.8 115.5h0.9v0.9h-0.9zM108.6 98.8h0.9v0.9h-0.9zM115.7 100.5h0.9v0.9h-0.9zM119.5 93.1h0.9v0.9h-0.9zM104.8 115.5h0.9v0.9h-0.9zM109.9 99.3h0.9v0.9h-0.9zM83.6 107.8h0.9v0.9h-0.9zM108.4 96.8h0.9v0.9h-0.9zM100.5 105.4h0.9v0.9h-0.9zM115.8 106.0h0.9v0.9h-0.9zM102.0 113.3h0.9v0.9h-0.9zM96.7 96.7h0.9v0.9h-0.9zM103.7 109.3h0.9v0.9h-0.9zM98.1 104.2h0.9v0.9h-0.9zM105.5 109.2h0.9v0.9h-0.9zM97.7 98.7h0.9v0.9h-0.9zM101.4 107.5h0.9v0.9h-0.9zM110.3 101.3h0.9v0.9h-0.9zM92.3 109.8h0.9v0.9h-0.9zM84.9 106.7h0.9v0.9h-0.9zM86.2 100.3h0.9v0.9h-0.9zM117.9 101.5h0.9v0.9h-0.9zM107.3 105.8h0.9v0.9h-0.9zM118.5 98.9h0.9v0.9h-0.9zM111.5 103.0h0.9v0.9h-0.9zM96.0 105.1h0.9v0.9h-0.9zM82.1 96.1h0.9v0.9h-0.9zM96.2 107.9h0.9v0.9h-0.9zM92.4 95.5h0.9v0.9h-0.9zM116.3 98.5h0.9v0.9h-0.9zM102.3 109.7h0.9v0.9h-0.9zM91.7 100.9h0.9v0.9h-0.9zM93.8 104.2h0.9v0.9h-0.9zM121.9 94.3h0.9v0.9h-0.9zM94.5 110.2h0.9v0.9h-0.9zM101.9 101.5h0.9v0.9h-0.9zM108.4 101.8h0.9v0.9h-0.9zM101.4 103.2h0.9v0.9h-0.9zM92.3 102.4h0.9v0.9h-0.9zM88.7 101.3h0.9v0.9h-0.9zM114.0 112.5h0.9v0.9h-0.9zM91.7 103.2h0.9v0.9h-0.9zM117.0 105.5h0.9v0.9h-0.9zM83.1 99.3h0.9v0.9h-0.9zM95.1 92.1h0.9v0.9h-0.9zM113.5 99.4h0.9v0.9h-0.9zM95.1 108.5h0.9v0.9h-0.9zM89.2 104.3h0.9v0.9h-0.9zM116.2 102.1h0.9v0.9h-0.9zM114.1 105.9h0.9v0.9h-0.9zM103.3 100.4h0.9v0.9h-0.9zM83.7 117.5h0.9v0.9h-0.9zM92.3 119.3h0.9v0.9h-0.9zM111.5 104.9h0.9v0.9h-0.9zM114.9 98.3h0.9v0.9h-0.9zM110.7 104.6h0.9v0.9h-0.9zM103.7 100.4h0.9v0.9h-0.9zM120.3 105.1h0.9v0.9h-0.9zM83.1 103.2h0.9v0.9h-0.9zM83.0 106.5h0.9v0.9h-0.9zM111.2 107.9h0.9v0.9h-0.9zM118.3 99.2h0.9v0.9h-0.9zM100.7 110.9h0.9v0.9h-0.9zM118.0 102.0h0.9v0.9h-0.9zM107.9 110.5h0.9v0.9h-0.9zM114.2 103.8h0.9v0.9h-0.9zM86.8 95.8h0.9v0.9h-0.9zM104.1 104.0h0.9v0.9h-0.9zM85.7 111.6h0.9v0.9h-0.9zM115.3 99.4h0.9v0.9h-0.9zM109.7 109.6h0.9v0.9h-0.9zM112.4 99.6h0.9v0.9h-0.9zM93.7 103.3h0.9v0.9h-0.9zM117.5 91.2h0.9v0.9h-0.9zM99.2 94.7h0.9v0.9h-0.9zM107.0 111.9h0.9v0.9h-0.9zM118.4 106.0h0.9v0.9h-0.9zM110.7 105.4h0.9v0.9h-0.9zM103.2 104.7h0.9v0.9h-0.9zM121.2 102.7h0.9v0.9h-0.9zM112.9 106.7h0.9v0.9h-0.9zM102.6 107.8h0.9v0.9h-0.9zM110.2 101.8h0.9v0.9h-0.9zM116.7 92.2h0.9v0.9h-0.9zM93.0 108.5h0.9v0.9h-0.9zM86.4 96.8h0.9v0.9h-0.9zM114.3 104.8h0.9v0.9h-0.9zM117.7 105.7h0.9v0.9h-0.9zM118.2 92.6h0.9v0.9h-0.9zM99.5 105.7h0.9v0.9h-0.9zM86.6 96.8h0.9v0.9h-0.9zM97.1 110.1h0.9v0.9h-0.9zM121.2 109.6h0.9v0.9h-0.9zM90.4 104.4h0.9v0.9h-0.9zM102.3 103.0h0.9v0.9h-0.9zM95.3 100.7h0.9v0.9h-0.9zM88.6 100.7h0.9v0.9h-0.9zM93.5 107.8h0.9v0.9h-0.9zM118.1 98.0h0.9v0.9h-0.9zM92.3 106.5h0.9v0.9h-0.9zM97.3 103.2h0.9v0.9h-0.9zM118.8 103.0h0.9v0.9h-0.9zM82.3 116.3h0.9v0.9h-0.9zM106.2 102.6h0.9v0.9h-0.9zM117.0 99.9h0.9v0.9h-0.9zM118.2 98.2h0.9v0.9h-0.9zM110.2 97.2h0.9v0.9h-0.9zM99.0 103.1h0.9v0.9h-0.9zM97.5 105.0h0.9v0.9h-0.9zM106.7 101.3h0.9v0.9h-0.9zM96.5 103.4h0.9v0.9h-0.9zM105.5 112.4h0.9v0.9h-0.9zM112.6 101.9h0.9v0.9h-0.9zM113.3 112.6h0.9v0.9h-0.9zM121.3 100.5h0.9v0.9h-0.9zM87.1 94.2h0.9v0.9h-0.9zM104.9 97.8h0.9v0.9h-0.9zM96.7 116.2h0.9v0.9h-0.9zM111.2 106.0h0.9v0.9h-0.9zM98.5 108.1h0.9v0.9h-0.9zM101.1 99.6h0.9v0.9h-0.9zM109.8 104.8h0.9v0.9h-0.9zM101.5 103.6h0.9v0.9h-0.9zM95.4 106.2h0.9v0.9h-0.9zM83.4 94.3h0.9v0.9h-0.9zM109.3 105.7h0.9v0.9h-0.9zM101.0 100.4h0.9v0.9h-0.9zM106.3 110.6h0.9v0.9h-0.9zM100.3 102.7h0.9v0.9h-0.9zM109.9 105.8h0.9v0.9h-0.9zM92.7 105.5h0.9v0.9h-0.9zM95.7 103.6h0.9v0.9h-0.9zM110.6 111.8h0.9v0.9h-0.9zM117.1 102.5h0.9v0.9h-0.9zM118.1 104.3h0.9v0.9h-0.9zM120.2 100.1h0.9v0.9h-0.9zM103.8 105.9h0.9v0.9h-0.9zM104.4 96.5h0.9v0.9h-0.9zM106.8 115.0h0.9v0.9h-0.9zM110.1 101.6h0.9v0.9h-0.9zM86.9 99.8h0.9v0.9h-0.9zM84.9 111.2h0.9v0.9h-0.9zM119.9 103.7h0.9v0.9h-0.9zM82.2 99.2h0.9v0.9h-0.9zM101.9 101.2h0.9v0.9h-0.9zM104.3 108.2h0.9v0.9h-0.9zM82.2 110.2h0.9v0.9h-0.9zM109.5 100.9h0.9v0.9h-0.9zM99.4 110.3h0.9v0.9h-0.9zM110.7 99.2h0.9v0.9h-0.9zM88.4 103.4h0.9v0.9h-0.9zM105.5 96.1h0.9v0.9h-0.9zM114.0 99.0h0.9v0.9h-0.9zM115.4 98.0h0.9v0.9h-0.9zM94.3 105.1h0.9v0.9h-0.9zM119.6 111.8h0.9v0.9h-0.9zM102.0 108.0h0.9v0.9h-0.9zM99.7 98.2h0.9v0.9h-0.9zM106.5 102.6h0.9v0.9h-0.9zM96.6 104.2h0.9v0.9h-0.9zM95.3 107.9h0.9v0.9h-0.9zM113.3 99.6h0.9v0.9h-0.9zM109.4 103.0h0.9v0.9h-0.9zM113.8 106.3h0.9v0.9h-0.9zM109.3 107.3h0.9v0.9h-0.9zM82.6 107.7h0.9v0.9h-0.9zM96.7 100.5h0.9v0.9h-0.9zM118.9 104.7h0.9v0.9h-0.9zM120.1 105.0h0.9v0.9h-0.9zM89.6 96.5h0.9v0.9h-0.9zM114.5 100.6h0.9v0.9h-0.9zM92.2 110.2h0.9v0.9h-0.9zM86.4 109.0h0.9v0.9h-0.9zM92.5 101.5h0.9v0.9h-0.9zM113.1 101.6h0.9v0.9h-0.9zM118.3 105.3h0.9v0.9h-0.9zM114.3 110.4h0.9v0.9h-0.9zM95.0 103.8h0.9v0.9h-0.9zM82.7 113.5h0.9v0.9h-0.9zM90.0 116.7h0.9v0.9h-0.9zM93.7 110.2h0.9v0.9h-0.9zM110.5 100.8h0.9v0.9h-0.9zM107.0 105.4h0.9v0.9h-0.9zM101.9 108.7h0.9v0.9h-0.9zM112.5 102.8h0.9v0.9h-0.9zM100.6 101.0h0.9v0.9h-0.9zM114.6 100.2h0.9v0.9h-0.9zM110.7 100.5h0.9v0.9h-0.9zM115.6 106.4h0.9v0.9h-0.9zM91.5 107.8h0.9v0.9h-0.9zM93.3 104.5h0.9v0.9h-0.9zM107.2 94.1h0.9v0.9h-0.9zM86.6 100.7h0.9v0.9h-0.9zM110.0 105.0h0.9v0.9h-0.9zM89.6 101.3h0.9v0.9h-0.9zM89.0 108.6h0.9v0.9h-0.9zM101.8 111.8h0.9v0.9h-0.9zM112.1 109.5h0.9v0.9h-0.9zM85.7 106.0h0.9v0.9h-0.9zM102.1 112.3h0.9v0.9h-0.9zM116.1 106.9h0.9v0.9h-0.9zM114.6 94.4h0.9v0.9h-0.9zM95.6 105.9h0.9v0.9h-0.9zM94.6 105.0h0.9v0.9h-0.9zM113.6 97.9h0.9v0.9h-0.9zM89.7 101.0h0.9v0.9h-0.9zM89.6 106.8h0.9v0.9h-0.9zM105.0 105.6h0.9v0.9h-0.9zM115.2 103.2h0.9v0.9h-0.9zM85.7 108.6h0.9v0.9h-0.9zM89.9 93.5h0.9v0.9h-0.9zM119.0 108.1h0.9v0.9h-0.9zM84.5 100.0h0.9v0.9h-0.9zM94.6 113.3h0.9v0.9h-0.9zM108.1 102.1h0.9v0.9h-0.9zM112.3 107.1h0.9v0.9h-0.9zM101.6 112.6h0.9v0.9h-0.9zM98.1 120.0h0.9v0.9h-0.9zM90.7 103.5h0.9v0.9h-0.9zM101.7 96.6h0.9v0.9h-0.9zM103.7 103.3h0.9v0.9h-0.9zM101.3 106.1h0.9v0.9h-0.9zM90.2 97.8h0.9v0.9h-0.9zM90.7 100.2h0.9v0.9h-0.9zM113.2 101.2h0.9v0.9h-0.9zM106.2 102.1h0.9v0.9h-0.9zM96.2 99.5h0.9v0.9h-0.9zM111.2 98.5h0.9v0.9h-0.9zM109.4 107.5h0.9v0.9h-0.9zM106.9 106.1h0.9v0.9h-0.9zM108.9 108.1h0.9v0.9h-0.9zM106.1 104.1h0.9v0.9h-0.9zM101.6 95.2h0.9v0.9h-0.9zM103.1 104.3h0.9v0.9h-0.9zM113.6 99.3h0.9v0.9h-0.9zM97.3 99.8h0.9v0.9h-0.9zM97.8 102.5h0.9v0.9h-0.9zM99.6 106.1h0.9v0.9h-0.9zM99.3 108.3h0.9v0.9h-0.9zM109.1 98.5h0.9v0.9h-0.9zM110.7 106.7h0.9v0.9h-0.9zM111.9 104.1h0.9v0.9h-0.9zM109.4 104.9h0.9v0.9h-0.9zM106.5 100.0h0.9v0.9h-0.9zM104.7 103.2h0.9v0.9h-0.9zM110.2 96.0h0.9v0.9h-0.9zM106.3 106.0h0.9v0.9h-0.9zM108.5 101.5h0.9v0.9h-0.9zM104.8 97.3h0.9v0.9h-0.9zM104.7 103.1h0.9v0.9h-0.9zM97.1 97.2h0.9v0.9h-0.9zM106.9 102.7h0.9v0.9h-0.9zM105.6 100.0h0.9v0.9h-0.9zM107.3 102.2h0.9v0.9h-0.9zM114.3 103.8h0.9v0.9h-0.9zM111.1 108.3h0.9v0.9h-0.9zM105.6 104.1h0.9v0.9h-0.9zM105.5 95.4h0.9v0.9h-0.9zM111.1 104.0h0.9v0.9h-0.9zM112.2 105.7h0.9v0.9h-0.9zM112.9 108.4h0.9v0.9h-0.9zM106.2 98.0h0.9v0.9h-0.9zM107.7 99.7h0.9v0.9h-0.9zM97.8 108.5h0.9v0.9h-0.9zM114.6 102.4h0.9v0.9h-0.9zM105.2 104.3h0.9v0.9h-0.9zM109.3 96.0h0.9v0.9h-0.9zM108.0 95.3h0.9v0.9h-0.9zM111.6 100.3h0.9v0.9h-0.9zM99.8 101.5h0.9v0.9h-0.9zM107.2 102.2h0.9v0.9h-0.9zM118.9 95.9h0.9v0.9h-0.9zM106.5 103.6h0.9v0.9h-0.9zM107.8 99.5h0.9v0.9h-0.9zM109.0 103.1h0.9v0.9h-0.9zM106.3 101.7h0.9v0.9h-0.9zM110.7 105.0h0.9v0.9h-0.9zM106.5 102.4h0.9v0.9h-0.9zM111.2 107.2h0.9v0.9h-0.9zM100.5 101.6h0.9v0.9h-0.9zM113.7 100.4h0.9v0.9h-0.9zM109.5 104.3h0.9v0.9h-0.9zM101.0 97.1h0.9v0.9h-0.9zM106.6 101.4h0.9v0.9h-0.9zM102.7 104.7h0.9v0.9h-0.9zM111.0 102.1h0.9v0.9h-0.9zM108.1 104.7h0.9v0.9h-0.9zM108.5 100.4h0.9v0.9h-0.9zM106.8 101.5h0.9v0.9h-0.9zM109.7 100.6h0.9v0.9h-0.9zM105.0 107.5h0.9v0.9h-0.9zM106.7 96.3h0.9v0.9h-0.9zM107.5 99.9h0.9v0.9h-0.9zM103.6 98.1h0.9v0.9h-0.9zM109.1 100.7h0.9v0.9h-0.9zM106.9 97.0h0.9v0.9h-0.9zM105.3 99.4h0.9v0.9h-0.9zM104.4 98.5h0.9v0.9h-0.9zM109.7 92.0h0.9v0.9h-0.9zM101.5 103.4h0.9v0.9h-0.9zM110.5 106.4h0.9v0.9h-0.9zM104.4 100.1h0.9v0.9h-0.9zM105.4 101.9h0.9v0.9h-0.9zM106.8 101.6h0.9v0.9h-0.9zM111.1 100.8h0.9v0.9h-0.9zM104.5 101.4h0.9v0.9h-0.9zM109.6 101.3h0.9v0.9h-0.9zM111.5 100.7h0.9v0.9h-0.9zM106.4 98.1h0.9v0.9h-0.9zM107.6 98.2h0.9v0.9h-0.9zM113.7 100.1h0.9v0.9h-0.9zM106.2 103.7h0.9v0.9h-0.9zM109.8 102.7h0.9v0.9h-0.9zM54.9 92.5h0.9v0.9h-0.9zM85.4 147.6h0.9v0.9h-0.9zM73.8 110.3h0.9v0.9h-0.9zM84.4 136.7h0.9v0.9h-0.9zM108.5 123.3h0.9v0.9h-0.9zM93.1 114.2h0.9v0.9h-0.9zM103.9 107.9h0.9v0.9h-0.9zM80.1 112.2h0.9v0.9h-0.9zM75.6 119.9h0.9v0.9h-0.9zM75.9 97.3h0.9v0.9h-0.9zM110.5 87.3h0.9v0.9h-0.9zM74.6 93.4h0.9v0.9h-0.9zM82.4 139.8h0.9v0.9h-0.9zM77.5 118.1h0.9v0.9h-0.9zM114.2 126.3h0.9v0.9h-0.9zM88.9 89.4h0.9v0.9h-0.9zM86.6 145.7h0.9v0.9h-0.9zM96.2 113.7h0.9v0.9h-0.9zM59.0 84.0h0.9v0.9h-0.9zM98.0 137.2h0.9v0.9h-0.9zM108.1 118.0h0.9v0.9h-0.9zM99.7 164.6h0.9v0.9h-0.9zM88.7 114.2h0.9v0.9h-0.9zM90.5 98.4h0.9v0.9h-0.9zM114.2 128.2h0.9v0.9h-0.9zM118.1 117.7h0.9v0.9h-0.9zM79.5 119.5h0.9v0.9h-0.9zM104.0 116.7h0.9v0.9h-0.9zM81.9 94.0h0.9v0.9h-0.9zM93.1 114.0h0.9v0.9h-0.9zM88.9 109.9h0.9v0.9h-0.9zM96.4 112.4h0.9v0.9h-0.9zM71.1 100.6h0.9v0.9h-0.9zM96.4 119.4h0.9v0.9h-0.9zM87.6 112.7h0.9v0.9h-0.9zM93.7 127.9h0.9v0.9h-0.9zM72.8 98.9h0.9v0.9h-0.9zM66.6 91.8h0.9v0.9h-0.9zM82.3 129.5h0.9v0.9h-0.9zM88.6 112.0h0.9v0.9h-0.9zM76.1 124.2h0.9v0.9h-0.9zM112.8 103.6h0.9v0.9h-0.9zM78.3 147.6h0.9v0.9h-0.9zM77.8 124.9h0.9v0.9h-0.9zM99.5 145.0h0.9v0.9h-0.9zM88.1 135.5h0.9v0.9h-0.9zM54.0 132.7h0.9v0.9h-0.9zM80.8 138.7h0.9v0.9h-0.9zM90.2 130.2h0.9v0.9h-0.9zM74.2 108.0h0.9v0.9h-0.9zM80.2 125.2h0.9v0.9h-0.9zM90.4 146.4h0.9v0.9h-0.9zM106.0 112.8h0.9v0.9h-0.9zM68.3 156.1h0.9v0.9h-0.9zM102.6 126.8h0.9v0.9h-0.9zM98.7 113.7h0.9v0.9h-0.9zM99.0 134.1h0.9v0.9h-0.9zM86.0 126.1h0.9v0.9h-0.9zM91.2 114.5h0.9v0.9h-0.9zM101.8 107.1h0.9v0.9h-0.9zM74.4 117.7h0.9v0.9h-0.9zM110.7 122.5h0.9v0.9h-0.9zM60.3 96.1h0.9v0.9h-0.9zM50.4 128.5h0.9v0.9h-0.9zM86.6 102.2h0.9v0.9h-0.9zM92.5 106.7h0.9v0.9h-0.9zM80.7 121.4h0.9v0.9h-0.9zM74.2 116.0h0.9v0.9h-0.9zM106.3 133.3h0.9v0.9h-0.9zM96.0 157.2h0.9v0.9h-0.9zM91.2 121.2h0.9v0.9h-0.9zM94.6 115.2h0.9v0.9h-0.9zM87.6 137.7h0.9v0.9h-0.9zM81.7 128.5h0.9v0.9h-0.9zM81.3 111.5h0.9v0.9h-0.9zM77.5 125.1h0.9v0.9h-0.9zM91.2 104.2h0.9v0.9h-0.9zM102.3 142.2h0.9v0.9h-0.9zM86.6 135.9h0.9v0.9h-0.9zM75.0 121.4h0.9v0.9h-0.9zM80.2 146.3h0.9v0.9h-0.9zM77.0 123.2h0.9v0.9h-0.9zM72.5 104.8h0.9v0.9h-0.9zM98.0 106.4h0.9v0.9h-0.9zM78.7 90.2h0.9v0.9h-0.9zM75.3 124.4h0.9v0.9h-0.9zM77.9 128.3h0.9v0.9h-0.9zM109.9 109.1h0.9v0.9h-0.9zM89.2 133.5h0.9v0.9h-0.9zM77.4 106.0h0.9v0.9h-0.9zM115.4 114.8h0.9v0.9h-0.9zM85.4 95.2h0.9v0.9h-0.9zM86.8 138.8h0.9v0.9h-0.9zM80.5 145.5h0.9v0.9h-0.9zM94.1 160.3h0.9v0.9h-0.9zM106.9 110.5h0.9v0.9h-0.9zM82.6 114.4h0.9v0.9h-0.9zM99.8 109.8h0.9v0.9h-0.9zM101.1 123.6h0.9v0.9h-0.9zM99.9 118.1h0.9v0.9h-0.9zM111.0 114.2h0.9v0.9h-0.9zM72.6 118.1h0.9v0.9h-0.9zM88.3 135.2h0.9v0.9h-0.9zM95.8 110.7h0.9v0.9h-0.9zM74.0 100.5h0.9v0.9h-0.9zM70.6 93.6h0.9v0.9h-0.9zM86.1 115.1h0.9v0.9h-0.9zM80.7 156.2h0.9v0.9h-0.9zM84.4 112.7h0.9v0.9h-0.9zM80.6 140.3h0.9v0.9h-0.9zM91.2 84.6h0.9v0.9h-0.9zM90.5 130.5h0.9v0.9h-0.9zM113.8 144.8h0.9v0.9h-0.9zM92.9 127.6h0.9v0.9h-0.9zM61.9 163.0h0.9v0.9h-0.9zM81.6 133.5h0.9v0.9h-0.9zM95.9 145.4h0.9v0.9h-0.9zM92.5 121.6h0.9v0.9h-0.9zM105.4 109.3h0.9v0.9h-0.9zM88.6 115.6h0.9v0.9h-0.9zM86.7 113.5h0.9v0.9h-0.9zM101.7 106.1h0.9v0.9h-0.9zM131.4 100.2h0.9v0.9h-0.9zM78.7 126.6h0.9v0.9h-0.9zM88.3 149.1h0.9v0.9h-0.9zM87.2 125.9h0.9v0.9h-0.9zM89.8 100.3h0.9v0.9h-0.9zM100.0 141.6h0.9v0.9h-0.9zM113.2 114.6h0.9v0.9h-0.9zM80.2 107.9h0.9v0.9h-0.9zM76.0 120.7h0.9v0.9h-0.9zM54.2 108.2h0.9v0.9h-0.9zM90.7 102.3h0.9v0.9h-0.9zM73.2 168.1h0.9v0.9h-0.9zM78.4 96.3h0.9v0.9h-0.9zM81.6 114.8h0.9v0.9h-0.9zM84.2 94.3h0.9v0.9h-0.9zM85.4 107.9h0.9v0.9h-0.9zM73.7 120.3h0.9v0.9h-0.9zM86.7 107.3h0.9v0.9h-0.9zM90.0 131.2h0.9v0.9h-0.9zM72.2 123.5h0.9v0.9h-0.9zM82.3 123.5h0.9v0.9h-0.9zM108.1 153.6h0.9v0.9h-0.9zM92.7 120.8h0.9v0.9h-0.9zM103.8 130.7h0.9v0.9h-0.9zM80.6 86.5h0.9v0.9h-0.9zM81.9 138.5h0.9v0.9h-0.9zM109.4 114.4h0.9v0.9h-0.9zM80.1 116.4h0.9v0.9h-0.9zM82.1 123.8h0.9v0.9h-0.9zM96.2 130.8h0.9v0.9h-0.9zM95.8 136.5h0.9v0.9h-0.9zM80.5 111.1h0.9v0.9h-0.9zM80.6 118.2h0.9v0.9h-0.9zM85.2 128.9h0.9v0.9h-0.9zM73.2 98.9h0.9v0.9h-0.9zM99.8 103.9h0.9v0.9h-0.9zM104.3 89.5h0.9v0.9h-0.9zM98.5 95.0h0.9v0.9h-0.9zM88.9 144.5h0.9v0.9h-0.9zM109.6 110.2h0.9v0.9h-0.9zM103.6 135.0h0.9v0.9h-0.9zM95.4 107.0h0.9v0.9h-0.9zM74.5 124.1h0.9v0.9h-0.9zM108.7 112.3h0.9v0.9h-0.9zM88.8 139.4h0.9v0.9h-0.9zM87.5 143.4h0.9v0.9h-0.9zM60.7 94.8h0.9v0.9h-0.9zM52.2 133.3h0.9v0.9h-0.9zM104.3 147.5h0.9v0.9h-0.9zM95.4 139.7h0.9v0.9h-0.9zM77.5 114.6h0.9v0.9h-0.9zM117.0 129.2h0.9v0.9h-0.9zM83.6 113.1h0.9v0.9h-0.9zM114.8 127.9h0.9v0.9h-0.9zM112.6 149.8h0.9v0.9h-0.9zM116.6 133.3h0.9v0.9h-0.9zM111.2 132.8h0.9v0.9h-0.9zM112.1 134.6h0.9v0.9h-0.9zM119.3 134.2h0.9v0.9h-0.9zM116.6 143.6h0.9v0.9h-0.9zM109.4 140.9h0.9v0.9h-0.9zM106.3 128.6h0.9v0.9h-0.9zM118.7 134.8h0.9v0.9h-0.9zM113.3 144.3h0.9v0.9h-0.9zM112.8 137.3h0.9v0.9h-0.9zM115.0 126.7h0.9v0.9h-0.9zM104.9 128.8h0.9v0.9h-0.9zM116.1 124.9h0.9v0.9h-0.9zM109.4 127.5h0.9v0.9h-0.9zM115.6 144.9h0.9v0.9h-0.9zM113.8 128.0h0.9v0.9h-0.9zM112.9 142.9h0.9v0.9h-0.9zM109.3 144.8h0.9v0.9h-0.9zM114.6 149.9h0.9v0.9h-0.9zM106.1 143.5h0.9v0.9h-0.9zM52.9 156.9h0.9v0.9h-0.9zM46.5 163.1h0.9v0.9h-0.9zM39.1 172.9h0.9v0.9h-0.9zM39.6 171.3h0.9v0.9h-0.9zM47.1 163.7h0.9v0.9h-0.9zM48.4 161.5h0.9v0.9h-0.9zM42.8 170.4h0.9v0.9h-0.9zM44.3 159.9h0.9v0.9h-0.9zM52.3 159.7h0.9v0.9h-0.9zM43.7 163.7h0.9v0.9h-0.9zM45.1 168.0h0.9v0.9h-0.9zM42.7 165.1h0.9v0.9h-0.9zM46.6 159.5h0.9v0.9h-0.9zM40.8 172.7h0.9v0.9h-0.9zM53.7 157.6h0.9v0.9h-0.9zM35.5 165.3h0.9v0.9h-0.9zM51.3 157.1h0.9v0.9h-0.9zM42.9 167.6h0.9v0.9h-0.9zM56.2 158.5h0.9v0.9h-0.9zM53.2 162.2h0.9v0.9h-0.9zM54.1 163.2h0.9v0.9h-0.9zM44.0 164.3h0.9v0.9h-0.9zM38.7 170.0h0.9v0.9h-0.9zM43.2 171.1h0.9v0.9h-0.9zM41.9 169.9h0.9v0.9h-0.9zM51.5 159.8h0.9v0.9h-0.9zM53.0 163.3h0.9v0.9h-0.9zM52.1 157.8h0.9v0.9h-0.9zM49.5 166.9h0.9v0.9h-0.9zM52.0 163.4h0.9v0.9h-0.9zM43.2 167.5h0.9v0.9h-0.9zM51.8 158.9h0.9v0.9h-0.9zM51.1 161.2h0.9v0.9h-0.9zM49.5 162.7h0.9v0.9h-0.9zM55.4 162.5h0.9v0.9h-0.9zM40.7 166.4h0.9v0.9h-0.9zM50.1 163.0h0.9v0.9h-0.9zM48.6 158.9h0.9v0.9h-0.9zM37.7 168.1h0.9v0.9h-0.9zM40.0 161.6h0.9v0.9h-0.9zM41.1 172.6h0.9v0.9h-0.9zM44.8 171.2h0.9v0.9h-0.9zM49.5 164.8h0.9v0.9h-0.9zM50.6 159.6h0.9v0.9h-0.9zM37.0 169.0h0.9v0.9h-0.9zM43.1 168.0h0.9v0.9h-0.9zM54.3 157.6h0.9v0.9h-0.9zM44.1 165.5h0.9v0.9h-0.9zM41.5 175.7h0.9v0.9h-0.9zM38.4 165.2h0.9v0.9h-0.9zM46.1 167.8h0.9v0.9h-0.9zM41.0 163.4h0.9v0.9h-0.9zM38.2 167.8h0.9v0.9h-0.9zM37.4 172.9h0.9v0.9h-0.9zM49.9 164.3h0.9v0.9h-0.9zM51.7 157.0h0.9v0.9h-0.9zM47.1 163.7h0.9v0.9h-0.9zM43.6 164.4h0.9v0.9h-0.9zM47.4 160.6h0.9v0.9h-0.9zM42.9 170.4h0.9v0.9h-0.9zM50.4 162.9h0.9v0.9h-0.9zM48.5 162.7h0.9v0.9h-0.9zM48.4 166.0h0.9v0.9h-0.9zM40.6 163.0h0.9v0.9h-0.9zM41.6 164.1h0.9v0.9h-0.9zM40.4 169.9h0.9v0.9h-0.9zM41.0 171.8h0.9v0.9h-0.9zM42.9 177.0h0.9v0.9h-0.9zM49.2 175.4h0.9v0.9h-0.9zM61.4 176.2h0.9v0.9h-0.9zM55.2 174.9h0.9v0.9h-0.9zM44.3 176.1h0.9v0.9h-0.9zM52.5 175.5h0.9v0.9h-0.9zM37.8 176.2h0.9v0.9h-0.9zM50.8 176.0h0.9v0.9h-0.9zM52.7 175.3h0.9v0.9h-0.9zM58.6 175.5h0.9v0.9h-0.9zM55.0 176.7h0.9v0.9h-0.9zM42.3 176.3h0.9v0.9h-0.9zM51.7 175.5h0.9v0.9h-0.9zM62.0 175.8h0.9v0.9h-0.9zM43.3 174.9h0.9v0.9h-0.9zM59.0 175.9h0.9v0.9h-0.9zM45.7 176.3h0.9v0.9h-0.9zM46.5 175.5h0.9v0.9h-0.9zM52.2 176.4h0.9v0.9h-0.9zM44.9 176.9h0.9v0.9h-0.9zM64.4 175.2h0.9v0.9h-0.9zM50.9 174.8h0.9v0.9h-0.9zM50.3 176.9h0.9v0.9h-0.9zM48.5 174.9h0.9v0.9h-0.9zM47.3 176.6h0.9v0.9h-0.9zM51.8 175.1h0.9v0.9h-0.9zM38.8 175.2h0.9v0.9h-0.9zM59.5 176.4h0.9v0.9h-0.9zM49.7 176.5h0.9v0.9h-0.9zM56.6 177.1h0.9v0.9h-0.9zM50.5 175.5h0.9v0.9h-0.9zM52.6 176.5h0.9v0.9h-0.9zM49.8 175.4h0.9v0.9h-0.9zM54.5 176.7h0.9v0.9h-0.9zM43.9 175.8h0.9v0.9h-0.9zM47.5 174.9h0.9v0.9h-0.9zM53.7 175.3h0.9v0.9h-0.9zM53.0 176.4h0.9v0.9h-0.9zM51.4 175.5h0.9v0.9h-0.9zM48.4 175.9h0.9v0.9h-0.9zM49.2 175.8h0.9v0.9h-0.9zM64.8 177.2h0.9v0.9h-0.9zM50.8 175.3h0.9v0.9h-0.9zM58.3 176.9h0.9v0.9h-0.9zM55.4 176.7h0.9v0.9h-0.9zM44.4 175.5h0.9v0.9h-0.9zM55.5 176.7h0.9v0.9h-0.9zM55.6 176.2h0.9v0.9h-0.9zM55.2 177.1h0.9v0.9h-0.9zM54.9 177.0h0.9v0.9h-0.9zM52.2 176.0h0.9v0.9h-0.9zM60.0 175.2h0.9v0.9h-0.9zM55.5 176.4h0.9v0.9h-0.9zM42.6 175.4h0.9v0.9h-0.9zM64.6 176.2h0.9v0.9h-0.9zM45.3 175.8h0.9v0.9h-0.9zM57.2 176.5h0.9v0.9h-0.9zM51.0 175.7h0.9v0.9h-0.9zM53.7 174.9h0.9v0.9h-0.9zM47.5 176.6h0.9v0.9h-0.9zM64.0 175.5h0.9v0.9h-0.9zM45.9 175.2h0.9v0.9h-0.9zM55.7 176.3h0.9v0.9h-0.9zM57.9 177.1h0.9v0.9h-0.9zM49.2 176.8h0.9v0.9h-0.9zM36.9 175.0h0.9v0.9h-0.9zM61.0 176.9h0.9v0.9h-0.9zM55.1 175.8h0.9v0.9h-0.9zM56.4 174.9h0.9v0.9h-0.9zM51.6 175.2h0.9v0.9h-0.9zM53.8 176.7h0.9v0.9h-0.9zM47.4 176.4h0.9v0.9h-0.9zM55.1 175.3h0.9v0.9h-0.9zM54.5 176.9h0.9v0.9h-0.9zM54.1 175.0h0.9v0.9h-0.9zM64.5 176.9h0.9v0.9h-0.9zM42.9 174.9h0.9v0.9h-0.9zM57.1 176.6h0.9v0.9h-0.9zM58.0 175.0h0.9v0.9h-0.9zM53.3 175.1h0.9v0.9h-0.9zM52.5 177.1h0.9v0.9h-0.9zM55.1 176.6h0.9v0.9h-0.9zM40.6 175.5h0.9v0.9h-0.9zM54.0 175.5h0.9v0.9h-0.9zM55.4 175.2h0.9v0.9h-0.9zM57.6 176.6h0.9v0.9h-0.9zM53.7 176.1h0.9v0.9h-0.9zM46.5 176.6h0.9v0.9h-0.9zM56.4 176.0h0.9v0.9h-0.9zM58.4 176.9h0.9v0.9h-0.9zM53.7 175.6h0.9v0.9h-0.9zM50.1 174.8h0.9v0.9h-0.9zM51.3 176.5h0.9v0.9h-0.9zM52.8 175.6h0.9v0.9h-0.9zM55.9 177.0h0.9v0.9h-0.9zM63.1 175.6h0.9v0.9h-0.9zM50.9 176.5h0.9v0.9h-0.9zM46.5 176.1h0.9v0.9h-0.9zM47.7 176.2h0.9v0.9h-0.9zM53.1 175.7h0.9v0.9h-0.9zM53.8 177.1h0.9v0.9h-0.9zM63.5 175.0h0.9v0.9h-0.9zM57.0 177.2h0.9v0.9h-0.9zM45.3 175.3h0.9v0.9h-0.9zM45.7 176.8h0.9v0.9h-0.9zM52.7 176.6h0.9v0.9h-0.9zM53.9 174.9h0.9v0.9h-0.9zM53.9 175.9h0.9v0.9h-0.9zM60.8 174.9h0.9v0.9h-0.9zM56.8 176.3h0.9v0.9h-0.9zM61.6 175.8h0.9v0.9h-0.9zM46.9 177.2h0.9v0.9h-0.9zM56.7 176.1h0.9v0.9h-0.9zM70.7 176.4h0.9v0.9h-0.9zM48.3 176.5h0.9v0.9h-0.9zM54.9 175.1h0.9v0.9h-0.9zM45.8 175.9h0.9v0.9h-0.9zM51.6 175.4h0.9v0.9h-0.9zM61.7 175.5h0.9v0.9h-0.9zM50.3 176.8h0.9v0.9h-0.9zM48.8 176.3h0.9v0.9h-0.9zM49.7 175.7h0.9v0.9h-0.9zM43.6 175.2h0.9v0.9h-0.9zM53.4 176.6h0.9v0.9h-0.9zM44.9 176.3h0.9v0.9h-0.9zM57.6 176.8h0.9v0.9h-0.9zM64.0 175.2h0.9v0.9h-0.9zM65.5 176.4h0.9v0.9h-0.9zM45.0 175.2h0.9v0.9h-0.9zM54.2 176.8h0.9v0.9h-0.9zM57.9 175.4h0.9v0.9h-0.9zM41.2 175.1h0.9v0.9h-0.9zM54.3 175.6h0.9v0.9h-0.9zM51.6 176.3h0.9v0.9h-0.9zM56.5 176.3h0.9v0.9h-0.9zM68.5 175.5h0.9v0.9h-0.9zM44.4 175.0h0.9v0.9h-0.9zM48.1 174.9h0.9v0.9h-0.9zM46.9 176.5h0.9v0.9h-0.9zM42.8 175.1h0.9v0.9h-0.9zM61.5 176.5h0.9v0.9h-0.9zM60.4 176.2h0.9v0.9h-0.9zM53.0 176.7h0.9v0.9h-0.9zM40.7 175.6h0.9v0.9h-0.9zM61.6 176.9h0.9v0.9h-0.9zM56.0 176.9h0.9v0.9h-0.9zM51.9 176.7h0.9v0.9h-0.9zM48.3 176.9h0.9v0.9h-0.9zM55.9 175.5h0.9v0.9h-0.9zM60.8 174.9h0.9v0.9h-0.9zM60.5 175.3h0.9v0.9h-0.9zM44.3 177.0h0.9v0.9h-0.9zM39.1 176.3h0.9v0.9h-0.9zM66.3 176.1h0.9v0.9h-0.9zM59.6 176.2h0.9v0.9h-0.9zM50.5 175.2h0.9v0.9h-0.9zM56.8 176.8h0.9v0.9h-0.9zM45.9 177.2h0.9v0.9h-0.9zM52.3 176.6h0.9v0.9h-0.9zM44.0 176.6h0.9v0.9h-0.9zM64.6 175.5h0.9v0.9h-0.9zM47.4 176.8h0.9v0.9h-0.9zM51.7 175.3h0.9v0.9h-0.9zM51.4 175.4h0.9v0.9h-0.9zM60.5 174.9h0.9v0.9h-0.9zM51.7 175.7h0.9v0.9h-0.9zM40.3 175.2h0.9v0.9h-0.9zM56.2 176.6h0.9v0.9h-0.9zM49.7 176.8h0.9v0.9h-0.9zM42.5 175.6h0.9v0.9h-0.9zM63.8 175.3h0.9v0.9h-0.9zM49.3 174.9h0.9v0.9h-0.9zM49.9 176.2h0.9v0.9h-0.9zM42.4 176.4h0.9v0.9h-0.9zM45.2 175.1h0.9v0.9h-0.9zM39.3 175.4h0.9v0.9h-0.9zM52.4 176.3h0.9v0.9h-0.9zM42.0 175.0h0.9v0.9h-0.9zM43.5 176.0h0.9v0.9h-0.9zM47.6 176.5h0.9v0.9h-0.9zM42.8 176.1h0.9v0.9h-0.9zM64.3 176.6h0.9v0.9h-0.9zM54.8 175.4h0.9v0.9h-0.9zM58.4 175.7h0.9v0.9h-0.9zM64.1 176.1h0.9v0.9h-0.9zM50.8 175.1h0.9v0.9h-0.9zM57.4 176.1h0.9v0.9h-0.9zM53.8 174.9h0.9v0.9h-0.9zM46.8 176.8h0.9v0.9h-0.9zM59.7 175.2h0.9v0.9h-0.9zM44.6 176.4h0.9v0.9h-0.9zM47.3 175.3h0.9v0.9h-0.9zM55.5 175.1h0.9v0.9h-0.9zM57.7 176.9h0.9v0.9h-0.9zM53.3 175.9h0.9v0.9h-0.9zM50.6 175.5h0.9v0.9h-0.9zM47.7 175.7h0.9v0.9h-0.9zM53.6 175.7h0.9v0.9h-0.9zM60.5 177.2h0.9v0.9h-0.9z" fill="#000" fill-opacity="0.85"/>
<rect x="44.5" y="175.2" width="14" height="2.2" fill="#111" fill-opacity="0.7"/>
<rect x="31.0" y="140.5" width="2.4" height="11" fill="#111" fill-opacity="0.6"/>
<ellipse cx="64.8" cy="141" rx="12.3" ry="14.8" fill="#aaa" fill-opacity="0.35"/>
<ellipse cx="72.5" cy="137.5" rx="7.8" ry="10.3" fill="#aaa" fill-opacity="0.35"/>
<g fill="none" stroke="#8a8a8a" stroke-width="0.5">
<path d="M80.0 141.9 L79.8 143.9 L79.3 145.9 L78.5 147.9 L77.5 149.7 L76.2 151.4 L74.8 153.0 L73.2 154.4 L71.3 155.5 L69.2 156.0 L67.0 156.0 L65.0 155.4 L63.1 154.5 L61.4 153.6 L59.7 152.7 L58.1 151.7 L56.5 150.4 L55.3 148.9 L54.3 147.1 L53.7 145.2 L53.2 143.2 L52.7 141.2 L52.4 139.1 L52.3 136.9 L52.9 134.7 L53.9 132.8 L55.4 131.2 L57.1 129.9 L58.7 128.7 L60.3 127.5 L62.0 126.2 L63.9 125.3 L66.0 125.0 L68.0 125.3 L69.9 126.1 L71.7 127.2 L73.3 128.2 L75.0 129.3 L76.6 130.5 L78.0 131.9 L79.1 133.7 L79.7 135.7 L80.0 137.7 L80.1 139.8 L80.0 141.9Z"/>
<path d="M78.1 141.9 L78.0 143.8 L77.6 145.7 L77.0 147.5 L76.0 149.2 L74.8 150.6 L73.3 151.8 L71.6 152.7 L69.9 153.2 L68.1 153.3 L66.3 153.3 L64.6 153.2 L63.0 153.0 L61.3 152.6 L59.6 152.0 L58.1 151.1 L56.8 149.8 L55.7 148.3 L54.7 146.8 L53.9 145.1 L53.2 143.3 L52.9 141.4 L52.9 139.4 L53.4 137.5 L54.3 135.8 L55.5 134.3 L56.7 133.0 L57.9 131.7 L59.1 130.4 L60.4 129.1 L61.9 128.1 L63.6 127.5 L65.4 127.2 L67.2 127.4 L69.0 127.8 L70.7 128.4 L72.3 129.2 L73.8 130.3 L75.0 131.6 L76.0 133.1 L76.8 134.8 L77.3 136.5 L77.8 138.3 L78.0 140.1 L78.1 141.9Z"/>
<path d="M76.7 142.0 L76.6 143.8 L76.0 145.4 L75.1 146.9 L73.9 148.1 L72.7 149.2 L71.5 150.2 L70.2 151.1 L68.8 151.8 L67.3 152.2 L65.7 152.3 L64.2 152.0 L62.7 151.6 L61.3 151.2 L59.8 150.7 L58.4 150.0 L57.2 149.0 L56.2 147.7 L55.6 146.2 L55.2 144.6 L54.9 143.0 L54.5 141.4 L54.3 139.8 L54.4 138.1 L54.8 136.5 L55.7 135.0 L56.7 133.7 L57.8 132.5 L59.0 131.4 L60.3 130.4 L61.7 129.5 L63.2 129.0 L64.9 129.0 L66.4 129.5 L67.9 130.2 L69.2 130.9 L70.5 131.6 L71.8 132.3 L73.0 133.2 L74.1 134.3 L74.9 135.7 L75.6 137.1 L76.1 138.7 L76.5 140.3 L76.7 142.0Z"/>
<path d="M74.0 142.0 L73.6 143.4 L73.0 144.6 L72.4 145.8 L71.7 147.0 L70.9 148.1 L70.0 149.0 L68.9 149.9 L67.7 150.4 L66.4 150.8 L65.0 150.9 L63.7 150.8 L62.4 150.5 L61.2 150.2 L60.0 149.6 L58.8 148.9 L57.7 148.1 L56.7 147.1 L55.8 145.9 L55.2 144.6 L54.9 143.1 L54.9 141.6 L55.2 140.1 L55.7 138.8 L56.3 137.5 L56.9 136.3 L57.7 135.2 L58.5 134.2 L59.5 133.3 L60.6 132.6 L61.8 132.1 L63.1 131.8 L64.4 131.6 L65.7 131.5 L67.0 131.6 L68.3 131.8 L69.6 132.2 L70.9 132.9 L71.9 133.9 L72.8 135.0 L73.5 136.3 L74.0 137.7 L74.2 139.2 L74.2 140.6 L74.0 142.0Z"/>
<path d="M72.0 142.1 L71.8 143.3 L71.4 144.4 L70.9 145.5 L70.2 146.4 L69.5 147.3 L68.6 148.1 L67.7 148.7 L66.6 149.2 L65.5 149.6 L64.4 149.8 L63.2 149.9 L62.1 149.8 L61.0 149.3 L60.0 148.6 L59.2 147.7 L58.6 146.8 L58.0 145.9 L57.4 144.9 L56.9 143.9 L56.5 142.8 L56.4 141.7 L56.5 140.5 L56.8 139.4 L57.2 138.4 L57.6 137.3 L58.0 136.2 L58.5 135.1 L59.3 134.1 L60.3 133.4 L61.5 133.0 L62.6 132.8 L63.8 132.8 L64.9 132.9 L66.1 133.1 L67.1 133.5 L68.1 134.1 L69.0 134.9 L69.6 135.8 L70.1 136.8 L70.6 137.8 L71.1 138.7 L71.6 139.8 L71.9 140.9 L72.0 142.1Z"/>
<path d="M70.0 142.1 L69.8 143.1 L69.4 144.0 L69.0 144.9 L68.4 145.6 L67.8 146.3 L67.1 146.9 L66.3 147.3 L65.4 147.6 L64.6 147.8 L63.7 147.8 L62.9 147.8 L62.0 147.7 L61.1 147.6 L60.3 147.3 L59.5 146.8 L58.8 146.2 L58.2 145.4 L57.7 144.6 L57.3 143.8 L57.0 142.8 L56.8 141.8 L56.9 140.8 L57.1 139.9 L57.6 139.0 L58.2 138.3 L58.8 137.6 L59.5 137.0 L60.1 136.4 L60.8 135.8 L61.5 135.4 L62.4 135.0 L63.3 134.9 L64.2 134.9 L65.1 135.0 L65.9 135.3 L66.7 135.7 L67.5 136.3 L68.1 136.9 L68.7 137.6 L69.2 138.4 L69.6 139.3 L69.8 140.2 L70.0 141.2 L70.0 142.1Z"/>
<path d="M67.6 142.2 L67.5 142.9 L67.3 143.5 L67.0 144.2 L66.6 144.8 L66.2 145.3 L65.6 145.8 L65.0 146.1 L64.4 146.3 L63.7 146.6 L63.1 146.8 L62.4 147.0 L61.6 147.0 L60.9 146.8 L60.3 146.3 L59.9 145.7 L59.6 145.0 L59.3 144.4 L59.0 143.8 L58.7 143.2 L58.4 142.6 L58.2 141.9 L58.2 141.2 L58.2 140.5 L58.4 139.8 L58.7 139.1 L59.0 138.5 L59.5 137.9 L60.1 137.4 L60.7 137.1 L61.4 136.9 L62.1 136.8 L62.7 136.8 L63.4 136.8 L64.0 136.9 L64.7 137.1 L65.3 137.4 L65.9 137.8 L66.4 138.3 L66.8 138.8 L67.2 139.4 L67.4 140.0 L67.6 140.7 L67.7 141.5 L67.6 142.2Z"/>
<path d="M65.5 142.2 L65.3 142.7 L65.2 143.1 L65.0 143.5 L64.8 144.0 L64.6 144.4 L64.2 144.8 L63.8 145.1 L63.4 145.3 L62.9 145.4 L62.4 145.3 L62.0 145.2 L61.5 145.1 L61.1 145.0 L60.7 144.8 L60.3 144.5 L60.0 144.2 L59.8 143.8 L59.6 143.4 L59.4 143.0 L59.2 142.5 L59.0 142.1 L58.9 141.6 L59.0 141.0 L59.1 140.5 L59.4 140.1 L59.7 139.7 L60.1 139.4 L60.5 139.2 L60.9 138.9 L61.3 138.8 L61.7 138.7 L62.2 138.6 L62.6 138.6 L63.1 138.6 L63.5 138.8 L63.9 138.9 L64.3 139.2 L64.7 139.5 L64.9 139.9 L65.2 140.3 L65.4 140.8 L65.5 141.2 L65.5 141.7 L65.5 142.2Z"/>
<path d="M56.9 109.9 L57.0 109.0 L57.2 108.2 L57.4 107.3 L57.5 106.4 L57.7 105.6 L57.9 104.7 L58.1 103.8 L58.3 103.0 L58.6 102.1 L58.9 101.4 L59.2 100.6 L59.6 100.0 L60.0 99.4 L60.5 99.0 L60.9 98.6 L61.4 98.2 L61.9 98.0 L62.4 97.8 L62.9 97.7 L63.4 97.6 L63.9 97.6 L64.4 97.7 L64.9 97.8 L65.4 98.1 L65.9 98.4 L66.4 98.9 L66.8 99.4 L67.2 100.0 L67.6 100.6 L67.9 101.3 L68.3 102.0 L68.6 102.7 L68.9 103.5 L69.2 104.3 L69.4 105.1 L69.6 105.9 L69.9 106.8 L70.0 107.6 L70.2 108.6 L70.3 109.5"/>
<path d="M58.2 111.8 L58.2 111.1 L58.3 110.3 L58.5 109.6 L58.6 108.9 L58.8 108.2 L58.9 107.6 L59.2 107.0 L59.4 106.3 L59.6 105.8 L59.9 105.2 L60.2 104.8 L60.5 104.3 L60.9 103.9 L61.2 103.6 L61.6 103.3 L61.9 103.0 L62.3 102.8 L62.7 102.7 L63.0 102.5 L63.4 102.5 L63.8 102.4 L64.2 102.5 L64.6 102.6 L65.0 102.7 L65.4 102.9 L65.7 103.2 L66.1 103.6 L66.4 104.0 L66.7 104.4 L67.0 104.9 L67.3 105.5 L67.5 106.1 L67.8 106.8 L67.9 107.4 L68.1 108.1 L68.2 108.8 L68.4 109.5 L68.4 110.2 L68.5 110.9 L68.6 111.6"/>
<path d="M59.6 113.8 L59.7 113.2 L59.7 112.7 L59.8 112.2 L60.0 111.7 L60.1 111.2 L60.3 110.8 L60.5 110.4 L60.6 110.0 L60.8 109.6 L61.0 109.3 L61.2 108.9 L61.4 108.6 L61.6 108.3 L61.9 108.0 L62.1 107.7 L62.4 107.5 L62.6 107.4 L62.9 107.3 L63.2 107.2 L63.5 107.2 L63.7 107.2 L64.0 107.3 L64.3 107.3 L64.5 107.4 L64.8 107.6 L65.1 107.7 L65.3 107.9 L65.6 108.2 L65.8 108.5 L66.1 108.8 L66.3 109.2 L66.4 109.6 L66.6 110.1 L66.7 110.6 L66.8 111.1 L66.9 111.6 L67.0 112.1 L67.1 112.6 L67.2 113.1 L67.2 113.6"/>
<path d="M61.2 115.8 L61.2 115.4 L61.2 115.1 L61.3 114.8 L61.4 114.5 L61.5 114.2 L61.6 114.0 L61.7 113.7 L61.8 113.5 L61.9 113.3 L62.0 113.1 L62.1 112.9 L62.3 112.7 L62.4 112.5 L62.5 112.3 L62.7 112.2 L62.8 112.1 L63.0 112.0 L63.1 111.9 L63.3 111.9 L63.5 111.9 L63.6 111.9 L63.8 112.0 L63.9 112.1 L64.1 112.2 L64.2 112.3 L64.4 112.4 L64.5 112.5 L64.7 112.6 L64.8 112.8 L65.0 112.9 L65.1 113.1 L65.3 113.3 L65.4 113.5 L65.5 113.7 L65.6 114.0 L65.7 114.3 L65.8 114.6 L65.8 115.0 L65.9 115.3 L65.9 115.6"/>
</g>
<line x1="154.40" y1="56.30" x2="154.40" y2="175.50" stroke="#999" stroke-width="0.8"/>
<line x1="33.00" y1="60.00" x2="33.00" y2="175.00" stroke="#666" stroke-width="0.6" stroke-dasharray="0.8 1.6"/>
<line x1="36.00" y1="177.00" x2="152.00" y2="177.00" stroke="#666" stroke-width="0.6" stroke-dasharray="0.8 1.6"/>
<text x="30.50" y="68.00" font-size="5.8" text-anchor="end" fill="#444" stroke="#444" stroke-width="0.15">10<tspan font-size="4.06" dy="-2">5</tspan></text>
<line x1="31.00" y1="66.00" x2="34.00" y2="66.00" stroke="#333" stroke-width="0.9"/>
<text x="30.50" y="90.70" font-size="5.8" text-anchor="end" fill="#444" stroke="#444" stroke-width="0.15">10<tspan font-size="4.06" dy="-2">4</tspan></text>
<line x1="31.00" y1="88.70" x2="34.00" y2="88.70" stroke="#333" stroke-width="0.9"/>
<text x="30.50" y="113.30" font-size="5.8" text-anchor="end" fill="#444" stroke="#444" stroke-width="0.15">10<tspan font-size="4.06" dy="-2">3</tspan></text>
<line x1="31.00" y1="111.30" x2="34.00" y2="111.30" stroke="#333" stroke-width="0.9"/>
<text x="30.00" y="137.00" font-size="5.2" text-anchor="end" fill="#444" stroke="#444" stroke-width="0.15">0</text>
<line x1="31.00" y1="135.00" x2="34.00" y2="135.00" stroke="#333" stroke-width="0.9"/>
<text x="30.5" y="155.2" font-size="5.2" text-anchor="end" fill="#555">-10<tspan font-size="3.6" dy="-2">2</tspan></text>
<line x1="31.00" y1="153.20" x2="34.00" y2="153.20" stroke="#333" stroke-width="0.9"/>
<text x="56.30" y="188.50" font-size="5.2" text-anchor="middle" fill="#444" stroke="#444" stroke-width="0.15">0</text>
<text x="96.00" y="188.50" font-size="5.8" text-anchor="middle" fill="#444" stroke="#444" stroke-width="0.15">10<tspan font-size="4.06" dy="-2">3</tspan></text>
<text x="121.50" y="188.50" font-size="5.8" text-anchor="middle" fill="#444" stroke="#444" stroke-width="0.15">10<tspan font-size="4.06" dy="-2">4</tspan></text>
<text x="144.50" y="188.50" font-size="5.8" text-anchor="middle" fill="#444" stroke="#444" stroke-width="0.15">10<tspan font-size="4.06" dy="-2">5</tspan></text>
<line x1="56.30" y1="175.80" x2="56.30" y2="178.50" stroke="#333" stroke-width="0.9"/>
<line x1="95.00" y1="175.80" x2="95.00" y2="178.50" stroke="#333" stroke-width="0.9"/>
<line x1="120.50" y1="175.80" x2="120.50" y2="178.50" stroke="#333" stroke-width="0.9"/>
<line x1="143.50" y1="175.80" x2="143.50" y2="178.50" stroke="#333" stroke-width="0.9"/>
<text x="15.90" y="112.00" font-size="5.8" text-anchor="middle" fill="#444" stroke="#444" stroke-width="0.15" transform="rotate(-90 15.90 112.00)">Comp-PE-Cy7-A :: CD38</text>
<text x="94.60" y="198.00" font-size="6.1" text-anchor="middle" fill="#444" stroke="#444" stroke-width="0.15">Comp-APC-A :: CD34</text>
<path d="M101.9 155.5 V121.9 H126.4 V155.5" fill="none" stroke="#333" stroke-width="1"/>
<text x="124.80" y="162.50" font-size="5.8" text-anchor="middle" fill="#444" stroke="#444" stroke-width="0.15">CD34, CD38 subset</text>
<text x="124.80" y="170.00" font-size="5.6" text-anchor="middle" fill="#444" stroke="#444" stroke-width="0.15">0.25</text>
<line x1="199.20" y1="56.00" x2="199.20" y2="176.20" stroke="#333" stroke-width="0.9"/>
<line x1="199.20" y1="176.20" x2="320.00" y2="176.20" stroke="#333" stroke-width="1.0"/>
<text x="194.50" y="67.00" font-size="5.8" text-anchor="end" fill="#444" stroke="#444" stroke-width="0.15">10<tspan font-size="4.06" dy="-2">5</tspan></text>
<line x1="197.00" y1="65.00" x2="199.20" y2="65.00" stroke="#333" stroke-width="1.0"/>
<text x="194.50" y="88.80" font-size="5.8" text-anchor="end" fill="#444" stroke="#444" stroke-width="0.15">10<tspan font-size="4.06" dy="-2">4</tspan></text>
<line x1="197.00" y1="86.80" x2="199.20" y2="86.80" stroke="#333" stroke-width="1.0"/>
<text x="194.50" y="110.60" font-size="5.8" text-anchor="end" fill="#444" stroke="#444" stroke-width="0.15">10<tspan font-size="4.06" dy="-2">3</tspan></text>
<line x1="197.00" y1="108.60" x2="199.20" y2="108.60" stroke="#333" stroke-width="1.0"/>
<text x="194.50" y="132.50" font-size="5.8" text-anchor="end" fill="#444" stroke="#444" stroke-width="0.15">10<tspan font-size="4.06" dy="-2">2</tspan></text>
<line x1="197.00" y1="130.50" x2="199.20" y2="130.50" stroke="#333" stroke-width="1.0"/>
<text x="194.50" y="154.30" font-size="5.8" text-anchor="end" fill="#444" stroke="#444" stroke-width="0.15">10<tspan font-size="4.06" dy="-2">1</tspan></text>
<line x1="197.00" y1="152.30" x2="199.20" y2="152.30" stroke="#333" stroke-width="1.0"/>
<text x="194.50" y="176.00" font-size="5.8" text-anchor="end" fill="#444" stroke="#444" stroke-width="0.15">10<tspan font-size="4.06" dy="-2">0</tspan></text>
<line x1="197.00" y1="174.00" x2="199.20" y2="174.00" stroke="#333" stroke-width="1.0"/>
<line x1="198.00" y1="167.44" x2="199.20" y2="167.44" stroke="#555" stroke-width="0.5"/>
<line x1="198.00" y1="163.60" x2="199.20" y2="163.60" stroke="#555" stroke-width="0.5"/>
<line x1="198.00" y1="160.88" x2="199.20" y2="160.88" stroke="#555" stroke-width="0.5"/>
<line x1="198.00" y1="158.76" x2="199.20" y2="158.76" stroke="#555" stroke-width="0.5"/>
<line x1="198.00" y1="157.04" x2="199.20" y2="157.04" stroke="#555" stroke-width="0.5"/>
<line x1="198.00" y1="155.58" x2="199.20" y2="155.58" stroke="#555" stroke-width="0.5"/>
<line x1="198.00" y1="154.31" x2="199.20" y2="154.31" stroke="#555" stroke-width="0.5"/>
<line x1="198.00" y1="153.20" x2="199.20" y2="153.20" stroke="#555" stroke-width="0.5"/>
<line x1="198.00" y1="145.64" x2="199.20" y2="145.64" stroke="#555" stroke-width="0.5"/>
<line x1="198.00" y1="141.80" x2="199.20" y2="141.80" stroke="#555" stroke-width="0.5"/>
<line x1="198.00" y1="139.08" x2="199.20" y2="139.08" stroke="#555" stroke-width="0.5"/>
<line x1="198.00" y1="136.96" x2="199.20" y2="136.96" stroke="#555" stroke-width="0.5"/>
<line x1="198.00" y1="135.24" x2="199.20" y2="135.24" stroke="#555" stroke-width="0.5"/>
<line x1="198.00" y1="133.78" x2="199.20" y2="133.78" stroke="#555" stroke-width="0.5"/>
<line x1="198.00" y1="132.51" x2="199.20" y2="132.51" stroke="#555" stroke-width="0.5"/>
<line x1="198.00" y1="131.40" x2="199.20" y2="131.40" stroke="#555" stroke-width="0.5"/>
<line x1="198.00" y1="123.84" x2="199.20" y2="123.84" stroke="#555" stroke-width="0.5"/>
<line x1="198.00" y1="120.00" x2="199.20" y2="120.00" stroke="#555" stroke-width="0.5"/>
<line x1="198.00" y1="117.28" x2="199.20" y2="117.28" stroke="#555" stroke-width="0.5"/>
<line x1="198.00" y1="115.16" x2="199.20" y2="115.16" stroke="#555" stroke-width="0.5"/>
<line x1="198.00" y1="113.44" x2="199.20" y2="113.44" stroke="#555" stroke-width="0.5"/>
<line x1="198.00" y1="111.98" x2="199.20" y2="111.98" stroke="#555" stroke-width="0.5"/>
<line x1="198.00" y1="110.71" x2="199.20" y2="110.71" stroke="#555" stroke-width="0.5"/>
<line x1="198.00" y1="109.60" x2="199.20" y2="109.60" stroke="#555" stroke-width="0.5"/>
<line x1="198.00" y1="102.04" x2="199.20" y2="102.04" stroke="#555" stroke-width="0.5"/>
<line x1="198.00" y1="98.20" x2="199.20" y2="98.20" stroke="#555" stroke-width="0.5"/>
<line x1="198.00" y1="95.48" x2="199.20" y2="95.48" stroke="#555" stroke-width="0.5"/>
<line x1="198.00" y1="93.36" x2="199.20" y2="93.36" stroke="#555" stroke-width="0.5"/>
<line x1="198.00" y1="91.64" x2="199.20" y2="91.64" stroke="#555" stroke-width="0.5"/>
<line x1="198.00" y1="90.18" x2="199.20" y2="90.18" stroke="#555" stroke-width="0.5"/>
<line x1="198.00" y1="88.91" x2="199.20" y2="88.91" stroke="#555" stroke-width="0.5"/>
<line x1="198.00" y1="87.80" x2="199.20" y2="87.80" stroke="#555" stroke-width="0.5"/>
<line x1="198.00" y1="80.24" x2="199.20" y2="80.24" stroke="#555" stroke-width="0.5"/>
<line x1="198.00" y1="76.40" x2="199.20" y2="76.40" stroke="#555" stroke-width="0.5"/>
<line x1="198.00" y1="73.68" x2="199.20" y2="73.68" stroke="#555" stroke-width="0.5"/>
<line x1="198.00" y1="71.56" x2="199.20" y2="71.56" stroke="#555" stroke-width="0.5"/>
<line x1="198.00" y1="69.84" x2="199.20" y2="69.84" stroke="#555" stroke-width="0.5"/>
<line x1="198.00" y1="68.38" x2="199.20" y2="68.38" stroke="#555" stroke-width="0.5"/>
<line x1="198.00" y1="67.11" x2="199.20" y2="67.11" stroke="#555" stroke-width="0.5"/>
<line x1="198.00" y1="66.00" x2="199.20" y2="66.00" stroke="#555" stroke-width="0.5"/>
<text x="205.50" y="188.50" font-size="5.8" text-anchor="middle" fill="#444" stroke="#444" stroke-width="0.15">10<tspan font-size="4.06" dy="-2">0</tspan></text>
<line x1="204.50" y1="176.20" x2="204.50" y2="178.60" stroke="#333" stroke-width="1.0"/>
<text x="222.80" y="188.50" font-size="5.8" text-anchor="middle" fill="#444" stroke="#444" stroke-width="0.15">10<tspan font-size="4.06" dy="-2">1</tspan></text>
<line x1="221.80" y1="176.20" x2="221.80" y2="178.60" stroke="#333" stroke-width="1.0"/>
<text x="244.50" y="188.50" font-size="5.8" text-anchor="middle" fill="#444" stroke="#444" stroke-width="0.15">10<tspan font-size="4.06" dy="-2">2</tspan></text>
<line x1="243.50" y1="176.20" x2="243.50" y2="178.60" stroke="#333" stroke-width="1.0"/>
<text x="267.50" y="188.50" font-size="5.8" text-anchor="middle" fill="#444" stroke="#444" stroke-width="0.15">10<tspan font-size="4.06" dy="-2">3</tspan></text>
<line x1="266.50" y1="176.20" x2="266.50" y2="178.60" stroke="#333" stroke-width="1.0"/>
<text x="290.60" y="188.50" font-size="5.8" text-anchor="middle" fill="#444" stroke="#444" stroke-width="0.15">10<tspan font-size="4.06" dy="-2">4</tspan></text>
<line x1="289.60" y1="176.20" x2="289.60" y2="178.60" stroke="#333" stroke-width="1.0"/>
<text x="312.20" y="188.50" font-size="5.8" text-anchor="middle" fill="#444" stroke="#444" stroke-width="0.15">10<tspan font-size="4.06" dy="-2">5</tspan></text>
<line x1="311.20" y1="176.20" x2="311.20" y2="178.60" stroke="#333" stroke-width="1.0"/>
<line x1="210.97" y1="175.60" x2="210.97" y2="177.00" stroke="#555" stroke-width="0.5"/>
<line x1="214.76" y1="175.60" x2="214.76" y2="177.00" stroke="#555" stroke-width="0.5"/>
<line x1="217.44" y1="175.60" x2="217.44" y2="177.00" stroke="#555" stroke-width="0.5"/>
<line x1="219.53" y1="175.60" x2="219.53" y2="177.00" stroke="#555" stroke-width="0.5"/>
<line x1="221.23" y1="175.60" x2="221.23" y2="177.00" stroke="#555" stroke-width="0.5"/>
<line x1="222.67" y1="175.60" x2="222.67" y2="177.00" stroke="#555" stroke-width="0.5"/>
<line x1="223.92" y1="175.60" x2="223.92" y2="177.00" stroke="#555" stroke-width="0.5"/>
<line x1="225.02" y1="175.60" x2="225.02" y2="177.00" stroke="#555" stroke-width="0.5"/>
<line x1="232.47" y1="175.60" x2="232.47" y2="177.00" stroke="#555" stroke-width="0.5"/>
<line x1="236.26" y1="175.60" x2="236.26" y2="177.00" stroke="#555" stroke-width="0.5"/>
<line x1="238.94" y1="175.60" x2="238.94" y2="177.00" stroke="#555" stroke-width="0.5"/>
<line x1="241.03" y1="175.60" x2="241.03" y2="177.00" stroke="#555" stroke-width="0.5"/>
<line x1="242.73" y1="175.60" x2="242.73" y2="177.00" stroke="#555" stroke-width="0.5"/>
<line x1="244.17" y1="175.60" x2="244.17" y2="177.00" stroke="#555" stroke-width="0.5"/>
<line x1="245.42" y1="175.60" x2="245.42" y2="177.00" stroke="#555" stroke-width="0.5"/>
<line x1="246.52" y1="175.60" x2="246.52" y2="177.00" stroke="#555" stroke-width="0.5"/>
<line x1="253.97" y1="175.60" x2="253.97" y2="177.00" stroke="#555" stroke-width="0.5"/>
<line x1="257.76" y1="175.60" x2="257.76" y2="177.00" stroke="#555" stroke-width="0.5"/>
<line x1="260.44" y1="175.60" x2="260.44" y2="177.00" stroke="#555" stroke-width="0.5"/>
<line x1="262.53" y1="175.60" x2="262.53" y2="177.00" stroke="#555" stroke-width="0.5"/>
<line x1="264.23" y1="175.60" x2="264.23" y2="177.00" stroke="#555" stroke-width="0.5"/>
<line x1="265.67" y1="175.60" x2="265.67" y2="177.00" stroke="#555" stroke-width="0.5"/>
<line x1="266.92" y1="175.60" x2="266.92" y2="177.00" stroke="#555" stroke-width="0.5"/>
<line x1="268.02" y1="175.60" x2="268.02" y2="177.00" stroke="#555" stroke-width="0.5"/>
<line x1="275.47" y1="175.60" x2="275.47" y2="177.00" stroke="#555" stroke-width="0.5"/>
<line x1="279.26" y1="175.60" x2="279.26" y2="177.00" stroke="#555" stroke-width="0.5"/>
<line x1="281.94" y1="175.60" x2="281.94" y2="177.00" stroke="#555" stroke-width="0.5"/>
<line x1="284.03" y1="175.60" x2="284.03" y2="177.00" stroke="#555" stroke-width="0.5"/>
<line x1="285.73" y1="175.60" x2="285.73" y2="177.00" stroke="#555" stroke-width="0.5"/>
<line x1="287.17" y1="175.60" x2="287.17" y2="177.00" stroke="#555" stroke-width="0.5"/>
<line x1="288.42" y1="175.60" x2="288.42" y2="177.00" stroke="#555" stroke-width="0.5"/>
<line x1="289.52" y1="175.60" x2="289.52" y2="177.00" stroke="#555" stroke-width="0.5"/>
<line x1="296.97" y1="175.60" x2="296.97" y2="177.00" stroke="#555" stroke-width="0.5"/>
<line x1="300.76" y1="175.60" x2="300.76" y2="177.00" stroke="#555" stroke-width="0.5"/>
<line x1="303.44" y1="175.60" x2="303.44" y2="177.00" stroke="#555" stroke-width="0.5"/>
<line x1="305.53" y1="175.60" x2="305.53" y2="177.00" stroke="#555" stroke-width="0.5"/>
<line x1="307.23" y1="175.60" x2="307.23" y2="177.00" stroke="#555" stroke-width="0.5"/>
<line x1="308.67" y1="175.60" x2="308.67" y2="177.00" stroke="#555" stroke-width="0.5"/>
<line x1="309.92" y1="175.60" x2="309.92" y2="177.00" stroke="#555" stroke-width="0.5"/>
<line x1="311.02" y1="175.60" x2="311.02" y2="177.00" stroke="#555" stroke-width="0.5"/>
<text x="181.00" y="117.00" font-size="6.0" text-anchor="middle" fill="#444" stroke="#444" stroke-width="0.15" transform="rotate(-90 181.00 117.00)">Comp-FITC-A :: CD90</text>
<text x="259.00" y="198.00" font-size="6.3" text-anchor="middle" fill="#444" stroke="#444" stroke-width="0.15">Comp-Qdot 605-A</text>
<path d="M270.2 97.7 L270.6 99.5 L270.8 101.3 L270.9 103.1 L270.9 104.9 L270.7 106.7 L270.3 108.4 L269.8 110.2 L269.2 111.9 L268.4 113.5 L267.4 114.9 L266.1 116.2 L264.7 117.2 L263.1 117.8 L261.4 118.1 L259.7 118.1 L258.1 117.8 L256.5 117.4 L255.0 117.0 L253.6 116.7 L252.1 116.5 L250.6 116.3 L248.9 116.2 L247.2 115.8 L245.4 115.2 L243.8 114.2 L242.3 113.0 L241.1 111.4 L240.2 109.6 L239.7 107.6 L239.4 105.6 L239.5 103.6 L239.7 101.7 L240.1 99.9 L240.7 98.3 L241.3 96.7 L242.0 95.2 L242.6 93.7 L243.3 92.3 L244.0 90.8 L244.8 89.4 L245.7 88.0 L246.8 86.6 L248.0 85.5 L249.4 84.5 L251.0 83.9 L252.6 83.5 L254.3 83.4 L256.0 83.6 L257.7 84.0 L259.3 84.6 L260.9 85.3 L262.4 86.2 L263.8 87.3 L265.1 88.5 L266.3 89.8 L267.3 91.2 L268.2 92.8 L269.0 94.4 L269.7 96.0 L270.2 97.7Z" fill="#bbb" fill-opacity="0.35"/>
<g fill="none" stroke-width="0.55">
<path stroke="#777" d="M269.2 96.7 L269.6 98.5 L269.8 100.3 L269.9 102.1 L269.9 103.9 L269.7 105.7 L269.3 107.4 L268.8 109.2 L268.2 110.9 L267.4 112.5 L266.4 113.9 L265.1 115.2 L263.7 116.2 L262.1 116.8 L260.4 117.1 L258.7 117.1 L257.1 116.8 L255.5 116.4 L254.0 116.0 L252.6 115.7 L251.1 115.5 L249.6 115.3 L247.9 115.2 L246.2 114.8 L244.4 114.2 L242.8 113.2 L241.3 112.0 L240.1 110.4 L239.2 108.6 L238.7 106.6 L238.4 104.6 L238.5 102.6 L238.7 100.7 L239.1 98.9 L239.7 97.3 L240.3 95.7 L241.0 94.2 L241.6 92.7 L242.3 91.3 L243.0 89.8 L243.8 88.4 L244.7 87.0 L245.8 85.6 L247.0 84.5 L248.4 83.5 L250.0 82.9 L251.6 82.5 L253.3 82.4 L255.0 82.6 L256.7 83.0 L258.3 83.6 L259.9 84.3 L261.4 85.2 L262.8 86.3 L264.1 87.5 L265.3 88.8 L266.3 90.2 L267.2 91.8 L268.0 93.4 L268.7 95.0 L269.2 96.7Z"/>
<path stroke="#777" d="M269.6 97.0 L269.7 98.8 L269.5 100.5 L269.3 102.2 L269.1 103.9 L268.8 105.5 L268.5 107.1 L268.1 108.7 L267.4 110.2 L266.4 111.5 L265.3 112.6 L264.1 113.5 L262.8 114.3 L261.5 115.0 L260.2 115.7 L258.8 116.4 L257.4 117.0 L255.9 117.4 L254.3 117.5 L252.8 117.2 L251.3 116.6 L249.8 115.8 L248.5 114.8 L247.3 113.7 L246.1 112.6 L244.9 111.5 L243.8 110.4 L242.6 109.1 L241.6 107.7 L240.8 106.2 L240.2 104.5 L239.8 102.7 L239.7 101.0 L239.7 99.2 L240.0 97.5 L240.4 95.9 L241.1 94.3 L241.9 92.9 L242.8 91.6 L243.8 90.5 L244.9 89.4 L245.9 88.4 L247.0 87.3 L248.1 86.3 L249.3 85.2 L250.7 84.4 L252.2 83.8 L253.8 83.6 L255.4 83.9 L256.9 84.5 L258.3 85.4 L259.6 86.4 L260.9 87.4 L262.1 88.2 L263.5 89.0 L264.9 89.8 L266.3 90.8 L267.6 92.0 L268.6 93.5 L269.3 95.2 L269.6 97.0Z"/>
<path stroke="#777" d="M268.3 97.7 L268.2 99.3 L267.9 100.8 L267.5 102.3 L267.2 103.6 L267.0 105.0 L266.8 106.4 L266.6 107.9 L266.3 109.4 L265.8 110.8 L265.0 112.1 L264.0 113.2 L262.9 114.1 L261.6 114.8 L260.3 115.4 L259.0 115.9 L257.6 116.4 L256.2 116.7 L254.7 116.8 L253.2 116.7 L251.7 116.3 L250.3 115.8 L248.9 115.0 L247.6 114.1 L246.3 113.1 L245.1 112.0 L244.0 110.7 L243.1 109.3 L242.5 107.7 L242.1 106.0 L242.1 104.3 L242.3 102.7 L242.7 101.2 L243.0 99.8 L243.3 98.4 L243.4 97.0 L243.4 95.5 L243.5 93.9 L243.8 92.4 L244.4 90.9 L245.2 89.7 L246.3 88.7 L247.6 88.0 L248.9 87.5 L250.2 87.0 L251.5 86.6 L252.8 86.1 L254.2 85.6 L255.7 85.3 L257.2 85.2 L258.7 85.4 L260.2 85.9 L261.6 86.7 L263.0 87.7 L264.2 88.8 L265.3 90.0 L266.3 91.3 L267.2 92.8 L267.8 94.3 L268.2 96.0 L268.3 97.7Z"/>
<path stroke="#777" d="M268.7 97.9 L268.5 99.5 L268.2 101.1 L267.6 102.5 L267.0 103.8 L266.3 104.9 L265.8 106.0 L265.3 107.1 L264.9 108.3 L264.5 109.5 L264.0 110.8 L263.4 112.1 L262.6 113.3 L261.7 114.4 L260.6 115.3 L259.3 115.9 L257.9 116.4 L256.5 116.5 L255.1 116.3 L253.7 115.9 L252.4 115.2 L251.1 114.5 L250.0 113.6 L248.9 112.7 L247.8 111.8 L246.7 110.8 L245.7 109.8 L244.6 108.7 L243.7 107.5 L243.0 106.1 L242.5 104.6 L242.3 103.0 L242.4 101.4 L242.7 99.9 L243.2 98.5 L243.8 97.2 L244.4 96.0 L245.1 94.9 L245.7 93.8 L246.4 92.7 L247.1 91.7 L247.9 90.7 L248.8 89.8 L249.8 88.9 L250.9 88.2 L252.1 87.6 L253.3 87.1 L254.6 86.9 L256.0 86.8 L257.4 87.0 L258.7 87.3 L260.0 87.8 L261.3 88.4 L262.6 89.1 L263.8 90.0 L265.0 90.9 L266.2 92.0 L267.2 93.3 L267.9 94.7 L268.5 96.3 L268.7 97.9Z"/>
<path stroke="#777" d="M267.7 98.5 L268.0 99.9 L268.0 101.3 L267.8 102.7 L267.4 104.0 L266.9 105.2 L266.5 106.4 L266.0 107.6 L265.6 108.9 L265.2 110.1 L264.6 111.4 L263.9 112.5 L263.0 113.6 L261.9 114.4 L260.7 115.0 L259.4 115.3 L258.1 115.5 L256.8 115.4 L255.5 115.1 L254.2 114.6 L253.1 113.8 L252.1 112.9 L251.2 111.9 L250.4 111.0 L249.6 110.1 L248.8 109.2 L247.9 108.4 L247.0 107.6 L246.1 106.7 L245.3 105.6 L244.6 104.4 L244.1 103.1 L243.9 101.7 L243.8 100.3 L243.8 98.8 L243.9 97.4 L244.2 96.0 L244.5 94.6 L245.1 93.3 L245.8 92.1 L246.8 91.2 L247.9 90.5 L249.1 90.0 L250.4 89.7 L251.6 89.4 L252.7 89.2 L253.9 88.9 L255.1 88.7 L256.3 88.6 L257.5 88.7 L258.7 89.0 L259.8 89.7 L260.8 90.5 L261.7 91.5 L262.6 92.4 L263.4 93.3 L264.3 94.2 L265.3 95.0 L266.3 96.0 L267.1 97.2 L267.7 98.5Z"/>
<path stroke="#444" d="M267.4 98.9 L267.7 100.2 L267.8 101.6 L267.6 102.9 L267.4 104.2 L266.9 105.4 L266.4 106.5 L265.9 107.6 L265.3 108.6 L264.6 109.6 L264.0 110.5 L263.3 111.4 L262.4 112.3 L261.5 113.0 L260.4 113.5 L259.3 113.8 L258.2 113.8 L257.0 113.7 L255.9 113.3 L254.8 112.9 L253.8 112.4 L252.9 111.9 L251.9 111.5 L250.9 110.9 L249.9 110.4 L249.0 109.7 L248.1 108.8 L247.3 107.9 L246.6 106.8 L246.1 105.7 L245.7 104.5 L245.3 103.2 L245.2 101.9 L245.1 100.6 L245.2 99.3 L245.4 98.0 L245.7 96.8 L246.2 95.7 L246.8 94.6 L247.5 93.6 L248.3 92.7 L249.1 91.9 L250.1 91.2 L251.1 90.6 L252.1 90.2 L253.2 89.9 L254.4 89.8 L255.5 90.0 L256.6 90.3 L257.6 90.7 L258.6 91.2 L259.6 91.8 L260.5 92.3 L261.4 92.8 L262.4 93.4 L263.4 94.0 L264.4 94.7 L265.3 95.5 L266.2 96.5 L266.9 97.6 L267.4 98.9Z"/>
<path stroke="#444" d="M266.9 99.4 L267.2 100.6 L267.3 101.8 L267.1 103.1 L266.6 104.2 L266.0 105.2 L265.3 106.1 L264.7 106.9 L264.2 107.8 L263.8 108.7 L263.4 109.7 L262.8 110.6 L262.2 111.5 L261.4 112.2 L260.4 112.7 L259.4 113.0 L258.4 113.1 L257.3 113.1 L256.3 113.0 L255.2 112.8 L254.2 112.6 L253.2 112.2 L252.2 111.7 L251.4 111.0 L250.6 110.1 L250.0 109.2 L249.4 108.3 L248.8 107.3 L248.3 106.4 L247.8 105.4 L247.3 104.4 L246.9 103.3 L246.7 102.1 L246.6 101.0 L246.8 99.8 L247.0 98.8 L247.4 97.7 L247.8 96.7 L248.3 95.7 L248.7 94.7 L249.3 93.7 L250.0 92.8 L250.8 92.1 L251.8 91.6 L252.8 91.3 L253.8 91.2 L254.9 91.2 L255.9 91.3 L256.9 91.5 L257.9 91.8 L258.9 92.0 L259.8 92.4 L260.7 92.9 L261.5 93.5 L262.3 94.2 L263.1 94.9 L263.9 95.7 L264.7 96.4 L265.5 97.3 L266.3 98.3 L266.9 99.4Z"/>
<path stroke="#444" d="M265.5 100.1 L265.7 101.1 L265.9 102.1 L265.9 103.2 L265.8 104.2 L265.5 105.1 L265.1 106.0 L264.6 106.9 L264.1 107.7 L263.6 108.5 L263.1 109.3 L262.6 110.1 L262.0 110.9 L261.3 111.5 L260.4 112.0 L259.5 112.2 L258.5 112.1 L257.6 111.9 L256.7 111.7 L255.8 111.4 L254.9 111.2 L254.0 111.0 L253.1 110.8 L252.2 110.4 L251.4 109.8 L250.6 109.1 L250.0 108.3 L249.6 107.3 L249.2 106.4 L248.8 105.4 L248.5 104.4 L248.2 103.4 L247.9 102.4 L247.8 101.3 L247.8 100.2 L248.0 99.2 L248.3 98.2 L248.9 97.4 L249.5 96.6 L250.1 95.9 L250.8 95.2 L251.4 94.6 L252.1 94.0 L252.9 93.6 L253.7 93.2 L254.6 93.0 L255.5 92.9 L256.3 92.8 L257.2 92.9 L258.1 92.9 L259.0 93.0 L260.0 93.2 L260.9 93.4 L261.9 93.8 L262.7 94.4 L263.4 95.2 L264.0 96.1 L264.5 97.1 L264.9 98.1 L265.2 99.1 L265.5 100.1Z"/>
<path stroke="#444" d="M265.0 100.5 L265.1 101.5 L265.2 102.4 L265.2 103.3 L265.1 104.2 L265.0 105.1 L264.7 105.9 L264.2 106.7 L263.7 107.3 L263.1 107.9 L262.4 108.3 L261.8 108.7 L261.2 109.2 L260.7 109.7 L260.1 110.4 L259.5 111.1 L258.8 111.7 L257.9 112.1 L257.0 112.2 L256.1 112.0 L255.3 111.5 L254.5 110.9 L253.8 110.2 L253.2 109.6 L252.5 109.0 L251.8 108.5 L251.1 107.9 L250.5 107.2 L250.0 106.4 L249.7 105.4 L249.6 104.5 L249.7 103.5 L249.8 102.6 L250.0 101.8 L250.0 100.9 L250.0 100.0 L250.0 99.1 L250.2 98.2 L250.4 97.3 L250.9 96.6 L251.6 96.0 L252.3 95.6 L253.1 95.4 L253.9 95.2 L254.6 94.9 L255.3 94.5 L256.0 94.1 L256.7 93.7 L257.6 93.5 L258.5 93.4 L259.3 93.5 L260.2 93.9 L260.9 94.4 L261.6 95.0 L262.3 95.7 L262.9 96.4 L263.4 97.2 L264.0 97.9 L264.4 98.8 L264.7 99.6 L265.0 100.5Z"/>
<path stroke="#444" d="M264.8 100.9 L264.7 101.8 L264.4 102.7 L264.0 103.4 L263.7 104.1 L263.4 104.7 L263.3 105.4 L263.1 106.1 L263.0 106.8 L262.7 107.5 L262.4 108.1 L261.9 108.7 L261.4 109.1 L260.8 109.5 L260.2 109.9 L259.6 110.3 L258.9 110.7 L258.2 111.0 L257.4 111.2 L256.6 111.2 L255.8 110.9 L255.1 110.5 L254.5 109.8 L253.9 109.1 L253.5 108.4 L253.0 107.8 L252.5 107.2 L252.0 106.6 L251.5 106.0 L251.1 105.3 L250.8 104.5 L250.6 103.7 L250.6 102.9 L250.8 102.0 L251.0 101.3 L251.3 100.6 L251.6 99.9 L251.9 99.3 L252.2 98.6 L252.5 98.0 L252.9 97.4 L253.4 96.8 L253.9 96.4 L254.5 95.9 L255.1 95.6 L255.7 95.2 L256.4 95.0 L257.1 94.9 L257.9 94.8 L258.6 95.0 L259.4 95.2 L260.0 95.6 L260.7 96.0 L261.4 96.4 L262.0 96.8 L262.7 97.3 L263.4 97.8 L264.0 98.4 L264.5 99.1 L264.8 100.0 L264.8 100.9Z"/>
<path stroke="#444" d="M263.5 101.6 L263.7 102.2 L263.9 102.9 L264.0 103.6 L264.0 104.3 L263.9 105.0 L263.8 105.7 L263.5 106.3 L263.1 106.9 L262.8 107.4 L262.4 107.9 L261.9 108.4 L261.4 108.8 L260.8 109.1 L260.2 109.3 L259.6 109.4 L259.0 109.4 L258.4 109.3 L257.8 109.3 L257.2 109.2 L256.6 109.1 L256.0 108.9 L255.4 108.7 L254.8 108.4 L254.3 108.0 L253.8 107.5 L253.4 107.0 L253.0 106.4 L252.7 105.8 L252.4 105.2 L252.2 104.5 L252.0 103.8 L251.8 103.1 L251.8 102.4 L251.9 101.7 L252.2 101.0 L252.4 100.4 L252.8 99.8 L253.1 99.3 L253.5 98.8 L253.9 98.3 L254.3 97.9 L254.7 97.4 L255.2 97.1 L255.8 96.8 L256.4 96.6 L257.0 96.4 L257.6 96.4 L258.2 96.4 L258.8 96.4 L259.5 96.5 L260.1 96.7 L260.7 97.0 L261.2 97.4 L261.7 97.9 L262.1 98.5 L262.5 99.1 L262.7 99.8 L263.0 100.4 L263.2 101.0 L263.5 101.6Z"/>
<path stroke="#444" d="M263.4 102.0 L263.6 102.6 L263.8 103.2 L263.9 103.8 L263.8 104.5 L263.6 105.0 L263.3 105.6 L262.9 106.0 L262.5 106.4 L262.1 106.7 L261.7 107.0 L261.3 107.4 L261.0 107.7 L260.6 108.0 L260.1 108.3 L259.7 108.4 L259.2 108.5 L258.7 108.5 L258.2 108.4 L257.7 108.3 L257.2 108.2 L256.7 108.1 L256.2 108.0 L255.7 107.8 L255.2 107.5 L254.7 107.2 L254.3 106.8 L253.9 106.3 L253.6 105.7 L253.4 105.2 L253.1 104.6 L253.0 104.0 L253.0 103.3 L253.0 102.7 L253.2 102.1 L253.5 101.6 L253.9 101.2 L254.3 100.8 L254.6 100.4 L254.9 100.1 L255.2 99.7 L255.4 99.2 L255.7 98.7 L256.0 98.2 L256.4 97.8 L256.9 97.5 L257.4 97.4 L258.0 97.4 L258.5 97.6 L259.0 97.8 L259.5 98.1 L260.0 98.4 L260.4 98.7 L260.8 99.0 L261.2 99.3 L261.6 99.7 L262.0 100.1 L262.4 100.5 L262.7 101.0 L263.0 101.4 L263.4 102.0Z"/>
<path stroke="#444" d="M262.4 102.6 L262.4 103.0 L262.4 103.4 L262.4 103.9 L262.5 104.3 L262.4 104.8 L262.3 105.2 L262.2 105.6 L262.0 106.0 L261.8 106.4 L261.5 106.7 L261.3 107.1 L261.0 107.5 L260.7 107.9 L260.4 108.2 L259.9 108.4 L259.5 108.4 L259.0 108.3 L258.6 108.1 L258.2 107.8 L257.8 107.5 L257.5 107.2 L257.1 107.0 L256.8 106.8 L256.4 106.6 L256.0 106.4 L255.7 106.1 L255.4 105.8 L255.1 105.4 L254.9 105.0 L254.7 104.5 L254.6 104.0 L254.4 103.6 L254.4 103.1 L254.4 102.6 L254.6 102.1 L254.9 101.7 L255.2 101.4 L255.6 101.2 L255.9 100.9 L256.2 100.7 L256.5 100.4 L256.7 100.0 L256.9 99.6 L257.1 99.1 L257.5 98.8 L257.9 98.6 L258.4 98.6 L258.8 98.7 L259.3 98.9 L259.7 99.2 L260.0 99.5 L260.4 99.7 L260.8 99.9 L261.2 100.1 L261.6 100.4 L261.9 100.7 L262.1 101.2 L262.3 101.6 L262.3 102.1 L262.4 102.6Z"/>
<path stroke="#444" d="M261.9 103.0 L261.9 103.4 L262.0 103.7 L262.0 104.0 L262.0 104.4 L262.0 104.7 L261.9 105.1 L261.9 105.4 L261.7 105.8 L261.5 106.1 L261.3 106.3 L261.1 106.5 L260.8 106.7 L260.5 106.8 L260.2 106.9 L259.9 106.9 L259.6 107.0 L259.3 107.0 L259.0 107.0 L258.6 107.0 L258.3 107.0 L258.0 106.9 L257.7 106.8 L257.4 106.6 L257.1 106.3 L256.9 106.1 L256.7 105.8 L256.6 105.4 L256.5 105.1 L256.3 104.8 L256.2 104.5 L256.1 104.1 L256.1 103.8 L256.0 103.4 L256.0 103.1 L256.1 102.7 L256.1 102.4 L256.2 102.1 L256.4 101.7 L256.6 101.5 L256.8 101.2 L257.0 101.0 L257.3 100.8 L257.6 100.6 L257.9 100.5 L258.2 100.5 L258.5 100.5 L258.8 100.5 L259.1 100.6 L259.4 100.6 L259.8 100.6 L260.1 100.7 L260.4 100.8 L260.7 100.9 L261.0 101.1 L261.2 101.4 L261.5 101.7 L261.6 102.0 L261.8 102.3 L261.8 102.7 L261.9 103.0Z"/>
<path stroke="#444" d="M261.4 103.5 L261.4 103.7 L261.5 104.0 L261.5 104.2 L261.4 104.4 L261.4 104.7 L261.3 104.9 L261.2 105.1 L261.1 105.3 L261.0 105.5 L260.8 105.6 L260.7 105.8 L260.5 105.9 L260.3 106.0 L260.1 106.0 L259.9 106.1 L259.7 106.2 L259.5 106.3 L259.3 106.4 L259.1 106.4 L258.8 106.4 L258.6 106.4 L258.4 106.3 L258.2 106.1 L258.0 105.9 L257.9 105.7 L257.8 105.4 L257.7 105.2 L257.7 104.9 L257.6 104.7 L257.6 104.5 L257.6 104.2 L257.6 104.0 L257.6 103.8 L257.6 103.6 L257.6 103.4 L257.6 103.1 L257.6 102.9 L257.6 102.7 L257.7 102.4 L257.8 102.2 L258.0 102.0 L258.2 101.9 L258.4 101.8 L258.6 101.7 L258.8 101.7 L259.0 101.7 L259.3 101.7 L259.5 101.7 L259.7 101.7 L259.9 101.8 L260.1 101.9 L260.3 102.0 L260.5 102.1 L260.7 102.3 L260.8 102.5 L260.9 102.7 L261.1 102.8 L261.2 103.1 L261.3 103.3 L261.4 103.5Z"/>
</g>
<g fill="none" stroke="#777" stroke-width="0.5">
<path d="M263.6 133.1 L262.6 134.1 L261.5 135.0 L260.3 135.8 L259.0 136.5 L257.5 137.1 L256.0 137.6 L254.3 137.9 L252.6 138.0 L250.9 137.8 L249.3 137.3 L247.9 136.7 L246.6 136.0 L245.4 135.2 L244.2 134.3 L243.2 133.5 L242.1 132.5 L241.2 131.5 L240.5 130.4 L240.0 129.2 L239.8 127.9 L239.9 126.7 L240.3 125.4 L240.9 124.3 L241.6 123.2 L242.4 122.1 L243.2 121.1 L244.2 120.1 L245.4 119.1 L246.7 118.4 L248.2 117.9 L249.9 117.6 L251.5 117.5 L253.2 117.6 L254.7 117.8 L256.3 118.1 L257.8 118.4 L259.4 118.8 L260.9 119.3 L262.3 120.0 L263.5 120.9"/>
<path d="M262.8 132.5 L262.0 133.3 L261.0 134.2 L260.0 134.9 L258.8 135.6 L257.5 136.2 L256.0 136.6 L254.5 136.7 L253.1 136.6 L251.6 136.2 L250.3 135.7 L249.1 135.2 L247.9 134.7 L246.7 134.2 L245.4 133.7 L244.2 133.1 L243.1 132.3 L242.3 131.3 L241.8 130.2 L241.7 129.0 L241.8 127.9 L242.0 126.8 L242.3 125.7 L242.6 124.6 L243.0 123.6 L243.7 122.6 L244.6 121.7 L245.7 121.0 L246.9 120.4 L248.1 119.9 L249.4 119.4 L250.7 119.0 L252.1 118.7 L253.5 118.4 L255.0 118.4 L256.5 118.6 L257.9 119.0 L259.1 119.7 L260.3 120.4 L261.3 121.2 L262.2 122.0"/>
<path d="M262.1 131.9 L261.4 132.6 L260.5 133.4 L259.6 134.1 L258.5 134.6 L257.3 135.0 L256.0 135.2 L254.8 135.2 L253.5 135.2 L252.3 135.0 L251.1 134.8 L249.9 134.5 L248.7 134.1 L247.7 133.6 L246.8 133.0 L246.0 132.2 L245.3 131.4 L244.7 130.6 L244.2 129.7 L243.8 128.8 L243.5 127.8 L243.4 126.8 L243.6 125.8 L244.0 124.9 L244.5 124.0 L245.2 123.1 L245.9 122.3 L246.8 121.6 L247.8 120.9 L248.9 120.4 L250.1 120.1 L251.4 119.9 L252.7 119.9 L253.9 120.0 L255.1 120.1 L256.3 120.2 L257.5 120.5 L258.7 120.8 L259.8 121.3 L260.7 121.9 L261.5 122.7"/>
<path d="M261.7 131.5 L261.0 132.2 L260.2 132.8 L259.3 133.2 L258.3 133.6 L257.2 133.9 L256.1 134.1 L255.0 134.2 L253.9 134.1 L252.9 133.9 L251.9 133.7 L250.9 133.5 L249.9 133.2 L248.9 132.9 L247.9 132.4 L247.1 131.8 L246.5 131.1 L246.2 130.2 L246.0 129.4 L245.9 128.6 L245.9 127.8 L245.9 127.0 L245.9 126.1 L246.0 125.3 L246.3 124.5 L246.8 123.8 L247.5 123.1 L248.3 122.5 L249.2 122.0 L250.1 121.5 L251.1 121.1 L252.1 120.9 L253.2 120.7 L254.3 120.7 L255.4 120.8 L256.5 121.0 L257.5 121.3 L258.5 121.6 L259.5 122.0 L260.3 122.6 L261.1 123.2"/>
<path d="M260.7 130.7 L260.2 131.3 L259.6 131.8 L258.8 132.3 L258.0 132.7 L257.2 133.0 L256.3 133.3 L255.3 133.4 L254.4 133.4 L253.4 133.3 L252.6 133.0 L251.8 132.6 L251.1 132.1 L250.5 131.7 L249.8 131.2 L249.2 130.7 L248.7 130.2 L248.2 129.7 L247.8 129.1 L247.6 128.4 L247.4 127.7 L247.3 127.0 L247.3 126.3 L247.5 125.6 L247.8 124.9 L248.2 124.3 L248.9 123.7 L249.6 123.3 L250.4 122.9 L251.2 122.6 L252.0 122.3 L252.9 122.1 L253.8 121.9 L254.7 121.8 L255.6 121.9 L256.5 122.1 L257.3 122.4 L258.1 122.7 L258.8 123.1 L259.6 123.5 L260.3 124.0"/>
<path d="M259.7 130.0 L259.3 130.4 L258.8 130.8 L258.3 131.2 L257.7 131.5 L257.0 131.7 L256.3 131.9 L255.6 131.9 L254.8 131.9 L254.1 131.8 L253.4 131.7 L252.7 131.6 L252.0 131.4 L251.4 131.2 L250.7 130.8 L250.1 130.4 L249.7 130.0 L249.3 129.4 L249.1 128.9 L249.1 128.3 L249.1 127.7 L249.2 127.1 L249.4 126.6 L249.7 126.1 L250.0 125.6 L250.3 125.1 L250.7 124.7 L251.2 124.3 L251.7 123.9 L252.3 123.6 L253.0 123.4 L253.7 123.2 L254.4 123.1 L255.1 123.1 L255.8 123.1 L256.5 123.1 L257.3 123.2 L258.0 123.4 L258.7 123.7 L259.3 124.1 L259.8 124.5"/>
<path d="M259.0 129.4 L258.8 129.8 L258.4 130.1 L258.0 130.4 L257.5 130.7 L257.0 130.8 L256.4 130.9 L255.8 130.9 L255.3 130.8 L254.7 130.8 L254.2 130.7 L253.7 130.5 L253.2 130.4 L252.7 130.2 L252.3 129.9 L251.9 129.6 L251.5 129.3 L251.3 128.9 L251.1 128.5 L251.1 128.1 L251.1 127.6 L251.1 127.2 L251.2 126.8 L251.3 126.4 L251.4 126.0 L251.7 125.6 L252.0 125.3 L252.4 125.0 L252.9 124.7 L253.3 124.5 L253.8 124.3 L254.4 124.2 L254.9 124.1 L255.5 124.0 L256.0 124.1 L256.6 124.2 L257.1 124.4 L257.5 124.6 L258.0 124.8 L258.4 125.1 L258.8 125.4"/>
<path d="M258.2 128.8 L258.0 129.0 L257.8 129.2 L257.5 129.4 L257.2 129.6 L256.8 129.7 L256.5 129.8 L256.1 129.8 L255.7 129.8 L255.3 129.7 L255.0 129.7 L254.6 129.6 L254.3 129.5 L254.0 129.3 L253.7 129.1 L253.5 128.9 L253.3 128.6 L253.2 128.4 L253.0 128.1 L252.9 127.9 L252.8 127.6 L252.7 127.3 L252.7 127.0 L252.8 126.7 L253.0 126.4 L253.3 126.2 L253.5 126.0 L253.8 125.8 L254.1 125.6 L254.4 125.5 L254.7 125.3 L255.1 125.3 L255.5 125.2 L255.8 125.2 L256.2 125.3 L256.6 125.3 L256.9 125.4 L257.3 125.5 L257.6 125.6 L257.9 125.8 L258.1 126.0"/>
</g>
<path d="M269.6 99.2 Q276 104 281 111 Q285 116 290 109 M270 122 Q278 113 284 118 Q290 126 287 130" fill="none" stroke="#888" stroke-width="0.5"/>
<ellipse cx="258" cy="104" rx="4.5" ry="9" fill="#666" fill-opacity="0.3"/>
<ellipse cx="256" cy="103" rx="1.6" ry="3" fill="#fff"/>
<path d="M280.7 114.7h0.8v0.8h-0.8zM284.5 102.8h0.8v0.8h-0.8zM281.2 126.9h0.8v0.8h-0.8zM275.4 134.9h0.8v0.8h-0.8zM285.8 94.9h0.8v0.8h-0.8zM291.8 109.0h0.8v0.8h-0.8zM276.9 117.6h0.8v0.8h-0.8zM287.2 99.4h0.8v0.8h-0.8zM281.3 96.3h0.8v0.8h-0.8zM283.6 99.6h0.8v0.8h-0.8zM278.4 126.6h0.8v0.8h-0.8zM271.4 108.4h0.8v0.8h-0.8zM298.4 124.9h0.8v0.8h-0.8zM272.0 125.4h0.8v0.8h-0.8zM287.8 103.8h0.8v0.8h-0.8zM276.6 108.0h0.8v0.8h-0.8zM281.5 115.0h0.8v0.8h-0.8zM284.1 99.4h0.8v0.8h-0.8zM293.3 134.4h0.8v0.8h-0.8zM287.9 106.1h0.8v0.8h-0.8zM284.4 110.1h0.8v0.8h-0.8zM276.2 128.7h0.8v0.8h-0.8zM286.4 130.6h0.8v0.8h-0.8zM281.0 126.7h0.8v0.8h-0.8zM287.0 124.6h0.8v0.8h-0.8zM267.6 103.9h0.8v0.8h-0.8zM248.5 75.6h0.8v0.8h-0.8zM271.1 110.9h0.8v0.8h-0.8zM270.1 135.0h0.8v0.8h-0.8zM223.6 125.2h0.8v0.8h-0.8zM250.6 118.9h0.8v0.8h-0.8zM246.9 99.3h0.8v0.8h-0.8zM271.2 100.4h0.8v0.8h-0.8zM269.5 127.2h0.8v0.8h-0.8zM225.4 95.7h0.8v0.8h-0.8zM272.0 129.7h0.8v0.8h-0.8zM277.4 105.3h0.8v0.8h-0.8zM251.8 123.1h0.8v0.8h-0.8zM264.6 100.3h0.8v0.8h-0.8zM242.6 92.1h0.8v0.8h-0.8zM234.5 115.7h0.8v0.8h-0.8zM260.5 77.0h0.8v0.8h-0.8zM245.6 116.9h0.8v0.8h-0.8zM239.5 105.3h0.8v0.8h-0.8zM246.4 97.8h0.8v0.8h-0.8zM282.5 115.3h0.8v0.8h-0.8zM264.1 117.9h0.8v0.8h-0.8zM258.5 81.6h0.8v0.8h-0.8zM213.5 105.5h0.8v0.8h-0.8zM259.9 108.6h0.8v0.8h-0.8zM254.0 105.5h0.8v0.8h-0.8zM258.0 127.0h0.8v0.8h-0.8zM247.5 127.0h0.8v0.8h-0.8zM226.3 82.1h0.8v0.8h-0.8zM265.1 83.4h0.8v0.8h-0.8zM260.5 152.8h0.8v0.8h-0.8zM251.3 94.5h0.8v0.8h-0.8zM275.6 139.0h0.8v0.8h-0.8zM232.2 91.5h0.8v0.8h-0.8zM239.2 106.1h0.8v0.8h-0.8zM263.9 79.4h0.8v0.8h-0.8zM252.8 76.6h0.8v0.8h-0.8zM255.6 97.2h0.8v0.8h-0.8z" fill="#333" fill-opacity="0.6"/>
<rect x="225.70" y="75.40" width="37.80" height="40.80" fill="none" stroke="#333" stroke-width="1.1"/>
<rect x="220.00" y="117.60" width="43.20" height="21.40" fill="none" stroke="#777" stroke-width="0.8"/>
<rect x="268.30" y="96.90" width="34.40" height="43.10" fill="none" stroke="#333" stroke-width="1.0"/>
<text x="202.50" y="64.80" font-size="5.4" text-anchor="start" fill="#444" stroke="#444" stroke-width="0.15">HSC</text>
<text x="202.50" y="71.80" font-size="5.4" text-anchor="start" fill="#444" stroke="#444" stroke-width="0.15">56.9</text>
<text x="221.00" y="155.10" font-size="5.4" text-anchor="start" fill="#444" stroke="#444" stroke-width="0.15">MPP</text>
<text x="221.00" y="161.40" font-size="5.4" text-anchor="start" fill="#444" stroke="#444" stroke-width="0.15">11.2</text>
<text x="280.80" y="155.10" font-size="5.4" text-anchor="start" fill="#444" stroke="#444" stroke-width="0.15">LMPP</text>
<text x="280.80" y="161.40" font-size="5.4" text-anchor="start" fill="#444" stroke="#444" stroke-width="0.15">8.12</text>
<line x1="319.50" y1="55.00" x2="319.50" y2="176.00" stroke="#e4e4e4" stroke-width="0.8"/>
<text x="311.50" y="59.50" font-size="4.5" text-anchor="middle" fill="#888" stroke="#888" stroke-width="0.15">FTP</text>
<line x1="306.50" y1="56.20" x2="316.50" y2="56.20" stroke="#888" stroke-width="0.6"/>
<line x1="388.00" y1="80.50" x2="388.00" y2="163.10" stroke="#111" stroke-width="1.0"/>
<line x1="388.00" y1="163.10" x2="511.00" y2="163.10" stroke="#111" stroke-width="1.0"/>
<line x1="385.50" y1="163.10" x2="388.00" y2="163.10" stroke="#111" stroke-width="1.0"/>
<text x="385.00" y="166.45" font-size="9.4" font-weight="bold" text-anchor="end" fill="#111">0.0</text>
<line x1="385.50" y1="146.68" x2="388.00" y2="146.68" stroke="#111" stroke-width="1.0"/>
<text x="385.00" y="150.03" font-size="9.4" font-weight="bold" text-anchor="end" fill="#111">0.2</text>
<line x1="385.50" y1="130.26" x2="388.00" y2="130.26" stroke="#111" stroke-width="1.0"/>
<text x="385.00" y="133.61" font-size="9.4" font-weight="bold" text-anchor="end" fill="#111">0.4</text>
<line x1="385.50" y1="113.84" x2="388.00" y2="113.84" stroke="#111" stroke-width="1.0"/>
<text x="385.00" y="117.19" font-size="9.4" font-weight="bold" text-anchor="end" fill="#111">0.6</text>
<line x1="385.50" y1="97.42" x2="388.00" y2="97.42" stroke="#111" stroke-width="1.0"/>
<text x="385.00" y="100.77" font-size="9.4" font-weight="bold" text-anchor="end" fill="#111">0.8</text>
<line x1="385.50" y1="81.00" x2="388.00" y2="81.00" stroke="#111" stroke-width="1.0"/>
<text x="385.00" y="84.35" font-size="9.4" font-weight="bold" text-anchor="end" fill="#111">1.0</text>
<line x1="388.00" y1="163.10" x2="388.00" y2="165.60" stroke="#111" stroke-width="1.0"/>
<text x="388.00" y="174.70" font-size="9.4" font-weight="bold" text-anchor="middle" fill="#111">0</text>
<line x1="412.66" y1="163.10" x2="412.66" y2="165.60" stroke="#111" stroke-width="1.0"/>
<text x="412.66" y="174.70" font-size="9.4" font-weight="bold" text-anchor="middle" fill="#111">20</text>
<line x1="437.32" y1="163.10" x2="437.32" y2="165.60" stroke="#111" stroke-width="1.0"/>
<text x="437.32" y="174.70" font-size="9.4" font-weight="bold" text-anchor="middle" fill="#111">40</text>
<line x1="461.98" y1="163.10" x2="461.98" y2="165.60" stroke="#111" stroke-width="1.0"/>
<text x="461.98" y="174.70" font-size="9.4" font-weight="bold" text-anchor="middle" fill="#111">60</text>
<line x1="486.64" y1="163.10" x2="486.64" y2="165.60" stroke="#111" stroke-width="1.0"/>
<text x="486.64" y="174.70" font-size="9.4" font-weight="bold" text-anchor="middle" fill="#111">80</text>
<line x1="511.30" y1="163.10" x2="511.30" y2="165.60" stroke="#111" stroke-width="1.0"/>
<text x="511.30" y="174.70" font-size="9.4" font-weight="bold" text-anchor="middle" fill="#111">100</text>
<text x="361.40" y="121.70" font-size="8.6" font-weight="bold" text-anchor="middle" fill="#111" transform="rotate(-90 361.40 121.70)">HSC Variant Allele %</text>
<text x="449.80" y="191.20" font-size="8.9" font-weight="bold" text-anchor="middle" fill="#111">Tumor Variant Allele %</text>
<text x="449.60" y="63.60" font-size="10" font-weight="bold" text-anchor="middle" fill="#111">DLBCL004</text>
<rect x="388.0" y="161.5" width="62" height="3.2" fill="#111"/>
<rect x="450.0" y="161.8" width="26" height="2.6" fill="#111"/>
<circle cx="390.47" cy="163.10" r="1.9" fill="#111" stroke="none" stroke-width="0"/>
<circle cx="394.17" cy="163.10" r="1.9" fill="#111" stroke="none" stroke-width="0"/>
<circle cx="397.86" cy="163.10" r="1.9" fill="#111" stroke="none" stroke-width="0"/>
<circle cx="401.56" cy="163.10" r="1.9" fill="#111" stroke="none" stroke-width="0"/>
<circle cx="405.26" cy="163.10" r="1.9" fill="#111" stroke="none" stroke-width="0"/>
<circle cx="410.19" cy="163.10" r="1.9" fill="#111" stroke="none" stroke-width="0"/>
<circle cx="415.13" cy="163.10" r="1.9" fill="#111" stroke="none" stroke-width="0"/>
<circle cx="418.82" cy="163.10" r="1.9" fill="#111" stroke="none" stroke-width="0"/>
<circle cx="423.76" cy="163.10" r="1.9" fill="#111" stroke="none" stroke-width="0"/>
<circle cx="428.69" cy="163.10" r="1.9" fill="#111" stroke="none" stroke-width="0"/>
<circle cx="432.39" cy="163.10" r="1.9" fill="#111" stroke="none" stroke-width="0"/>
<circle cx="438.55" cy="163.10" r="1.9" fill="#111" stroke="none" stroke-width="0"/>
<circle cx="442.25" cy="163.10" r="1.9" fill="#111" stroke="none" stroke-width="0"/>
<circle cx="447.18" cy="163.10" r="1.9" fill="#111" stroke="none" stroke-width="0"/>
<circle cx="450.88" cy="163.10" r="1.9" fill="#111" stroke="none" stroke-width="0"/>
<circle cx="455.81" cy="163.10" r="1.9" fill="#111" stroke="none" stroke-width="0"/>
<circle cx="459.51" cy="163.10" r="1.9" fill="#111" stroke="none" stroke-width="0"/>
<circle cx="465.68" cy="163.10" r="1.9" fill="#111" stroke="none" stroke-width="0"/>
<circle cx="469.38" cy="163.10" r="1.9" fill="#111" stroke="none" stroke-width="0"/>
<circle cx="474.31" cy="163.10" r="1.9" fill="#111" stroke="none" stroke-width="0"/>
<circle cx="476.78" cy="163.10" r="1.9" fill="#111" stroke="none" stroke-width="0"/>
<circle cx="486.64" cy="163.10" r="1.9" fill="#111" stroke="none" stroke-width="0"/>
<polygon points="432.2,160.5 438.6,160.5 435.4,166.0" fill="#cc2b2b"/>
<rect x="449.10" y="160.50" width="5.20" height="5.20" fill="#cc2b2b" stroke="none" stroke-width="1"/>
<polygon points="462.7,159.9 465.9,163.1 462.7,166.3 459.5,163.1" fill="#cc2b2b"/>
<rect x="467.40" y="160.10" width="6.00" height="6.00" fill="#cc2b2b" stroke="none" stroke-width="1"/>
<polygon points="463.3,165.7 469.7,165.7 466.5,160.2" fill="#cc2b2b"/>
<rect x="472.00" y="79.80" width="6.40" height="6.40" fill="#cc2b2b" stroke="none" stroke-width="1"/>
<polygon points="471.6,95.3 478.8,95.3 475.2,89.2" fill="#cc2b2b"/>
<polygon points="471.6,99.1 478.8,99.1 475.2,105.2" fill="#cc2b2b"/>
<polygon points="475.2,108.5 478.7,112.0 475.2,115.5 471.7,112.0" fill="#cc2b2b"/>
<text x="484.00" y="85.50" font-size="7" text-anchor="start" fill="#333">PIM1</text>
<text x="484.00" y="95.00" font-size="7" text-anchor="start" fill="#333">IRF8</text>
<text x="484.00" y="104.50" font-size="7" text-anchor="start" fill="#333">PIK3C2G</text>
<text x="484.00" y="114.50" font-size="7" text-anchor="start" fill="#333">BTG1</text>
<text x="17.50" y="296.40" font-size="8.7" text-anchor="middle" fill="#111" stroke="#111" stroke-width="0.12" transform="rotate(-90 17.50 296.40)">Fraction of mutations (%)</text>
<text x="16.40" y="432.60" font-size="8.7" text-anchor="middle" fill="#111" stroke="#111" stroke-width="0.12" transform="rotate(-90 16.40 432.60)">Fraction of mutations (%)</text>
<line x1="37.00" y1="263.80" x2="146.70" y2="263.80" stroke="#d0d0d0" stroke-width="0.9"/>
<line x1="36.80" y1="263.30" x2="36.80" y2="337.50" stroke="#777" stroke-width="0.9"/>
<line x1="34.60" y1="337.00" x2="36.80" y2="337.00" stroke="#777" stroke-width="0.9"/>
<text x="35.00" y="340.10" font-size="8.7" text-anchor="end" fill="#222" stroke="#222" stroke-width="0.2">0</text>
<line x1="34.60" y1="322.36" x2="36.80" y2="322.36" stroke="#777" stroke-width="0.9"/>
<text x="35.00" y="325.46" font-size="8.7" text-anchor="end" fill="#222" stroke="#222" stroke-width="0.2">20</text>
<line x1="34.60" y1="307.72" x2="36.80" y2="307.72" stroke="#777" stroke-width="0.9"/>
<text x="35.00" y="310.82" font-size="8.7" text-anchor="end" fill="#222" stroke="#222" stroke-width="0.2">40</text>
<line x1="34.60" y1="293.08" x2="36.80" y2="293.08" stroke="#777" stroke-width="0.9"/>
<text x="35.00" y="296.18" font-size="8.7" text-anchor="end" fill="#222" stroke="#222" stroke-width="0.2">60</text>
<line x1="34.60" y1="278.44" x2="36.80" y2="278.44" stroke="#777" stroke-width="0.9"/>
<text x="35.00" y="281.54" font-size="8.7" text-anchor="end" fill="#222" stroke="#222" stroke-width="0.2">80</text>
<line x1="34.60" y1="263.80" x2="36.80" y2="263.80" stroke="#777" stroke-width="0.9"/>
<text x="35.00" y="266.90" font-size="8.7" text-anchor="end" fill="#222" stroke="#222" stroke-width="0.2">100</text>
<line x1="44.00" y1="344.20" x2="72.90" y2="344.20" stroke="#555" stroke-width="1.0" stroke-dasharray="2.2 2.6"/>
<line x1="72.90" y1="344.20" x2="145.50" y2="344.20" stroke="#444" stroke-width="0.9"/>
<line x1="72.90" y1="342.60" x2="72.90" y2="344.20" stroke="#444" stroke-width="0.9"/>
<text x="72.90" y="355.40" font-size="8.7" text-anchor="middle" fill="#111" stroke="#111" stroke-width="0.2">0</text>
<line x1="97.10" y1="342.60" x2="97.10" y2="344.20" stroke="#444" stroke-width="0.9"/>
<text x="97.10" y="355.40" font-size="8.7" text-anchor="middle" fill="#111" stroke="#111" stroke-width="0.2">60</text>
<line x1="121.20" y1="342.60" x2="121.20" y2="344.20" stroke="#444" stroke-width="0.9"/>
<text x="121.20" y="355.40" font-size="8.7" text-anchor="middle" fill="#111" stroke="#111" stroke-width="0.2">120</text>
<line x1="145.40" y1="342.60" x2="145.40" y2="344.20" stroke="#444" stroke-width="0.9"/>
<text x="145.40" y="355.40" font-size="8.7" text-anchor="middle" fill="#111" stroke="#111" stroke-width="0.2">180</text>
<text x="70.00" y="259.60" font-size="8.7" text-anchor="start" fill="#111" stroke="#111" stroke-width="0.12">DLBCL012</text>
<line x1="45.08" y1="334.24" x2="56.86" y2="270.98" stroke="#777" stroke-width="0.75"/>
<polygon points="57.14,269.50 58.07,272.32 55.26,271.80" fill="#111"/>
<circle cx="44.60" cy="336.80" r="2.5" fill="#fff" stroke="#999" stroke-width="0.8"/>
<line x1="60.50" y1="263.80" x2="67.45" y2="263.80" stroke="#444" stroke-width="0.8"/>
<polygon points="69.20,263.80 66.70,265.18 66.70,262.43" fill="#111"/>
<line x1="75.50" y1="263.80" x2="120.25" y2="263.80" stroke="#7a7a7a" stroke-width="0.8"/>
<polygon points="122.00,263.80 119.50,265.18 119.50,262.43" fill="#111"/>
<circle cx="58.20" cy="263.80" r="2.75" fill="#9a9a9a" stroke="none" stroke-width="0"/>
<circle cx="72.80" cy="263.80" r="2.75" fill="#e47f2a" stroke="none" stroke-width="0"/>
<circle cx="125.80" cy="263.80" r="2.75" fill="#98c9ef" stroke="none" stroke-width="0"/>
<text x="65.80" y="275.00" font-size="7.8" text-anchor="middle" fill="#222" stroke="#222" stroke-width="0.08">0</text>
<text x="94.80" y="274.90" font-size="7.8" text-anchor="middle" fill="#222" stroke="#222" stroke-width="0.08">0</text>
<text x="45.20" y="299.30" font-size="7.8" text-anchor="middle" fill="#222" stroke="#222" stroke-width="0.08">100</text>
<text x="95.40" y="364.80" font-size="8.7" text-anchor="middle" fill="#111" stroke="#111" stroke-width="0.12">Days from diagnosis</text>
<rect x="171.50" y="261.80" width="107.50" height="4.80" fill="#d4e2bf" stroke="none" stroke-width="1"/>
<line x1="171.50" y1="261.90" x2="171.50" y2="335.90" stroke="#777" stroke-width="0.9"/>
<line x1="169.30" y1="335.40" x2="171.50" y2="335.40" stroke="#777" stroke-width="0.9"/>
<text x="169.70" y="338.50" font-size="8.7" text-anchor="end" fill="#222" stroke="#222" stroke-width="0.2">0</text>
<line x1="169.30" y1="320.80" x2="171.50" y2="320.80" stroke="#777" stroke-width="0.9"/>
<text x="169.70" y="323.90" font-size="8.7" text-anchor="end" fill="#222" stroke="#222" stroke-width="0.2">20</text>
<line x1="169.30" y1="306.20" x2="171.50" y2="306.20" stroke="#777" stroke-width="0.9"/>
<text x="169.70" y="309.30" font-size="8.7" text-anchor="end" fill="#222" stroke="#222" stroke-width="0.2">40</text>
<line x1="169.30" y1="291.60" x2="171.50" y2="291.60" stroke="#777" stroke-width="0.9"/>
<text x="169.70" y="294.70" font-size="8.7" text-anchor="end" fill="#222" stroke="#222" stroke-width="0.2">60</text>
<line x1="169.30" y1="277.00" x2="171.50" y2="277.00" stroke="#777" stroke-width="0.9"/>
<text x="169.70" y="280.10" font-size="8.7" text-anchor="end" fill="#222" stroke="#222" stroke-width="0.2">80</text>
<line x1="169.30" y1="262.40" x2="171.50" y2="262.40" stroke="#777" stroke-width="0.9"/>
<text x="169.70" y="265.50" font-size="8.7" text-anchor="end" fill="#222" stroke="#222" stroke-width="0.2">100</text>
<line x1="177.70" y1="342.40" x2="203.20" y2="342.40" stroke="#555" stroke-width="1.0" stroke-dasharray="2.2 2.6"/>
<line x1="203.20" y1="342.40" x2="279.00" y2="342.40" stroke="#444" stroke-width="0.9"/>
<line x1="203.20" y1="340.80" x2="203.20" y2="342.40" stroke="#444" stroke-width="0.9"/>
<text x="203.20" y="353.60" font-size="8.7" text-anchor="middle" fill="#111" stroke="#111" stroke-width="0.2">0</text>
<line x1="228.40" y1="340.80" x2="228.40" y2="342.40" stroke="#444" stroke-width="0.9"/>
<text x="228.40" y="353.60" font-size="8.7" text-anchor="middle" fill="#111" stroke="#111" stroke-width="0.2">300</text>
<line x1="253.60" y1="340.80" x2="253.60" y2="342.40" stroke="#444" stroke-width="0.9"/>
<text x="253.60" y="353.60" font-size="8.7" text-anchor="middle" fill="#111" stroke="#111" stroke-width="0.2">600</text>
<line x1="278.80" y1="340.80" x2="278.80" y2="342.40" stroke="#444" stroke-width="0.9"/>
<text x="278.80" y="353.60" font-size="8.7" text-anchor="middle" fill="#111" stroke="#111" stroke-width="0.2">900</text>
<text x="203.30" y="257.70" font-size="8.7" text-anchor="start" fill="#111" stroke="#111" stroke-width="0.12">DLBCL006</text>
<line x1="179.04" y1="332.24" x2="189.18" y2="273.09" stroke="#777" stroke-width="0.75"/>
<polygon points="189.44,271.61 190.41,274.41 187.59,273.93" fill="#111"/>
<circle cx="178.60" cy="334.80" r="2.5" fill="#fff" stroke="#999" stroke-width="0.8"/>
<line x1="193.00" y1="265.00" x2="195.86" y2="264.63" stroke="#8f9985" stroke-width="0.8"/>
<polygon points="197.60,264.40 195.30,266.09 194.94,263.36" fill="#111"/>
<line x1="206.00" y1="264.00" x2="251.65" y2="264.19" stroke="#8f9985" stroke-width="0.8"/>
<polygon points="253.40,264.20 250.89,265.56 250.91,262.81" fill="#111"/>
<circle cx="190.50" cy="265.40" r="2.75" fill="#9a9a9a" stroke="none" stroke-width="0"/>
<circle cx="203.20" cy="264.10" r="2.75" fill="#e47f2a" stroke="none" stroke-width="0"/>
<circle cx="258.50" cy="264.20" r="2.75" fill="#98c9ef" stroke="none" stroke-width="0"/>
<text x="197.00" y="275.20" font-size="7.8" text-anchor="middle" fill="#222" stroke="#222" stroke-width="0.08">3</text>
<text x="224.50" y="274.20" font-size="7.8" text-anchor="middle" fill="#222" stroke="#222" stroke-width="0.08">2</text>
<text x="178.40" y="303.40" font-size="7.8" text-anchor="middle" fill="#222" stroke="#222" stroke-width="0.08">95</text>
<text x="190.20" y="291.00" font-size="6.9" text-anchor="start" fill="#222">CD79B</text>
<text x="190.20" y="299.60" font-size="6.9" text-anchor="start" fill="#222">BTG1</text>
<text x="190.20" y="308.20" font-size="6.9" text-anchor="start" fill="#222">PIM1</text>
<text x="190.20" y="316.80" font-size="6.9" text-anchor="start" fill="#222">NFKBIA</text>
<text x="190.20" y="325.40" font-size="6.9" text-anchor="start" fill="#222">BCL2</text>
<text x="190.20" y="334.00" font-size="6.9" text-anchor="start" fill="#222">TBL1XR1</text>
<text x="228.80" y="364.40" font-size="8.7" text-anchor="middle" fill="#111" stroke="#111" stroke-width="0.12">Days from diagnosis</text>
<rect x="313.50" y="261.80" width="106.90" height="4.80" fill="#d4e2bf" stroke="none" stroke-width="1"/>
<line x1="313.50" y1="261.90" x2="313.50" y2="335.90" stroke="#777" stroke-width="0.9"/>
<line x1="311.30" y1="335.40" x2="313.50" y2="335.40" stroke="#777" stroke-width="0.9"/>
<text x="311.70" y="338.50" font-size="8.7" text-anchor="end" fill="#222" stroke="#222" stroke-width="0.2">0</text>
<line x1="311.30" y1="320.80" x2="313.50" y2="320.80" stroke="#777" stroke-width="0.9"/>
<text x="311.70" y="323.90" font-size="8.7" text-anchor="end" fill="#222" stroke="#222" stroke-width="0.2">20</text>
<line x1="311.30" y1="306.20" x2="313.50" y2="306.20" stroke="#777" stroke-width="0.9"/>
<text x="311.70" y="309.30" font-size="8.7" text-anchor="end" fill="#222" stroke="#222" stroke-width="0.2">40</text>
<line x1="311.30" y1="291.60" x2="313.50" y2="291.60" stroke="#777" stroke-width="0.9"/>
<text x="311.70" y="294.70" font-size="8.7" text-anchor="end" fill="#222" stroke="#222" stroke-width="0.2">60</text>
<line x1="311.30" y1="277.00" x2="313.50" y2="277.00" stroke="#777" stroke-width="0.9"/>
<text x="311.70" y="280.10" font-size="8.7" text-anchor="end" fill="#222" stroke="#222" stroke-width="0.2">80</text>
<line x1="311.30" y1="262.40" x2="313.50" y2="262.40" stroke="#777" stroke-width="0.9"/>
<text x="311.70" y="265.50" font-size="8.7" text-anchor="end" fill="#222" stroke="#222" stroke-width="0.2">100</text>
<line x1="319.50" y1="342.80" x2="345.40" y2="342.80" stroke="#555" stroke-width="1.0" stroke-dasharray="2.2 2.6"/>
<line x1="345.40" y1="342.80" x2="420.00" y2="342.80" stroke="#444" stroke-width="0.9"/>
<line x1="345.40" y1="341.20" x2="345.40" y2="342.80" stroke="#444" stroke-width="0.9"/>
<text x="345.40" y="354.00" font-size="8.7" text-anchor="middle" fill="#111" stroke="#111" stroke-width="0.2">0</text>
<line x1="370.20" y1="341.20" x2="370.20" y2="342.80" stroke="#444" stroke-width="0.9"/>
<text x="370.20" y="354.00" font-size="8.7" text-anchor="middle" fill="#111" stroke="#111" stroke-width="0.2">200</text>
<line x1="395.00" y1="341.20" x2="395.00" y2="342.80" stroke="#444" stroke-width="0.9"/>
<text x="395.00" y="354.00" font-size="8.7" text-anchor="middle" fill="#111" stroke="#111" stroke-width="0.2">400</text>
<line x1="419.80" y1="341.20" x2="419.80" y2="342.80" stroke="#444" stroke-width="0.9"/>
<text x="419.80" y="354.00" font-size="8.7" text-anchor="middle" fill="#111" stroke="#111" stroke-width="0.2">600</text>
<text x="344.60" y="257.40" font-size="8.7" text-anchor="start" fill="#111" stroke="#111" stroke-width="0.12">DLBCL002</text>
<line x1="320.25" y1="332.04" x2="330.64" y2="272.79" stroke="#777" stroke-width="0.75"/>
<polygon points="330.90,271.31 331.86,274.12 329.04,273.63" fill="#111"/>
<circle cx="319.80" cy="334.60" r="2.5" fill="#fff" stroke="#999" stroke-width="0.8"/>
<line x1="334.50" y1="265.40" x2="338.45" y2="265.19" stroke="#8f9985" stroke-width="0.8"/>
<polygon points="340.20,265.10 337.78,266.60 337.63,263.86" fill="#111"/>
<line x1="347.50" y1="264.90" x2="394.25" y2="262.97" stroke="#8f9985" stroke-width="0.8"/>
<polygon points="396.00,262.90 393.56,264.38 393.45,261.63" fill="#111"/>
<circle cx="331.90" cy="265.60" r="2.75" fill="#9a9a9a" stroke="none" stroke-width="0"/>
<circle cx="344.90" cy="265.10" r="2.75" fill="#e47f2a" stroke="none" stroke-width="0"/>
<circle cx="400.60" cy="262.90" r="2.75" fill="#98c9ef" stroke="none" stroke-width="0"/>
<text x="339.20" y="275.80" font-size="7.8" text-anchor="middle" fill="#222" stroke="#222" stroke-width="0.08">1</text>
<text x="372.60" y="274.40" font-size="7.8" text-anchor="middle" fill="#222" stroke="#222" stroke-width="0.08">4</text>
<text x="319.80" y="302.00" font-size="7.8" text-anchor="middle" fill="#222" stroke="#222" stroke-width="0.08">95</text>
<text x="331.70" y="291.10" font-size="6.9" text-anchor="start" fill="#222">CD79B</text>
<text x="331.70" y="299.80" font-size="6.9" text-anchor="start" fill="#222">MYD88</text>
<text x="331.70" y="308.50" font-size="6.9" text-anchor="start" fill="#222">PIM1</text>
<text x="331.70" y="317.20" font-size="6.9" text-anchor="start" fill="#222">BTG1</text>
<text x="331.70" y="325.90" font-size="6.9" text-anchor="start" fill="#222">BCL2</text>
<text x="331.70" y="334.60" font-size="6.9" text-anchor="start" fill="#222">TBL1XR1</text>
<text x="369.40" y="364.80" font-size="8.7" text-anchor="middle" fill="#111" stroke="#111" stroke-width="0.12">Days from diagnosis</text>
<rect x="37.80" y="397.90" width="107.00" height="6.20" fill="#d4e2bf" stroke="none" stroke-width="1"/>
<line x1="37.80" y1="398.10" x2="37.80" y2="471.70" stroke="#777" stroke-width="0.9"/>
<line x1="35.60" y1="471.20" x2="37.80" y2="471.20" stroke="#777" stroke-width="0.9"/>
<text x="36.00" y="474.30" font-size="8.7" text-anchor="end" fill="#222" stroke="#222" stroke-width="0.2">0</text>
<line x1="35.60" y1="456.68" x2="37.80" y2="456.68" stroke="#777" stroke-width="0.9"/>
<text x="36.00" y="459.78" font-size="8.7" text-anchor="end" fill="#222" stroke="#222" stroke-width="0.2">20</text>
<line x1="35.60" y1="442.16" x2="37.80" y2="442.16" stroke="#777" stroke-width="0.9"/>
<text x="36.00" y="445.26" font-size="8.7" text-anchor="end" fill="#222" stroke="#222" stroke-width="0.2">40</text>
<line x1="35.60" y1="427.64" x2="37.80" y2="427.64" stroke="#777" stroke-width="0.9"/>
<text x="36.00" y="430.74" font-size="8.7" text-anchor="end" fill="#222" stroke="#222" stroke-width="0.2">60</text>
<line x1="35.60" y1="413.12" x2="37.80" y2="413.12" stroke="#777" stroke-width="0.9"/>
<text x="36.00" y="416.22" font-size="8.7" text-anchor="end" fill="#222" stroke="#222" stroke-width="0.2">80</text>
<line x1="35.60" y1="398.60" x2="37.80" y2="398.60" stroke="#777" stroke-width="0.9"/>
<text x="36.00" y="401.70" font-size="8.7" text-anchor="end" fill="#222" stroke="#222" stroke-width="0.2">100</text>
<line x1="44.70" y1="478.50" x2="89.20" y2="478.50" stroke="#555" stroke-width="1.0" stroke-dasharray="2.2 2.6"/>
<line x1="89.20" y1="478.50" x2="144.80" y2="478.50" stroke="#444" stroke-width="0.9"/>
<line x1="89.20" y1="476.90" x2="89.20" y2="478.50" stroke="#444" stroke-width="0.9"/>
<text x="89.20" y="489.70" font-size="8.7" text-anchor="middle" fill="#111" stroke="#111" stroke-width="0.2">0</text>
<line x1="111.40" y1="476.90" x2="111.40" y2="478.50" stroke="#444" stroke-width="0.9"/>
<text x="111.40" y="489.70" font-size="8.7" text-anchor="middle" fill="#111" stroke="#111" stroke-width="0.2">200</text>
<line x1="133.60" y1="476.90" x2="133.60" y2="478.50" stroke="#444" stroke-width="0.9"/>
<text x="133.60" y="489.70" font-size="8.7" text-anchor="middle" fill="#111" stroke="#111" stroke-width="0.2">400</text>
<text x="70.00" y="393.30" font-size="8.4" font-weight="bold" text-anchor="start" fill="#111" stroke="#111" stroke-width="0.12">DLBCL007</text>
<line x1="45.11" y1="468.03" x2="54.24" y2="411.11" stroke="#777" stroke-width="0.75"/>
<polygon points="54.48,409.63 55.48,412.42 52.66,411.97" fill="#111"/>
<circle cx="44.70" cy="470.60" r="2.5" fill="#fff" stroke="#999" stroke-width="0.8"/>
<line x1="58.00" y1="403.20" x2="60.92" y2="402.38" stroke="#8f9985" stroke-width="0.8"/>
<polygon points="62.60,401.90 60.57,403.90 59.82,401.26" fill="#111"/>
<line x1="69.50" y1="400.40" x2="71.45" y2="400.51" stroke="#8f9985" stroke-width="0.8"/>
<polygon points="73.20,400.60 70.63,401.84 70.78,399.09" fill="#111"/>
<line x1="80.50" y1="400.00" x2="82.90" y2="399.41" stroke="#8f9985" stroke-width="0.8"/>
<polygon points="84.60,399.00 82.50,400.93 81.85,398.26" fill="#111"/>
<line x1="92.00" y1="398.20" x2="95.14" y2="399.25" stroke="#8f9985" stroke-width="0.8"/>
<polygon points="96.80,399.80 93.99,400.31 94.86,397.70" fill="#111"/>
<line x1="96.80" y1="400.00" x2="100.55" y2="400.00" stroke="#8f9985" stroke-width="0.8"/>
<polygon points="102.30,400.00 99.80,401.38 99.80,398.62" fill="#111"/>
<line x1="110.20" y1="399.40" x2="126.05" y2="400.48" stroke="#8f9985" stroke-width="0.8"/>
<polygon points="127.80,400.60 125.21,401.80 125.40,399.06" fill="#111"/>
<line x1="128.00" y1="400.80" x2="131.65" y2="400.80" stroke="#8f9985" stroke-width="0.8"/>
<polygon points="133.40,400.80 130.90,402.18 130.90,399.43" fill="#111"/>
<circle cx="55.40" cy="403.90" r="2.75" fill="#9a9a9a" stroke="none" stroke-width="0"/>
<circle cx="66.90" cy="400.30" r="2.75" fill="#9a9a9a" stroke="none" stroke-width="0"/>
<circle cx="78.30" cy="400.20" r="2.75" fill="#9a9a9a" stroke="none" stroke-width="0"/>
<circle cx="89.40" cy="397.50" r="2.75" fill="#e47f2a" stroke="none" stroke-width="0"/>
<circle cx="107.60" cy="399.00" r="2.75" fill="#98c9ef" stroke="none" stroke-width="0"/>
<circle cx="139.10" cy="400.80" r="2.75" fill="#58a858" stroke="none" stroke-width="0"/>
<text x="61.30" y="413.10" font-size="7.8" text-anchor="middle" fill="#222" stroke="#222" stroke-width="0.08">5</text>
<text x="72.10" y="412.40" font-size="7.8" text-anchor="middle" fill="#222" stroke="#222" stroke-width="0.08">0</text>
<text x="82.80" y="411.40" font-size="7.8" text-anchor="middle" fill="#222" stroke="#222" stroke-width="0.08">4</text>
<text x="97.90" y="411.40" font-size="7.8" text-anchor="middle" fill="#222" stroke="#222" stroke-width="0.08">2</text>
<text x="114.00" y="411.80" font-size="7.8" text-anchor="middle" fill="#222" stroke="#222" stroke-width="0.08">0</text>
<text x="125.40" y="411.80" font-size="7.8" text-anchor="middle" fill="#222" stroke="#222" stroke-width="0.08">0</text>
<text x="83.30" y="420.30" font-size="6.9" text-anchor="start" fill="#b4d7ef">PIK3C2G</text>
<text x="83.30" y="428.30" font-size="6.9" text-anchor="start" fill="#b4d7ef">SOCS1</text>
<text x="43.40" y="441.40" font-size="7.8" text-anchor="middle" fill="#222" stroke="#222" stroke-width="0.08">91</text>
<text x="53.70" y="440.00" font-size="6.9" text-anchor="start" fill="#222">CREBBP</text>
<text x="53.70" y="448.40" font-size="6.9" text-anchor="start" fill="#222">STAT6</text>
<text x="53.70" y="456.60" font-size="6.9" text-anchor="start" fill="#222">TP53</text>
<text x="53.70" y="464.80" font-size="6.9" text-anchor="start" fill="#222">BCL2</text>
<text x="95.00" y="500.20" font-size="8.7" text-anchor="middle" fill="#111" stroke="#111" stroke-width="0.12">Days from diagnosis</text>
<rect x="170.90" y="395.90" width="107.10" height="11.90" fill="#d4e2bf" stroke="none" stroke-width="1"/>
<line x1="170.90" y1="396.30" x2="170.90" y2="469.60" stroke="#777" stroke-width="0.9"/>
<line x1="168.70" y1="469.10" x2="170.90" y2="469.10" stroke="#777" stroke-width="0.9"/>
<text x="169.10" y="472.20" font-size="8.7" text-anchor="end" fill="#222" stroke="#222" stroke-width="0.2">0</text>
<line x1="168.70" y1="454.64" x2="170.90" y2="454.64" stroke="#777" stroke-width="0.9"/>
<text x="169.10" y="457.74" font-size="8.7" text-anchor="end" fill="#222" stroke="#222" stroke-width="0.2">20</text>
<line x1="168.70" y1="440.18" x2="170.90" y2="440.18" stroke="#777" stroke-width="0.9"/>
<text x="169.10" y="443.28" font-size="8.7" text-anchor="end" fill="#222" stroke="#222" stroke-width="0.2">40</text>
<line x1="168.70" y1="425.72" x2="170.90" y2="425.72" stroke="#777" stroke-width="0.9"/>
<text x="169.10" y="428.82" font-size="8.7" text-anchor="end" fill="#222" stroke="#222" stroke-width="0.2">60</text>
<line x1="168.70" y1="411.26" x2="170.90" y2="411.26" stroke="#777" stroke-width="0.9"/>
<text x="169.10" y="414.36" font-size="8.7" text-anchor="end" fill="#222" stroke="#222" stroke-width="0.2">80</text>
<line x1="168.70" y1="396.80" x2="170.90" y2="396.80" stroke="#777" stroke-width="0.9"/>
<text x="169.10" y="399.90" font-size="8.7" text-anchor="end" fill="#222" stroke="#222" stroke-width="0.2">100</text>
<line x1="178.00" y1="476.60" x2="203.60" y2="476.60" stroke="#555" stroke-width="1.0" stroke-dasharray="2.2 2.6"/>
<line x1="203.60" y1="476.60" x2="279.00" y2="476.60" stroke="#444" stroke-width="0.9"/>
<line x1="203.60" y1="475.00" x2="203.60" y2="476.60" stroke="#444" stroke-width="0.9"/>
<text x="203.60" y="487.80" font-size="8.7" text-anchor="middle" fill="#111" stroke="#111" stroke-width="0.2">0</text>
<line x1="241.20" y1="475.00" x2="241.20" y2="476.60" stroke="#444" stroke-width="0.9"/>
<text x="241.20" y="487.80" font-size="8.7" text-anchor="middle" fill="#111" stroke="#111" stroke-width="0.2">1000</text>
<line x1="278.80" y1="475.00" x2="278.80" y2="476.60" stroke="#444" stroke-width="0.9"/>
<text x="278.80" y="487.80" font-size="8.7" text-anchor="middle" fill="#111" stroke="#111" stroke-width="0.2">2000</text>
<text x="203.70" y="391.40" font-size="8.7" text-anchor="start" fill="#111" stroke="#111" stroke-width="0.12">DLBCL024</text>
<line x1="178.71" y1="466.75" x2="189.17" y2="414.56" stroke="#777" stroke-width="0.75"/>
<polygon points="189.46,413.09 190.35,415.92 187.55,415.36" fill="#111"/>
<circle cx="178.20" cy="469.30" r="2.5" fill="#fff" stroke="#999" stroke-width="0.8"/>
<line x1="193.00" y1="405.60" x2="198.28" y2="402.57" stroke="#8f9985" stroke-width="0.8"/>
<polygon points="199.80,401.70 198.32,404.14 196.95,401.75" fill="#111"/>
<line x1="193.80" y1="405.10" x2="251.85" y2="404.61" stroke="#666" stroke-width="0.8"/>
<polygon points="253.60,404.60 251.11,406.00 251.09,403.25" fill="#111"/>
<circle cx="190.60" cy="407.40" r="2.75" fill="#9a9a9a" stroke="none" stroke-width="0"/>
<circle cx="204.20" cy="399.40" r="2.75" fill="#e47f2a" stroke="none" stroke-width="0"/>
<circle cx="259.30" cy="404.70" r="2.75" fill="#98c9ef" stroke="none" stroke-width="0"/>
<text x="192.50" y="402.20" font-size="7.8" text-anchor="middle" fill="#222" stroke="#222" stroke-width="0.08">12</text>
<text x="222.80" y="414.10" font-size="7.8" text-anchor="middle" fill="#222" stroke="#222" stroke-width="0.08">4</text>
<text x="177.80" y="441.00" font-size="7.8" text-anchor="middle" fill="#222" stroke="#222" stroke-width="0.08">84</text>
<text x="188.20" y="440.60" font-size="6.9" text-anchor="start" fill="#222">CREBBP</text>
<text x="188.20" y="448.40" font-size="6.9" text-anchor="start" fill="#222">STAT6</text>
<text x="188.20" y="456.20" font-size="6.9" text-anchor="start" fill="#222">TP53</text>
<text x="228.90" y="498.40" font-size="8.7" text-anchor="middle" fill="#111" stroke="#111" stroke-width="0.12">Days from diagnosis</text>
<rect x="313.50" y="395.90" width="107.50" height="18.90" fill="#d4e2bf" stroke="none" stroke-width="1"/>
<line x1="313.50" y1="396.30" x2="313.50" y2="469.60" stroke="#777" stroke-width="0.9"/>
<line x1="311.30" y1="469.10" x2="313.50" y2="469.10" stroke="#777" stroke-width="0.9"/>
<text x="311.70" y="472.20" font-size="8.7" text-anchor="end" fill="#222" stroke="#222" stroke-width="0.2">0</text>
<line x1="311.30" y1="454.64" x2="313.50" y2="454.64" stroke="#777" stroke-width="0.9"/>
<text x="311.70" y="457.74" font-size="8.7" text-anchor="end" fill="#222" stroke="#222" stroke-width="0.2">20</text>
<line x1="311.30" y1="440.18" x2="313.50" y2="440.18" stroke="#777" stroke-width="0.9"/>
<text x="311.70" y="443.28" font-size="8.7" text-anchor="end" fill="#222" stroke="#222" stroke-width="0.2">40</text>
<line x1="311.30" y1="425.72" x2="313.50" y2="425.72" stroke="#777" stroke-width="0.9"/>
<text x="311.70" y="428.82" font-size="8.7" text-anchor="end" fill="#222" stroke="#222" stroke-width="0.2">60</text>
<line x1="311.30" y1="411.26" x2="313.50" y2="411.26" stroke="#777" stroke-width="0.9"/>
<text x="311.70" y="414.36" font-size="8.7" text-anchor="end" fill="#222" stroke="#222" stroke-width="0.2">80</text>
<line x1="311.30" y1="396.80" x2="313.50" y2="396.80" stroke="#777" stroke-width="0.9"/>
<text x="311.70" y="399.90" font-size="8.7" text-anchor="end" fill="#222" stroke="#222" stroke-width="0.2">100</text>
<line x1="320.00" y1="476.40" x2="348.30" y2="476.40" stroke="#555" stroke-width="1.0" stroke-dasharray="2.2 2.6"/>
<line x1="348.30" y1="476.40" x2="420.70" y2="476.40" stroke="#444" stroke-width="0.9"/>
<line x1="348.30" y1="474.80" x2="348.30" y2="476.40" stroke="#444" stroke-width="0.9"/>
<text x="348.30" y="487.60" font-size="8.7" text-anchor="middle" fill="#111" stroke="#111" stroke-width="0.2">0</text>
<line x1="366.40" y1="474.80" x2="366.40" y2="476.40" stroke="#444" stroke-width="0.9"/>
<text x="366.40" y="487.60" font-size="8.7" text-anchor="middle" fill="#111" stroke="#111" stroke-width="0.2">250</text>
<line x1="384.50" y1="474.80" x2="384.50" y2="476.40" stroke="#444" stroke-width="0.9"/>
<text x="384.50" y="487.60" font-size="8.7" text-anchor="middle" fill="#111" stroke="#111" stroke-width="0.2">500</text>
<line x1="402.60" y1="474.80" x2="402.60" y2="476.40" stroke="#444" stroke-width="0.9"/>
<text x="402.60" y="487.60" font-size="8.7" text-anchor="middle" fill="#111" stroke="#111" stroke-width="0.2">750</text>
<line x1="420.70" y1="474.80" x2="420.70" y2="476.40" stroke="#444" stroke-width="0.9"/>
<text x="420.70" y="487.60" font-size="8.7" text-anchor="middle" fill="#111" stroke="#111" stroke-width="0.2">1000</text>
<text x="345.30" y="391.40" font-size="8.7" text-anchor="start" fill="#111" stroke="#111" stroke-width="0.12">DLBCL033</text>
<line x1="320.82" y1="466.78" x2="332.05" y2="421.29" stroke="#777" stroke-width="0.75"/>
<polygon points="332.41,419.83 333.18,422.70 330.40,422.01" fill="#111"/>
<circle cx="320.20" cy="469.30" r="2.5" fill="#fff" stroke="#999" stroke-width="0.8"/>
<line x1="336.20" y1="413.40" x2="342.24" y2="411.36" stroke="#555" stroke-width="0.8"/>
<polygon points="343.90,410.80 341.97,412.90 341.09,410.30" fill="#111"/>
<line x1="343.90" y1="410.80" x2="409.76" y2="403.88" stroke="#6a6a6a" stroke-width="0.8"/>
<polygon points="411.50,403.70 409.16,405.33 408.87,402.59" fill="#111"/>
<circle cx="333.80" cy="414.20" r="2.75" fill="#9a9a9a" stroke="none" stroke-width="0"/>
<circle cx="348.50" cy="408.50" r="2.75" fill="#e47f2a" stroke="none" stroke-width="0"/>
<circle cx="416.80" cy="402.40" r="2.75" fill="#98c9ef" stroke="none" stroke-width="0"/>
<text x="336.40" y="408.40" font-size="7.8" text-anchor="middle" fill="#222" stroke="#222" stroke-width="0.08">8</text>
<text x="374.00" y="417.00" font-size="7.8" text-anchor="middle" fill="#222" stroke="#222" stroke-width="0.08">17</text>
<text x="321.30" y="442.40" font-size="7.8" text-anchor="middle" fill="#222" stroke="#222" stroke-width="0.08">75</text>
<text x="330.80" y="446.00" font-size="6.9" text-anchor="start" fill="#222">MYD88</text>
<text x="330.80" y="454.50" font-size="6.9" text-anchor="start" fill="#222">PIM1 (1)</text>
<text x="385.40" y="425.40" font-size="6.9" text-anchor="start" fill="#bddcf3">TNFRSF14</text>
<text x="385.40" y="433.60" font-size="6.9" text-anchor="start" fill="#bddcf3">BCR</text>
<text x="385.40" y="441.70" font-size="6.9" text-anchor="start" fill="#bddcf3">PIM1 (2)</text>
<text x="369.70" y="498.40" font-size="8.7" text-anchor="middle" fill="#111" stroke="#111" stroke-width="0.12">Days from diagnosis</text>
<text x="448.00" y="307.40" font-size="8.4" font-weight="bold" text-anchor="start" fill="#111" stroke="#111" stroke-width="0.12">Legend</text>
<circle cx="452.20" cy="321.70" r="3.4" fill="#fff" stroke="#999" stroke-width="1.0"/>
<circle cx="452.20" cy="344.20" r="4.0" fill="#9a9a9a" stroke="none" stroke-width="0"/>
<circle cx="452.00" cy="372.00" r="4.0" fill="#e47f2a" stroke="none" stroke-width="0"/>
<circle cx="451.80" cy="394.30" r="4.0" fill="#98c9ef" stroke="none" stroke-width="0"/>
<circle cx="451.80" cy="417.20" r="4.0" fill="#58a858" stroke="none" stroke-width="0"/>
<text x="461.60" y="324.90" font-size="8.9" text-anchor="start" fill="#111" stroke="#111" stroke-width="0.12">Germline</text>
<text x="461.60" y="349.00" font-size="8.9" text-anchor="start" fill="#111" stroke="#111" stroke-width="0.12">CIP</text>
<text x="461.60" y="375.40" font-size="8.9" text-anchor="start" fill="#111" stroke="#111" stroke-width="0.12">Tumor 1</text>
<text x="461.60" y="398.00" font-size="8.9" text-anchor="start" fill="#111" stroke="#111" stroke-width="0.12">Tumor 2</text>
<text x="461.60" y="420.60" font-size="8.9" text-anchor="start" fill="#111" stroke="#111" stroke-width="0.12">Tumor 3</text>
<rect x="441.50" y="438.20" width="20.20" height="13.80" fill="#ccd9b2" stroke="none" stroke-width="1"/>
<path d="M460.2 437.0 H463.6 V454.4 H460.2 M463.6 445.7 H466.6" fill="none" stroke="#666" stroke-width="0.8"/>
<text x="490.60" y="445.20" font-size="8.9" text-anchor="middle" fill="#111" stroke="#111" stroke-width="0.12">Clonal</text>
<text x="490.60" y="455.20" font-size="8.9" text-anchor="middle" fill="#111" stroke="#111" stroke-width="0.12">divergence</text>
</svg>
</body></html>
